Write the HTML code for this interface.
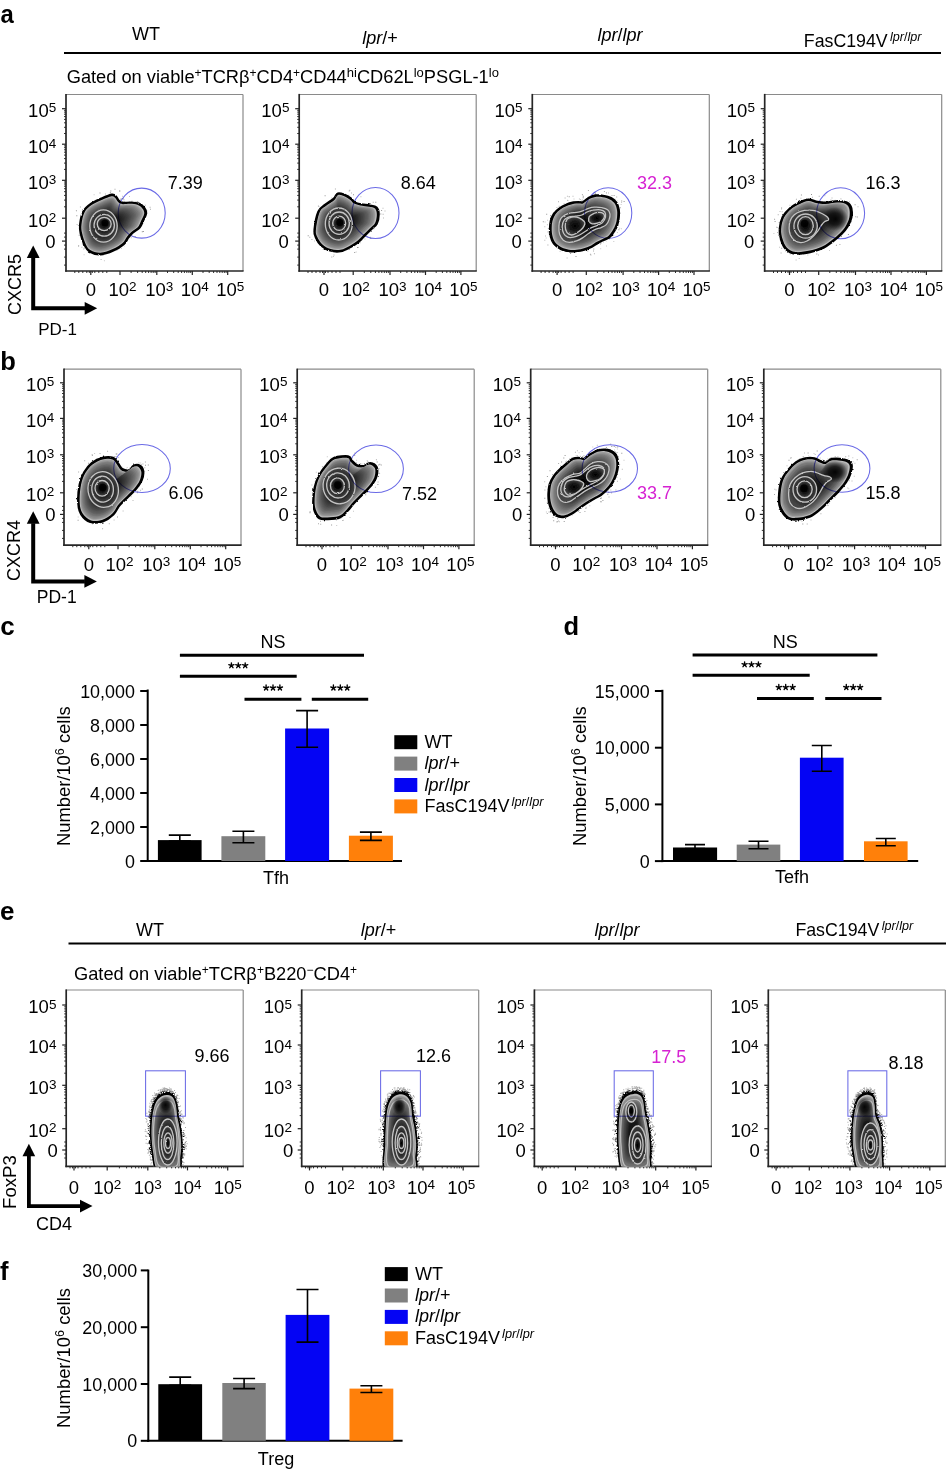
<!DOCTYPE html>
<html><head><meta charset="utf-8"><style>html,body{margin:0;padding:0;background:#fff;overflow:hidden;}svg{display:block;}text{font-family:"Liberation Sans", sans-serif;}</style></head>
<body><svg width="946" height="1469" viewBox="0 0 946 1469"><defs><filter id="rough" x="-10%" y="-10%" width="120%" height="120%"><feTurbulence type="fractalNoise" baseFrequency="0.35" numOctaves="2" seed="3"/><feDisplacementMap in="SourceGraphic" scale="2.2" xChannelSelector="R" yChannelSelector="G"/></filter><filter id="rough2" x="-10%" y="-10%" width="120%" height="120%"><feTurbulence type="fractalNoise" baseFrequency="0.25" numOctaves="2" seed="9"/><feDisplacementMap in="SourceGraphic" scale="1.8" xChannelSelector="R" yChannelSelector="G"/></filter><path id="p1" d="M80.8,224.5C81.2,220.9 82.2,215.3 84,211.9C85.8,208.5 88.6,206.4 91.6,204.3C94.5,202.2 98.3,200.7 101.7,199.2C105.1,197.7 109.6,195.7 111.9,195.4C114.2,195.1 114.6,196.2 115.7,197.3C116.8,198.4 117.5,200.6 118.8,201.7C120.1,202.8 121.3,203.3 123.3,203.6C125.3,203.8 128.4,203.1 130.9,203.2C133.4,203.3 136.4,203.5 138.5,204.3C140.6,205.1 142.4,206.6 143.6,208.1C144.8,209.6 145.7,211 145.5,213.1C145.3,215.2 143.4,218.4 142.3,220.7C141.2,223 140.8,225.2 139.1,227.1C137.4,229 134.1,230.5 132.2,232.2C130.3,233.9 129.2,235.3 127.7,237.2C126.2,239.1 125.7,241.5 123.3,243.6C120.9,245.7 116.9,248.2 113.1,249.9C109.3,251.6 104.2,253.5 100.4,253.7C96.6,253.9 92.8,252.7 90.3,251.2C87.8,249.7 86.7,247.8 85.2,244.8C83.7,241.8 82.1,236.8 81.4,233.4C80.7,230 80.4,228.1 80.8,224.5Z"/><radialGradient id="rg2"><stop offset="0" stop-color="#000"/><stop offset="0.55" stop-color="#1a1a1a"/><stop offset="1" stop-color="#444"/></radialGradient><radialGradient id="rg3"><stop offset="0" stop-color="#000"/><stop offset="0.55" stop-color="#1a1a1a"/><stop offset="1" stop-color="#444"/></radialGradient><radialGradient id="rg4"><stop offset="0" stop-color="#000"/><stop offset="0.55" stop-color="#1a1a1a"/><stop offset="1" stop-color="#444"/></radialGradient><path id="p5" d="M315.2,229.6C315.6,225.4 317.3,215.9 319,211.9C320.7,207.9 322.8,207.6 325.4,205.5C327.9,203.4 332.2,201.1 334.3,199.2C336.4,197.3 336.4,194.7 338.1,194.1C339.8,193.5 342.3,194.6 344.4,195.4C346.5,196.2 349,197.9 350.7,199.2C352.4,200.5 352.8,202.1 354.5,203C356.2,203.9 358.3,204.4 360.9,204.9C363.4,205.4 367.3,205.7 369.8,206.2C372.3,206.7 374.7,206.7 376.1,208.1C377.5,209.5 378,211.9 378,214.4C378,216.9 377.3,221 376.1,223.3C374.9,225.6 372.9,226.5 371,228.4C369.1,230.3 366.8,232.6 364.7,234.7C362.6,236.8 360.7,239.1 358.4,241C356.1,242.9 353.7,244.5 350.7,246.1C347.7,247.7 344,250 340.6,250.6C337.2,251.2 333.6,250.9 330.4,249.9C327.2,248.9 323.9,246.9 321.6,244.8C319.3,242.7 317.6,239.7 316.5,237.2C315.4,234.7 314.8,233.8 315.2,229.6Z"/><radialGradient id="rg6"><stop offset="0" stop-color="#000"/><stop offset="0.55" stop-color="#1a1a1a"/><stop offset="1" stop-color="#444"/></radialGradient><radialGradient id="rg7"><stop offset="0" stop-color="#000"/><stop offset="0.55" stop-color="#1a1a1a"/><stop offset="1" stop-color="#444"/></radialGradient><radialGradient id="rg8"><stop offset="0" stop-color="#000"/><stop offset="0.55" stop-color="#1a1a1a"/><stop offset="1" stop-color="#444"/></radialGradient><path id="p9" d="M550.7,228.3C550.7,225.7 550.9,223.3 551.5,220.9C552.1,218.6 553.1,216.2 554.4,214.2C555.8,212.3 557.6,210.5 559.6,209.1C561.6,207.6 563.9,206.3 566.3,205.4C568.6,204.4 571.5,203.6 573.7,203.1C575.9,202.7 578.1,202.8 579.6,202.8C581.1,202.8 581.7,203.3 582.6,203.1C583.4,203 583.6,202.5 584.8,201.7C586,200.8 588.1,198.9 590,198C591.8,197 593.7,196.4 595.9,196.1C598.1,195.9 600.8,196 603.3,196.5C605.8,196.9 608.6,197.6 610.7,198.7C612.8,199.8 614.6,201.3 615.9,203.1C617.1,205 617.7,207.5 618.1,209.8C618.5,212.1 618.3,214.7 618.1,217.2C617.9,219.7 617.4,222.4 616.6,224.6C615.9,226.8 614.9,228.6 613.7,230.5C612.4,232.5 610.9,235 609.2,236.5C607.5,237.9 605.3,238.4 603.3,239.4C601.3,240.4 599.3,241.3 597.4,242.4C595.4,243.5 593.7,245 591.5,246.1C589.2,247.2 586.5,248.3 584,249C581.6,249.8 579.2,250.3 576.6,250.5C574.1,250.8 571.1,250.9 568.5,250.5C565.9,250.1 563.4,249.5 561.1,248.3C558.8,247.1 556,245.1 554.4,243.1C552.8,241.1 552.1,238.9 551.5,236.5C550.9,234 550.7,230.9 550.7,228.3Z"/><radialGradient id="sg10"><stop offset="0" stop-color="#000" stop-opacity="0.95"/><stop offset="0.5" stop-color="#000" stop-opacity="0.7"/><stop offset="1" stop-color="#000" stop-opacity="0"/></radialGradient><radialGradient id="sg11"><stop offset="0" stop-color="#000" stop-opacity="0.95"/><stop offset="0.5" stop-color="#000" stop-opacity="0.7"/><stop offset="1" stop-color="#000" stop-opacity="0"/></radialGradient><radialGradient id="rg12"><stop offset="0" stop-color="#000"/><stop offset="0.55" stop-color="#1a1a1a"/><stop offset="1" stop-color="#444"/></radialGradient><radialGradient id="rg13"><stop offset="0" stop-color="#000"/><stop offset="0.55" stop-color="#1a1a1a"/><stop offset="1" stop-color="#444"/></radialGradient><radialGradient id="rg14"><stop offset="0" stop-color="#000"/><stop offset="0.55" stop-color="#1a1a1a"/><stop offset="1" stop-color="#444"/></radialGradient><radialGradient id="rg15"><stop offset="0" stop-color="#000"/><stop offset="0.55" stop-color="#1a1a1a"/><stop offset="1" stop-color="#444"/></radialGradient><path id="p16" d="M780.4,229.2C780.6,225.5 781.6,220.8 783.3,217.4C785,214 788,210.8 790.7,208.5C793.4,206.2 796.6,204.7 799.6,203.3C802.6,201.9 805.5,200.4 808.5,200.3C811.5,200.2 814.4,202.1 817.4,202.6C820.4,203.1 822.8,203.4 826.2,203.3C829.7,203.2 834.6,201.8 838.1,201.8C841.6,201.8 844.9,202.2 847,203.3C849.1,204.4 850.1,206.2 850.7,208.5C851.3,210.8 851.3,214.5 850.7,217.4C850.1,220.3 848.6,223.5 847,226.2C845.4,228.9 843.5,231.1 841,233.6C838.5,236.1 835.2,238.8 832.2,241C829.2,243.2 827,245.3 823.3,247C819.6,248.7 814.7,250.4 810,251.4C805.3,252.4 799.2,253.4 795.2,252.9C791.2,252.4 788.5,250.6 786.3,248.4C784.1,246.2 782.8,242.8 781.8,239.6C780.8,236.4 780.1,232.9 780.4,229.2Z"/><radialGradient id="sg17"><stop offset="0" stop-color="#000" stop-opacity="0.95"/><stop offset="0.5" stop-color="#000" stop-opacity="0.7"/><stop offset="1" stop-color="#000" stop-opacity="0"/></radialGradient><radialGradient id="rg18"><stop offset="0" stop-color="#000"/><stop offset="0.55" stop-color="#1a1a1a"/><stop offset="1" stop-color="#444"/></radialGradient><radialGradient id="rg19"><stop offset="0" stop-color="#000"/><stop offset="0.55" stop-color="#1a1a1a"/><stop offset="1" stop-color="#444"/></radialGradient><radialGradient id="rg20"><stop offset="0" stop-color="#000"/><stop offset="0.55" stop-color="#1a1a1a"/><stop offset="1" stop-color="#444"/></radialGradient><path id="p21" d="M78.9,502.2C78.7,497.3 79.4,489.3 80.4,484.4C81.4,479.5 82.8,476.1 84.8,472.6C86.8,469.2 89.2,466.1 92.2,463.7C95.2,461.3 99.1,459.4 102.6,458.5C106,457.6 110.4,457.6 112.9,458.5C115.4,459.4 115.9,461.8 117.4,463.7C118.9,465.6 119.8,468.4 121.8,469.6C123.8,470.8 127.2,471.6 129.2,471.1C131.2,470.6 132,467.5 133.6,466.6C135.2,465.7 137.3,465.1 138.8,465.9C140.3,466.6 142.1,468.8 142.5,471.1C142.9,473.5 142.2,477.1 141,480C139.8,482.9 137.3,486.1 135.1,488.8C132.9,491.5 130.4,493.5 127.7,496.2C125,498.9 121.3,502.1 118.8,505.1C116.3,508.1 115.6,511.4 112.9,514C110.2,516.6 106.3,519.5 102.6,520.7C98.9,521.9 94.2,522.5 90.7,521.4C87.2,520.3 83.8,517.2 81.8,514C79.8,510.8 79.1,507.1 78.9,502.2Z"/><radialGradient id="rg22"><stop offset="0" stop-color="#000"/><stop offset="0.55" stop-color="#1a1a1a"/><stop offset="1" stop-color="#444"/></radialGradient><radialGradient id="rg23"><stop offset="0" stop-color="#000"/><stop offset="0.55" stop-color="#1a1a1a"/><stop offset="1" stop-color="#444"/></radialGradient><radialGradient id="rg24"><stop offset="0" stop-color="#000"/><stop offset="0.55" stop-color="#1a1a1a"/><stop offset="1" stop-color="#444"/></radialGradient><path id="p25" d="M313.9,502.2C313.9,498.3 314.4,491.8 315.4,487.4C316.4,482.9 317.8,479.2 319.8,475.5C321.8,471.8 324.7,468 327.2,465.2C329.7,462.4 331.2,459.9 334.6,458.5C338.1,457.1 345.2,456.6 347.9,457C350.6,457.4 349.4,459.2 350.9,460.7C352.4,462.2 354.6,464.9 356.8,465.9C359,466.9 362,467 364.2,466.6C366.4,466.2 368.1,463.6 370.1,463.7C372.1,463.8 375,465.4 376,467.4C377,469.4 376.6,472.9 376,475.5C375.4,478.1 373.8,480.7 372.3,482.9C370.8,485.1 369.1,486.8 367.2,488.8C365.3,490.8 363.4,492.6 361.2,494.8C359,497 356.3,499.5 353.8,502.2C351.3,504.9 348.9,508.5 346.4,511C343.9,513.5 342.2,515.8 339,517C335.8,518.2 330.4,518.3 327.2,518.4C324,518.5 321.8,518.9 319.8,517.7C317.8,516.5 316.4,513.6 315.4,511C314.4,508.4 313.9,506.1 313.9,502.2Z"/><radialGradient id="rg26"><stop offset="0" stop-color="#000"/><stop offset="0.55" stop-color="#1a1a1a"/><stop offset="1" stop-color="#444"/></radialGradient><radialGradient id="rg27"><stop offset="0" stop-color="#000"/><stop offset="0.55" stop-color="#1a1a1a"/><stop offset="1" stop-color="#444"/></radialGradient><radialGradient id="rg28"><stop offset="0" stop-color="#000"/><stop offset="0.55" stop-color="#1a1a1a"/><stop offset="1" stop-color="#444"/></radialGradient><path id="p29" d="M549.1,493.7C549.3,490.9 549.5,487.3 550.3,484.5C551.1,481.7 552.6,479.2 554.1,476.9C555.6,474.6 557.4,472.9 559.4,470.8C561.4,468.8 564,466.6 566.3,464.7C568.5,462.8 570.8,460.4 573.1,459.4C575.4,458.4 578.1,458.7 580,458.7C581.9,458.7 582.8,460 584.5,459.4C586.3,458.8 588.3,456.2 590.6,454.8C592.9,453.5 595.7,451.8 598.2,451C600.8,450.3 603.4,450 605.8,450.3C608.2,450.5 610.9,451.3 612.7,452.6C614.5,453.8 615.7,455.7 616.5,457.9C617.3,460 617.4,462.8 617.3,465.5C617.1,468.2 616.6,471.1 615.7,473.9C614.8,476.7 613.4,479.7 611.9,482.2C610.4,484.8 608.5,487.1 606.6,489.1C604.7,491.1 602.7,492.9 600.5,494.4C598.4,495.9 596.1,496.8 593.7,498.2C591.3,499.6 588.6,501.1 586.1,502.8C583.5,504.4 581,506.3 578.4,508.1C575.9,509.9 573.4,512.1 570.8,513.4C568.3,514.8 565.6,516.2 563.2,516.5C560.8,516.7 558.3,516.2 556.4,515C554.5,513.7 552.9,511.2 551.8,508.9C550.7,506.6 550,503.8 549.5,501.3C549.1,498.7 549,496.5 549.1,493.7Z"/><radialGradient id="sg30"><stop offset="0" stop-color="#000" stop-opacity="0.95"/><stop offset="0.5" stop-color="#000" stop-opacity="0.7"/><stop offset="1" stop-color="#000" stop-opacity="0"/></radialGradient><radialGradient id="sg31"><stop offset="0" stop-color="#000" stop-opacity="0.95"/><stop offset="0.5" stop-color="#000" stop-opacity="0.7"/><stop offset="1" stop-color="#000" stop-opacity="0"/></radialGradient><radialGradient id="rg32"><stop offset="0" stop-color="#000"/><stop offset="0.55" stop-color="#1a1a1a"/><stop offset="1" stop-color="#444"/></radialGradient><radialGradient id="rg33"><stop offset="0" stop-color="#000"/><stop offset="0.55" stop-color="#1a1a1a"/><stop offset="1" stop-color="#444"/></radialGradient><radialGradient id="rg34"><stop offset="0" stop-color="#000"/><stop offset="0.55" stop-color="#1a1a1a"/><stop offset="1" stop-color="#444"/></radialGradient><radialGradient id="rg35"><stop offset="0" stop-color="#000"/><stop offset="0.55" stop-color="#1a1a1a"/><stop offset="1" stop-color="#444"/></radialGradient><path id="p36" d="M779.6,498.1C779.7,493.7 780.4,486.2 781.8,481.8C783.2,477.4 785.3,474.6 787.8,471.4C790.3,468.2 793.6,464.7 796.6,462.6C799.6,460.5 802.5,459.5 805.5,458.9C808.5,458.3 811.9,458.4 814.4,458.9C816.9,459.4 818.3,461.1 820.3,461.8C822.3,462.5 824.2,463.7 826.2,463.3C828.2,462.9 829.2,460.1 832.2,459.6C835.2,459.1 840.9,459.6 844,460.3C847.1,461 849.7,461.9 850.7,464C851.7,466.1 850.8,469.9 849.9,472.9C849,475.9 847.5,478.8 845.5,481.8C843.5,484.8 840.8,487.7 838.1,490.7C835.4,493.7 832.2,496.7 829.2,499.6C826.2,502.6 823.5,505.7 820.3,508.4C817.1,511.1 814,514.1 810,515.8C806,517.5 800.3,518.5 796.6,518.8C792.9,519 790.4,519 787.8,517.3C785.2,515.6 782.5,511.6 781.1,508.4C779.7,505.2 779.5,502.5 779.6,498.1Z"/><radialGradient id="sg37"><stop offset="0" stop-color="#000" stop-opacity="0.95"/><stop offset="0.5" stop-color="#000" stop-opacity="0.7"/><stop offset="1" stop-color="#000" stop-opacity="0"/></radialGradient><radialGradient id="rg38"><stop offset="0" stop-color="#000"/><stop offset="0.55" stop-color="#1a1a1a"/><stop offset="1" stop-color="#444"/></radialGradient><radialGradient id="rg39"><stop offset="0" stop-color="#000"/><stop offset="0.55" stop-color="#1a1a1a"/><stop offset="1" stop-color="#444"/></radialGradient><radialGradient id="rg40"><stop offset="0" stop-color="#000"/><stop offset="0.55" stop-color="#1a1a1a"/><stop offset="1" stop-color="#444"/></radialGradient><clipPath id="ce0"><rect x="66.2" y="990" width="177" height="176.4"/></clipPath><clipPath id="ce1"><rect x="301.7" y="990" width="177" height="176.4"/></clipPath><clipPath id="ce2"><rect x="534.4" y="990" width="177" height="176.4"/></clipPath><clipPath id="ce3"><rect x="768.3" y="990" width="177" height="176.4"/></clipPath><path id="p41" d="M157.9,1172C153.7,1168.8 153.9,1159 152.8,1153C151.7,1147 151.3,1141.7 151.1,1136.1C150.9,1130.5 151.2,1124.1 151.6,1119.2C152,1114.3 152.8,1109.9 153.7,1106.5C154.6,1103.1 155.7,1100.9 157.1,1098.9C158.5,1096.9 160.3,1095.6 162.1,1094.7C163.9,1093.8 166.3,1093.5 168.1,1093.8C169.9,1094.1 171.8,1094.7 173.1,1096.4C174.4,1098.1 175.4,1100.9 176.1,1104C176.8,1107.1 176.8,1111 177.4,1115C178,1119 179.2,1122.8 179.9,1127.7C180.6,1132.6 181.5,1139.7 181.6,1144.6C181.7,1149.5 181.3,1152.7 180.7,1157.3C180.1,1161.9 182,1169.5 178.2,1172C174.4,1174.5 162.1,1175.2 157.9,1172Z"/><radialGradient id="sg42"><stop offset="0" stop-color="#000" stop-opacity="0.95"/><stop offset="0.5" stop-color="#000" stop-opacity="0.7"/><stop offset="1" stop-color="#000" stop-opacity="0"/></radialGradient><radialGradient id="rg43"><stop offset="0" stop-color="#000"/><stop offset="0.55" stop-color="#1a1a1a"/><stop offset="1" stop-color="#444"/></radialGradient><radialGradient id="rg44"><stop offset="0" stop-color="#000"/><stop offset="0.55" stop-color="#1a1a1a"/><stop offset="1" stop-color="#444"/></radialGradient><radialGradient id="rg45"><stop offset="0" stop-color="#000"/><stop offset="0.55" stop-color="#1a1a1a"/><stop offset="1" stop-color="#444"/></radialGradient><radialGradient id="rg46"><stop offset="0" stop-color="#000"/><stop offset="0.55" stop-color="#1a1a1a"/><stop offset="1" stop-color="#444"/></radialGradient><path id="p47" d="M386.1,1172C381.2,1167.4 385,1152 384.9,1144.6C384.8,1137.2 385,1133.3 385.3,1127.7C385.6,1122.1 385.9,1115.2 386.6,1110.7C387.3,1106.2 388.2,1103.3 389.5,1100.6C390.8,1097.9 392.6,1096 394.6,1094.7C396.6,1093.4 399.3,1092.9 401.4,1093C403.5,1093.1 405.7,1094 407.3,1095.5C408.9,1097 410.2,1099 411.1,1102.3C412,1105.5 411.8,1110.8 412.4,1115C413,1119.2 414.2,1122.8 414.9,1127.7C415.6,1132.6 416.5,1139.7 416.6,1144.6C416.7,1149.5 416.1,1152.7 415.7,1157.3C415.3,1161.9 418.9,1169.5 414,1172C409.1,1174.5 391,1176.6 386.1,1172Z"/><radialGradient id="sg48"><stop offset="0" stop-color="#000" stop-opacity="0.95"/><stop offset="0.5" stop-color="#000" stop-opacity="0.7"/><stop offset="1" stop-color="#000" stop-opacity="0"/></radialGradient><radialGradient id="rg49"><stop offset="0" stop-color="#000"/><stop offset="0.55" stop-color="#1a1a1a"/><stop offset="1" stop-color="#444"/></radialGradient><radialGradient id="rg50"><stop offset="0" stop-color="#000"/><stop offset="0.55" stop-color="#1a1a1a"/><stop offset="1" stop-color="#444"/></radialGradient><radialGradient id="rg51"><stop offset="0" stop-color="#000"/><stop offset="0.55" stop-color="#1a1a1a"/><stop offset="1" stop-color="#444"/></radialGradient><radialGradient id="rg52"><stop offset="0" stop-color="#000"/><stop offset="0.55" stop-color="#1a1a1a"/><stop offset="1" stop-color="#444"/></radialGradient><path id="p53" d="M623.7,1172C618.8,1168.1 619.5,1156.2 618.6,1148.8C617.7,1141.4 618.1,1134 618.2,1127.7C618.4,1121.4 618.9,1115.2 619.5,1110.7C620.1,1106.2 620.7,1103.3 622,1100.6C623.3,1097.9 625.1,1096 627.1,1094.7C629.1,1093.4 631.7,1092.8 633.8,1092.6C635.9,1092.4 638.2,1092.8 639.7,1093.8C641.2,1094.8 642.2,1096.1 643.1,1098.9C644,1101.7 644.1,1106.6 644.8,1110.7C645.5,1114.8 646.5,1118.5 647.4,1123.4C648.2,1128.3 649.5,1134.7 649.9,1140.3C650.3,1145.9 650.2,1152 649.9,1157.3C649.6,1162.6 652.6,1169.5 648.2,1172C643.8,1174.5 628.6,1175.9 623.7,1172Z"/><radialGradient id="rg54"><stop offset="0" stop-color="#000"/><stop offset="0.55" stop-color="#1a1a1a"/><stop offset="1" stop-color="#444"/></radialGradient><radialGradient id="rg55"><stop offset="0" stop-color="#000"/><stop offset="0.55" stop-color="#1a1a1a"/><stop offset="1" stop-color="#444"/></radialGradient><radialGradient id="rg56"><stop offset="0" stop-color="#000"/><stop offset="0.55" stop-color="#1a1a1a"/><stop offset="1" stop-color="#444"/></radialGradient><radialGradient id="rg57"><stop offset="0" stop-color="#000"/><stop offset="0.55" stop-color="#1a1a1a"/><stop offset="1" stop-color="#444"/></radialGradient><radialGradient id="rg58"><stop offset="0" stop-color="#000"/><stop offset="0.55" stop-color="#1a1a1a"/><stop offset="1" stop-color="#444"/></radialGradient><path id="p59" d="M859.5,1172C855,1168.8 854.8,1159 853.6,1153C852.4,1147 852.4,1141.7 852.3,1136.1C852.2,1130.5 852.7,1124.1 853.2,1119.2C853.7,1114.3 854.4,1110 855.3,1106.5C856.2,1103 857.3,1100.1 858.7,1098.1C860.1,1096 862.1,1094.9 863.8,1094.2C865.5,1093.5 867.2,1093.4 868.8,1093.8C870.3,1094.2 872.1,1094.7 873.1,1096.4C874.1,1098.1 874.3,1100.9 874.7,1104C875.1,1107.1 874.9,1111.8 875.6,1115C876.3,1118.2 878,1119.9 879,1123.4C880,1126.9 881,1131.2 881.5,1136.1C882,1141 882,1147 881.9,1153C881.8,1159 884.4,1168.8 880.7,1172C877,1175.2 864,1175.2 859.5,1172Z"/><radialGradient id="sg60"><stop offset="0" stop-color="#000" stop-opacity="0.95"/><stop offset="0.5" stop-color="#000" stop-opacity="0.7"/><stop offset="1" stop-color="#000" stop-opacity="0"/></radialGradient><radialGradient id="rg61"><stop offset="0" stop-color="#000"/><stop offset="0.55" stop-color="#1a1a1a"/><stop offset="1" stop-color="#444"/></radialGradient><radialGradient id="rg62"><stop offset="0" stop-color="#000"/><stop offset="0.55" stop-color="#1a1a1a"/><stop offset="1" stop-color="#444"/></radialGradient><radialGradient id="rg63"><stop offset="0" stop-color="#000"/><stop offset="0.55" stop-color="#1a1a1a"/><stop offset="1" stop-color="#444"/></radialGradient><radialGradient id="rg64"><stop offset="0" stop-color="#000"/><stop offset="0.55" stop-color="#1a1a1a"/><stop offset="1" stop-color="#444"/></radialGradient></defs><text x="0.3" y="22.5" font-size="26.5" font-weight="bold" transform="translate(0.3 0) scale(0.9 1)">a</text><text x="0.3" y="369.6" font-size="25.5" text-anchor="start" fill="#000" font-weight="bold" font-style="normal" >b</text><text x="0.3" y="634.5" font-size="26" text-anchor="start" fill="#000" font-weight="bold" font-style="normal" >c</text><text x="563.5" y="635.3" font-size="25.5" text-anchor="start" fill="#000" font-weight="bold" font-style="normal" >d</text><text x="0" y="920.4" font-size="26" text-anchor="start" fill="#000" font-weight="bold" font-style="normal" >e</text><text x="0" y="1280.1" font-size="25.5" text-anchor="start" fill="#000" font-weight="bold" font-style="normal" >f</text><line x1="64" y1="53" x2="941" y2="53" stroke="#000" stroke-width="2.2" stroke-linecap="butt"/><text x="146" y="39.8" font-size="18" text-anchor="middle" fill="#000" font-weight="normal" font-style="normal" >WT</text><text x="380" y="43.7" font-size="18" text-anchor="middle"><tspan font-style="italic">lpr</tspan>/+</text><text x="620" y="40.7" font-size="18" text-anchor="middle"><tspan font-style="italic">lpr</tspan>/<tspan font-style="italic">lpr</tspan></text><text x="803.8" y="46.7" font-size="17.75">FasC194V<tspan dx="2.4" dy="-6" font-size="12.6"><tspan font-style="italic">lpr</tspan>/<tspan font-style="italic">lpr</tspan></tspan></text><text x="66.7" y="82.8" font-size="18.25">Gated on viable<tspan dy="-6" font-size="12">+</tspan><tspan dy="6">TCR&#946;</tspan><tspan dy="-6" font-size="12">+</tspan><tspan dy="6">CD4</tspan><tspan dy="-6" font-size="12">+</tspan><tspan dy="6">CD44</tspan><tspan dy="-6" font-size="13">hi</tspan><tspan dy="6">CD62L</tspan><tspan dy="-6" font-size="13">lo</tspan><tspan dy="6">PSGL-1</tspan><tspan dy="-6" font-size="13">lo</tspan></text><line x1="66" y1="94.5" x2="243" y2="94.5" stroke="#8a8a8a" stroke-width="1.2" stroke-linecap="butt"/><line x1="243" y1="94.5" x2="243" y2="271" stroke="#8a8a8a" stroke-width="1.2" stroke-linecap="butt"/><line x1="64" y1="133.5" x2="66" y2="133.5" stroke="#333" stroke-width="1" stroke-linecap="butt"/><line x1="64" y1="127.3" x2="66" y2="127.3" stroke="#333" stroke-width="1" stroke-linecap="butt"/><line x1="64" y1="122.8" x2="66" y2="122.8" stroke="#333" stroke-width="1" stroke-linecap="butt"/><line x1="64" y1="119.4" x2="66" y2="119.4" stroke="#333" stroke-width="1" stroke-linecap="butt"/><line x1="64" y1="116.6" x2="66" y2="116.6" stroke="#333" stroke-width="1" stroke-linecap="butt"/><line x1="64" y1="114.2" x2="66" y2="114.2" stroke="#333" stroke-width="1" stroke-linecap="butt"/><line x1="64" y1="112.1" x2="66" y2="112.1" stroke="#333" stroke-width="1" stroke-linecap="butt"/><line x1="64" y1="110.3" x2="66" y2="110.3" stroke="#333" stroke-width="1" stroke-linecap="butt"/><line x1="64" y1="169.4" x2="66" y2="169.4" stroke="#333" stroke-width="1" stroke-linecap="butt"/><line x1="64" y1="163.1" x2="66" y2="163.1" stroke="#333" stroke-width="1" stroke-linecap="butt"/><line x1="64" y1="158.6" x2="66" y2="158.6" stroke="#333" stroke-width="1" stroke-linecap="butt"/><line x1="64" y1="155.1" x2="66" y2="155.1" stroke="#333" stroke-width="1" stroke-linecap="butt"/><line x1="64" y1="152.2" x2="66" y2="152.2" stroke="#333" stroke-width="1" stroke-linecap="butt"/><line x1="64" y1="149.8" x2="66" y2="149.8" stroke="#333" stroke-width="1" stroke-linecap="butt"/><line x1="64" y1="147.7" x2="66" y2="147.7" stroke="#333" stroke-width="1" stroke-linecap="butt"/><line x1="64" y1="145.9" x2="66" y2="145.9" stroke="#333" stroke-width="1" stroke-linecap="butt"/><line x1="64" y1="206.8" x2="66" y2="206.8" stroke="#333" stroke-width="1" stroke-linecap="butt"/><line x1="64" y1="200.1" x2="66" y2="200.1" stroke="#333" stroke-width="1" stroke-linecap="butt"/><line x1="64" y1="195.4" x2="66" y2="195.4" stroke="#333" stroke-width="1" stroke-linecap="butt"/><line x1="64" y1="191.7" x2="66" y2="191.7" stroke="#333" stroke-width="1" stroke-linecap="butt"/><line x1="64" y1="188.7" x2="66" y2="188.7" stroke="#333" stroke-width="1" stroke-linecap="butt"/><line x1="64" y1="186.2" x2="66" y2="186.2" stroke="#333" stroke-width="1" stroke-linecap="butt"/><line x1="64" y1="184" x2="66" y2="184" stroke="#333" stroke-width="1" stroke-linecap="butt"/><line x1="64" y1="182" x2="66" y2="182" stroke="#333" stroke-width="1" stroke-linecap="butt"/><line x1="64" y1="233.1" x2="66" y2="233.1" stroke="#333" stroke-width="1" stroke-linecap="butt"/><line x1="64" y1="237.1" x2="66" y2="237.1" stroke="#333" stroke-width="1" stroke-linecap="butt"/><line x1="64" y1="245.1" x2="66" y2="245.1" stroke="#333" stroke-width="1" stroke-linecap="butt"/><line x1="64" y1="249.1" x2="66" y2="249.1" stroke="#333" stroke-width="1" stroke-linecap="butt"/><line x1="64" y1="257.1" x2="66" y2="257.1" stroke="#333" stroke-width="1" stroke-linecap="butt"/><line x1="64" y1="265.1" x2="66" y2="265.1" stroke="#333" stroke-width="1" stroke-linecap="butt"/><line x1="62" y1="108.7" x2="66" y2="108.7" stroke="#222" stroke-width="1.2" stroke-linecap="butt"/><text x="56.2" y="117" font-size="18.5" text-anchor="end">10<tspan dy="-4.8" font-size="13.5">5</tspan></text><line x1="62" y1="144.2" x2="66" y2="144.2" stroke="#222" stroke-width="1.2" stroke-linecap="butt"/><text x="56.2" y="152.5" font-size="18.5" text-anchor="end">10<tspan dy="-4.8" font-size="13.5">4</tspan></text><line x1="62" y1="180.3" x2="66" y2="180.3" stroke="#222" stroke-width="1.2" stroke-linecap="butt"/><text x="56.2" y="188.6" font-size="18.5" text-anchor="end">10<tspan dy="-4.8" font-size="13.5">3</tspan></text><line x1="62" y1="218.2" x2="66" y2="218.2" stroke="#222" stroke-width="1.2" stroke-linecap="butt"/><text x="56.2" y="226.5" font-size="18.5" text-anchor="end">10<tspan dy="-4.8" font-size="13.5">2</tspan></text><line x1="62" y1="241.1" x2="66" y2="241.1" stroke="#222" stroke-width="1.2" stroke-linecap="butt"/><text x="55.5" y="247.9" font-size="18.5" text-anchor="end">0</text><line x1="131.1" y1="271" x2="131.1" y2="273" stroke="#333" stroke-width="1" stroke-linecap="butt"/><line x1="137.6" y1="271" x2="137.6" y2="273" stroke="#333" stroke-width="1" stroke-linecap="butt"/><line x1="142.2" y1="271" x2="142.2" y2="273" stroke="#333" stroke-width="1" stroke-linecap="butt"/><line x1="145.7" y1="271" x2="145.7" y2="273" stroke="#333" stroke-width="1" stroke-linecap="butt"/><line x1="148.6" y1="271" x2="148.6" y2="273" stroke="#333" stroke-width="1" stroke-linecap="butt"/><line x1="151.1" y1="271" x2="151.1" y2="273" stroke="#333" stroke-width="1" stroke-linecap="butt"/><line x1="153.2" y1="271" x2="153.2" y2="273" stroke="#333" stroke-width="1" stroke-linecap="butt"/><line x1="155.1" y1="271" x2="155.1" y2="273" stroke="#333" stroke-width="1" stroke-linecap="butt"/><line x1="167.5" y1="271" x2="167.5" y2="273" stroke="#333" stroke-width="1" stroke-linecap="butt"/><line x1="173.7" y1="271" x2="173.7" y2="273" stroke="#333" stroke-width="1" stroke-linecap="butt"/><line x1="178.2" y1="271" x2="178.2" y2="273" stroke="#333" stroke-width="1" stroke-linecap="butt"/><line x1="181.6" y1="271" x2="181.6" y2="273" stroke="#333" stroke-width="1" stroke-linecap="butt"/><line x1="184.4" y1="271" x2="184.4" y2="273" stroke="#333" stroke-width="1" stroke-linecap="butt"/><line x1="186.8" y1="271" x2="186.8" y2="273" stroke="#333" stroke-width="1" stroke-linecap="butt"/><line x1="188.9" y1="271" x2="188.9" y2="273" stroke="#333" stroke-width="1" stroke-linecap="butt"/><line x1="190.7" y1="271" x2="190.7" y2="273" stroke="#333" stroke-width="1" stroke-linecap="butt"/><line x1="203" y1="271" x2="203" y2="273" stroke="#333" stroke-width="1" stroke-linecap="butt"/><line x1="209.2" y1="271" x2="209.2" y2="273" stroke="#333" stroke-width="1" stroke-linecap="butt"/><line x1="213.6" y1="271" x2="213.6" y2="273" stroke="#333" stroke-width="1" stroke-linecap="butt"/><line x1="217" y1="271" x2="217" y2="273" stroke="#333" stroke-width="1" stroke-linecap="butt"/><line x1="219.8" y1="271" x2="219.8" y2="273" stroke="#333" stroke-width="1" stroke-linecap="butt"/><line x1="222.2" y1="271" x2="222.2" y2="273" stroke="#333" stroke-width="1" stroke-linecap="butt"/><line x1="224.3" y1="271" x2="224.3" y2="273" stroke="#333" stroke-width="1" stroke-linecap="butt"/><line x1="226.1" y1="271" x2="226.1" y2="273" stroke="#333" stroke-width="1" stroke-linecap="butt"/><line x1="74.8" y1="271" x2="74.8" y2="273" stroke="#333" stroke-width="1" stroke-linecap="butt"/><line x1="78.8" y1="271" x2="78.8" y2="273" stroke="#333" stroke-width="1" stroke-linecap="butt"/><line x1="82.8" y1="271" x2="82.8" y2="273" stroke="#333" stroke-width="1" stroke-linecap="butt"/><line x1="86.8" y1="271" x2="86.8" y2="273" stroke="#333" stroke-width="1" stroke-linecap="butt"/><line x1="89.3" y1="271" x2="89.3" y2="273" stroke="#333" stroke-width="1" stroke-linecap="butt"/><line x1="92.3" y1="271" x2="92.3" y2="273" stroke="#333" stroke-width="1" stroke-linecap="butt"/><line x1="94.8" y1="271" x2="94.8" y2="273" stroke="#333" stroke-width="1" stroke-linecap="butt"/><line x1="98.8" y1="271" x2="98.8" y2="273" stroke="#333" stroke-width="1" stroke-linecap="butt"/><line x1="102.8" y1="271" x2="102.8" y2="273" stroke="#333" stroke-width="1" stroke-linecap="butt"/><line x1="106.8" y1="271" x2="106.8" y2="273" stroke="#333" stroke-width="1" stroke-linecap="butt"/><line x1="90.8" y1="271" x2="90.8" y2="275" stroke="#222" stroke-width="1.2" stroke-linecap="butt"/><text x="90.8" y="296" font-size="18.5" text-anchor="middle">0</text><line x1="120" y1="271" x2="120" y2="275" stroke="#222" stroke-width="1.2" stroke-linecap="butt"/><text x="122.5" y="296" font-size="18.5" text-anchor="middle">10<tspan dy="-4.8" font-size="13.5">2</tspan></text><line x1="156.8" y1="271" x2="156.8" y2="275" stroke="#222" stroke-width="1.2" stroke-linecap="butt"/><text x="159.3" y="296" font-size="18.5" text-anchor="middle">10<tspan dy="-4.8" font-size="13.5">3</tspan></text><line x1="192.3" y1="271" x2="192.3" y2="275" stroke="#222" stroke-width="1.2" stroke-linecap="butt"/><text x="194.8" y="296" font-size="18.5" text-anchor="middle">10<tspan dy="-4.8" font-size="13.5">4</tspan></text><line x1="227.7" y1="271" x2="227.7" y2="275" stroke="#222" stroke-width="1.2" stroke-linecap="butt"/><text x="230.2" y="296" font-size="18.5" text-anchor="middle">10<tspan dy="-4.8" font-size="13.5">5</tspan></text><line x1="66" y1="93.9" x2="66" y2="271.8" stroke="#262626" stroke-width="1.7" stroke-linecap="butt"/><line x1="65.2" y1="271" x2="243.6" y2="271" stroke="#262626" stroke-width="1.7" stroke-linecap="butt"/><line x1="299.2" y1="94.5" x2="476.2" y2="94.5" stroke="#8a8a8a" stroke-width="1.2" stroke-linecap="butt"/><line x1="476.2" y1="94.5" x2="476.2" y2="271" stroke="#8a8a8a" stroke-width="1.2" stroke-linecap="butt"/><line x1="297.2" y1="133.5" x2="299.2" y2="133.5" stroke="#333" stroke-width="1" stroke-linecap="butt"/><line x1="297.2" y1="127.3" x2="299.2" y2="127.3" stroke="#333" stroke-width="1" stroke-linecap="butt"/><line x1="297.2" y1="122.8" x2="299.2" y2="122.8" stroke="#333" stroke-width="1" stroke-linecap="butt"/><line x1="297.2" y1="119.4" x2="299.2" y2="119.4" stroke="#333" stroke-width="1" stroke-linecap="butt"/><line x1="297.2" y1="116.6" x2="299.2" y2="116.6" stroke="#333" stroke-width="1" stroke-linecap="butt"/><line x1="297.2" y1="114.2" x2="299.2" y2="114.2" stroke="#333" stroke-width="1" stroke-linecap="butt"/><line x1="297.2" y1="112.1" x2="299.2" y2="112.1" stroke="#333" stroke-width="1" stroke-linecap="butt"/><line x1="297.2" y1="110.3" x2="299.2" y2="110.3" stroke="#333" stroke-width="1" stroke-linecap="butt"/><line x1="297.2" y1="169.4" x2="299.2" y2="169.4" stroke="#333" stroke-width="1" stroke-linecap="butt"/><line x1="297.2" y1="163.1" x2="299.2" y2="163.1" stroke="#333" stroke-width="1" stroke-linecap="butt"/><line x1="297.2" y1="158.6" x2="299.2" y2="158.6" stroke="#333" stroke-width="1" stroke-linecap="butt"/><line x1="297.2" y1="155.1" x2="299.2" y2="155.1" stroke="#333" stroke-width="1" stroke-linecap="butt"/><line x1="297.2" y1="152.2" x2="299.2" y2="152.2" stroke="#333" stroke-width="1" stroke-linecap="butt"/><line x1="297.2" y1="149.8" x2="299.2" y2="149.8" stroke="#333" stroke-width="1" stroke-linecap="butt"/><line x1="297.2" y1="147.7" x2="299.2" y2="147.7" stroke="#333" stroke-width="1" stroke-linecap="butt"/><line x1="297.2" y1="145.9" x2="299.2" y2="145.9" stroke="#333" stroke-width="1" stroke-linecap="butt"/><line x1="297.2" y1="206.8" x2="299.2" y2="206.8" stroke="#333" stroke-width="1" stroke-linecap="butt"/><line x1="297.2" y1="200.1" x2="299.2" y2="200.1" stroke="#333" stroke-width="1" stroke-linecap="butt"/><line x1="297.2" y1="195.4" x2="299.2" y2="195.4" stroke="#333" stroke-width="1" stroke-linecap="butt"/><line x1="297.2" y1="191.7" x2="299.2" y2="191.7" stroke="#333" stroke-width="1" stroke-linecap="butt"/><line x1="297.2" y1="188.7" x2="299.2" y2="188.7" stroke="#333" stroke-width="1" stroke-linecap="butt"/><line x1="297.2" y1="186.2" x2="299.2" y2="186.2" stroke="#333" stroke-width="1" stroke-linecap="butt"/><line x1="297.2" y1="184" x2="299.2" y2="184" stroke="#333" stroke-width="1" stroke-linecap="butt"/><line x1="297.2" y1="182" x2="299.2" y2="182" stroke="#333" stroke-width="1" stroke-linecap="butt"/><line x1="297.2" y1="233.1" x2="299.2" y2="233.1" stroke="#333" stroke-width="1" stroke-linecap="butt"/><line x1="297.2" y1="237.1" x2="299.2" y2="237.1" stroke="#333" stroke-width="1" stroke-linecap="butt"/><line x1="297.2" y1="245.1" x2="299.2" y2="245.1" stroke="#333" stroke-width="1" stroke-linecap="butt"/><line x1="297.2" y1="249.1" x2="299.2" y2="249.1" stroke="#333" stroke-width="1" stroke-linecap="butt"/><line x1="297.2" y1="257.1" x2="299.2" y2="257.1" stroke="#333" stroke-width="1" stroke-linecap="butt"/><line x1="297.2" y1="265.1" x2="299.2" y2="265.1" stroke="#333" stroke-width="1" stroke-linecap="butt"/><line x1="295.2" y1="108.7" x2="299.2" y2="108.7" stroke="#222" stroke-width="1.2" stroke-linecap="butt"/><text x="289.4" y="117" font-size="18.5" text-anchor="end">10<tspan dy="-4.8" font-size="13.5">5</tspan></text><line x1="295.2" y1="144.2" x2="299.2" y2="144.2" stroke="#222" stroke-width="1.2" stroke-linecap="butt"/><text x="289.4" y="152.5" font-size="18.5" text-anchor="end">10<tspan dy="-4.8" font-size="13.5">4</tspan></text><line x1="295.2" y1="180.3" x2="299.2" y2="180.3" stroke="#222" stroke-width="1.2" stroke-linecap="butt"/><text x="289.4" y="188.6" font-size="18.5" text-anchor="end">10<tspan dy="-4.8" font-size="13.5">3</tspan></text><line x1="295.2" y1="218.2" x2="299.2" y2="218.2" stroke="#222" stroke-width="1.2" stroke-linecap="butt"/><text x="289.4" y="226.5" font-size="18.5" text-anchor="end">10<tspan dy="-4.8" font-size="13.5">2</tspan></text><line x1="295.2" y1="241.1" x2="299.2" y2="241.1" stroke="#222" stroke-width="1.2" stroke-linecap="butt"/><text x="288.7" y="247.9" font-size="18.5" text-anchor="end">0</text><line x1="364.3" y1="271" x2="364.3" y2="273" stroke="#333" stroke-width="1" stroke-linecap="butt"/><line x1="370.8" y1="271" x2="370.8" y2="273" stroke="#333" stroke-width="1" stroke-linecap="butt"/><line x1="375.4" y1="271" x2="375.4" y2="273" stroke="#333" stroke-width="1" stroke-linecap="butt"/><line x1="378.9" y1="271" x2="378.9" y2="273" stroke="#333" stroke-width="1" stroke-linecap="butt"/><line x1="381.8" y1="271" x2="381.8" y2="273" stroke="#333" stroke-width="1" stroke-linecap="butt"/><line x1="384.3" y1="271" x2="384.3" y2="273" stroke="#333" stroke-width="1" stroke-linecap="butt"/><line x1="386.4" y1="271" x2="386.4" y2="273" stroke="#333" stroke-width="1" stroke-linecap="butt"/><line x1="388.3" y1="271" x2="388.3" y2="273" stroke="#333" stroke-width="1" stroke-linecap="butt"/><line x1="400.7" y1="271" x2="400.7" y2="273" stroke="#333" stroke-width="1" stroke-linecap="butt"/><line x1="406.9" y1="271" x2="406.9" y2="273" stroke="#333" stroke-width="1" stroke-linecap="butt"/><line x1="411.4" y1="271" x2="411.4" y2="273" stroke="#333" stroke-width="1" stroke-linecap="butt"/><line x1="414.8" y1="271" x2="414.8" y2="273" stroke="#333" stroke-width="1" stroke-linecap="butt"/><line x1="417.6" y1="271" x2="417.6" y2="273" stroke="#333" stroke-width="1" stroke-linecap="butt"/><line x1="420" y1="271" x2="420" y2="273" stroke="#333" stroke-width="1" stroke-linecap="butt"/><line x1="422.1" y1="271" x2="422.1" y2="273" stroke="#333" stroke-width="1" stroke-linecap="butt"/><line x1="423.9" y1="271" x2="423.9" y2="273" stroke="#333" stroke-width="1" stroke-linecap="butt"/><line x1="436.2" y1="271" x2="436.2" y2="273" stroke="#333" stroke-width="1" stroke-linecap="butt"/><line x1="442.4" y1="271" x2="442.4" y2="273" stroke="#333" stroke-width="1" stroke-linecap="butt"/><line x1="446.8" y1="271" x2="446.8" y2="273" stroke="#333" stroke-width="1" stroke-linecap="butt"/><line x1="450.2" y1="271" x2="450.2" y2="273" stroke="#333" stroke-width="1" stroke-linecap="butt"/><line x1="453" y1="271" x2="453" y2="273" stroke="#333" stroke-width="1" stroke-linecap="butt"/><line x1="455.4" y1="271" x2="455.4" y2="273" stroke="#333" stroke-width="1" stroke-linecap="butt"/><line x1="457.5" y1="271" x2="457.5" y2="273" stroke="#333" stroke-width="1" stroke-linecap="butt"/><line x1="459.3" y1="271" x2="459.3" y2="273" stroke="#333" stroke-width="1" stroke-linecap="butt"/><line x1="308" y1="271" x2="308" y2="273" stroke="#333" stroke-width="1" stroke-linecap="butt"/><line x1="312" y1="271" x2="312" y2="273" stroke="#333" stroke-width="1" stroke-linecap="butt"/><line x1="316" y1="271" x2="316" y2="273" stroke="#333" stroke-width="1" stroke-linecap="butt"/><line x1="320" y1="271" x2="320" y2="273" stroke="#333" stroke-width="1" stroke-linecap="butt"/><line x1="322.5" y1="271" x2="322.5" y2="273" stroke="#333" stroke-width="1" stroke-linecap="butt"/><line x1="325.5" y1="271" x2="325.5" y2="273" stroke="#333" stroke-width="1" stroke-linecap="butt"/><line x1="328" y1="271" x2="328" y2="273" stroke="#333" stroke-width="1" stroke-linecap="butt"/><line x1="332" y1="271" x2="332" y2="273" stroke="#333" stroke-width="1" stroke-linecap="butt"/><line x1="336" y1="271" x2="336" y2="273" stroke="#333" stroke-width="1" stroke-linecap="butt"/><line x1="340" y1="271" x2="340" y2="273" stroke="#333" stroke-width="1" stroke-linecap="butt"/><line x1="324" y1="271" x2="324" y2="275" stroke="#222" stroke-width="1.2" stroke-linecap="butt"/><text x="324" y="296" font-size="18.5" text-anchor="middle">0</text><line x1="353.2" y1="271" x2="353.2" y2="275" stroke="#222" stroke-width="1.2" stroke-linecap="butt"/><text x="355.7" y="296" font-size="18.5" text-anchor="middle">10<tspan dy="-4.8" font-size="13.5">2</tspan></text><line x1="390" y1="271" x2="390" y2="275" stroke="#222" stroke-width="1.2" stroke-linecap="butt"/><text x="392.5" y="296" font-size="18.5" text-anchor="middle">10<tspan dy="-4.8" font-size="13.5">3</tspan></text><line x1="425.5" y1="271" x2="425.5" y2="275" stroke="#222" stroke-width="1.2" stroke-linecap="butt"/><text x="428" y="296" font-size="18.5" text-anchor="middle">10<tspan dy="-4.8" font-size="13.5">4</tspan></text><line x1="460.9" y1="271" x2="460.9" y2="275" stroke="#222" stroke-width="1.2" stroke-linecap="butt"/><text x="463.4" y="296" font-size="18.5" text-anchor="middle">10<tspan dy="-4.8" font-size="13.5">5</tspan></text><line x1="299.2" y1="93.9" x2="299.2" y2="271.8" stroke="#262626" stroke-width="1.7" stroke-linecap="butt"/><line x1="298.4" y1="271" x2="476.8" y2="271" stroke="#262626" stroke-width="1.7" stroke-linecap="butt"/><line x1="532.3" y1="94.5" x2="709.3" y2="94.5" stroke="#8a8a8a" stroke-width="1.2" stroke-linecap="butt"/><line x1="709.3" y1="94.5" x2="709.3" y2="271" stroke="#8a8a8a" stroke-width="1.2" stroke-linecap="butt"/><line x1="530.3" y1="133.5" x2="532.3" y2="133.5" stroke="#333" stroke-width="1" stroke-linecap="butt"/><line x1="530.3" y1="127.3" x2="532.3" y2="127.3" stroke="#333" stroke-width="1" stroke-linecap="butt"/><line x1="530.3" y1="122.8" x2="532.3" y2="122.8" stroke="#333" stroke-width="1" stroke-linecap="butt"/><line x1="530.3" y1="119.4" x2="532.3" y2="119.4" stroke="#333" stroke-width="1" stroke-linecap="butt"/><line x1="530.3" y1="116.6" x2="532.3" y2="116.6" stroke="#333" stroke-width="1" stroke-linecap="butt"/><line x1="530.3" y1="114.2" x2="532.3" y2="114.2" stroke="#333" stroke-width="1" stroke-linecap="butt"/><line x1="530.3" y1="112.1" x2="532.3" y2="112.1" stroke="#333" stroke-width="1" stroke-linecap="butt"/><line x1="530.3" y1="110.3" x2="532.3" y2="110.3" stroke="#333" stroke-width="1" stroke-linecap="butt"/><line x1="530.3" y1="169.4" x2="532.3" y2="169.4" stroke="#333" stroke-width="1" stroke-linecap="butt"/><line x1="530.3" y1="163.1" x2="532.3" y2="163.1" stroke="#333" stroke-width="1" stroke-linecap="butt"/><line x1="530.3" y1="158.6" x2="532.3" y2="158.6" stroke="#333" stroke-width="1" stroke-linecap="butt"/><line x1="530.3" y1="155.1" x2="532.3" y2="155.1" stroke="#333" stroke-width="1" stroke-linecap="butt"/><line x1="530.3" y1="152.2" x2="532.3" y2="152.2" stroke="#333" stroke-width="1" stroke-linecap="butt"/><line x1="530.3" y1="149.8" x2="532.3" y2="149.8" stroke="#333" stroke-width="1" stroke-linecap="butt"/><line x1="530.3" y1="147.7" x2="532.3" y2="147.7" stroke="#333" stroke-width="1" stroke-linecap="butt"/><line x1="530.3" y1="145.9" x2="532.3" y2="145.9" stroke="#333" stroke-width="1" stroke-linecap="butt"/><line x1="530.3" y1="206.8" x2="532.3" y2="206.8" stroke="#333" stroke-width="1" stroke-linecap="butt"/><line x1="530.3" y1="200.1" x2="532.3" y2="200.1" stroke="#333" stroke-width="1" stroke-linecap="butt"/><line x1="530.3" y1="195.4" x2="532.3" y2="195.4" stroke="#333" stroke-width="1" stroke-linecap="butt"/><line x1="530.3" y1="191.7" x2="532.3" y2="191.7" stroke="#333" stroke-width="1" stroke-linecap="butt"/><line x1="530.3" y1="188.7" x2="532.3" y2="188.7" stroke="#333" stroke-width="1" stroke-linecap="butt"/><line x1="530.3" y1="186.2" x2="532.3" y2="186.2" stroke="#333" stroke-width="1" stroke-linecap="butt"/><line x1="530.3" y1="184" x2="532.3" y2="184" stroke="#333" stroke-width="1" stroke-linecap="butt"/><line x1="530.3" y1="182" x2="532.3" y2="182" stroke="#333" stroke-width="1" stroke-linecap="butt"/><line x1="530.3" y1="233.1" x2="532.3" y2="233.1" stroke="#333" stroke-width="1" stroke-linecap="butt"/><line x1="530.3" y1="237.1" x2="532.3" y2="237.1" stroke="#333" stroke-width="1" stroke-linecap="butt"/><line x1="530.3" y1="245.1" x2="532.3" y2="245.1" stroke="#333" stroke-width="1" stroke-linecap="butt"/><line x1="530.3" y1="249.1" x2="532.3" y2="249.1" stroke="#333" stroke-width="1" stroke-linecap="butt"/><line x1="530.3" y1="257.1" x2="532.3" y2="257.1" stroke="#333" stroke-width="1" stroke-linecap="butt"/><line x1="530.3" y1="265.1" x2="532.3" y2="265.1" stroke="#333" stroke-width="1" stroke-linecap="butt"/><line x1="528.3" y1="108.7" x2="532.3" y2="108.7" stroke="#222" stroke-width="1.2" stroke-linecap="butt"/><text x="522.5" y="117" font-size="18.5" text-anchor="end">10<tspan dy="-4.8" font-size="13.5">5</tspan></text><line x1="528.3" y1="144.2" x2="532.3" y2="144.2" stroke="#222" stroke-width="1.2" stroke-linecap="butt"/><text x="522.5" y="152.5" font-size="18.5" text-anchor="end">10<tspan dy="-4.8" font-size="13.5">4</tspan></text><line x1="528.3" y1="180.3" x2="532.3" y2="180.3" stroke="#222" stroke-width="1.2" stroke-linecap="butt"/><text x="522.5" y="188.6" font-size="18.5" text-anchor="end">10<tspan dy="-4.8" font-size="13.5">3</tspan></text><line x1="528.3" y1="218.2" x2="532.3" y2="218.2" stroke="#222" stroke-width="1.2" stroke-linecap="butt"/><text x="522.5" y="226.5" font-size="18.5" text-anchor="end">10<tspan dy="-4.8" font-size="13.5">2</tspan></text><line x1="528.3" y1="241.1" x2="532.3" y2="241.1" stroke="#222" stroke-width="1.2" stroke-linecap="butt"/><text x="521.8" y="247.9" font-size="18.5" text-anchor="end">0</text><line x1="597.4" y1="271" x2="597.4" y2="273" stroke="#333" stroke-width="1" stroke-linecap="butt"/><line x1="603.9" y1="271" x2="603.9" y2="273" stroke="#333" stroke-width="1" stroke-linecap="butt"/><line x1="608.5" y1="271" x2="608.5" y2="273" stroke="#333" stroke-width="1" stroke-linecap="butt"/><line x1="612" y1="271" x2="612" y2="273" stroke="#333" stroke-width="1" stroke-linecap="butt"/><line x1="614.9" y1="271" x2="614.9" y2="273" stroke="#333" stroke-width="1" stroke-linecap="butt"/><line x1="617.4" y1="271" x2="617.4" y2="273" stroke="#333" stroke-width="1" stroke-linecap="butt"/><line x1="619.5" y1="271" x2="619.5" y2="273" stroke="#333" stroke-width="1" stroke-linecap="butt"/><line x1="621.4" y1="271" x2="621.4" y2="273" stroke="#333" stroke-width="1" stroke-linecap="butt"/><line x1="633.8" y1="271" x2="633.8" y2="273" stroke="#333" stroke-width="1" stroke-linecap="butt"/><line x1="640" y1="271" x2="640" y2="273" stroke="#333" stroke-width="1" stroke-linecap="butt"/><line x1="644.5" y1="271" x2="644.5" y2="273" stroke="#333" stroke-width="1" stroke-linecap="butt"/><line x1="647.9" y1="271" x2="647.9" y2="273" stroke="#333" stroke-width="1" stroke-linecap="butt"/><line x1="650.7" y1="271" x2="650.7" y2="273" stroke="#333" stroke-width="1" stroke-linecap="butt"/><line x1="653.1" y1="271" x2="653.1" y2="273" stroke="#333" stroke-width="1" stroke-linecap="butt"/><line x1="655.2" y1="271" x2="655.2" y2="273" stroke="#333" stroke-width="1" stroke-linecap="butt"/><line x1="657" y1="271" x2="657" y2="273" stroke="#333" stroke-width="1" stroke-linecap="butt"/><line x1="669.3" y1="271" x2="669.3" y2="273" stroke="#333" stroke-width="1" stroke-linecap="butt"/><line x1="675.5" y1="271" x2="675.5" y2="273" stroke="#333" stroke-width="1" stroke-linecap="butt"/><line x1="679.9" y1="271" x2="679.9" y2="273" stroke="#333" stroke-width="1" stroke-linecap="butt"/><line x1="683.3" y1="271" x2="683.3" y2="273" stroke="#333" stroke-width="1" stroke-linecap="butt"/><line x1="686.1" y1="271" x2="686.1" y2="273" stroke="#333" stroke-width="1" stroke-linecap="butt"/><line x1="688.5" y1="271" x2="688.5" y2="273" stroke="#333" stroke-width="1" stroke-linecap="butt"/><line x1="690.6" y1="271" x2="690.6" y2="273" stroke="#333" stroke-width="1" stroke-linecap="butt"/><line x1="692.4" y1="271" x2="692.4" y2="273" stroke="#333" stroke-width="1" stroke-linecap="butt"/><line x1="541.1" y1="271" x2="541.1" y2="273" stroke="#333" stroke-width="1" stroke-linecap="butt"/><line x1="545.1" y1="271" x2="545.1" y2="273" stroke="#333" stroke-width="1" stroke-linecap="butt"/><line x1="549.1" y1="271" x2="549.1" y2="273" stroke="#333" stroke-width="1" stroke-linecap="butt"/><line x1="553.1" y1="271" x2="553.1" y2="273" stroke="#333" stroke-width="1" stroke-linecap="butt"/><line x1="555.6" y1="271" x2="555.6" y2="273" stroke="#333" stroke-width="1" stroke-linecap="butt"/><line x1="558.6" y1="271" x2="558.6" y2="273" stroke="#333" stroke-width="1" stroke-linecap="butt"/><line x1="561.1" y1="271" x2="561.1" y2="273" stroke="#333" stroke-width="1" stroke-linecap="butt"/><line x1="565.1" y1="271" x2="565.1" y2="273" stroke="#333" stroke-width="1" stroke-linecap="butt"/><line x1="569.1" y1="271" x2="569.1" y2="273" stroke="#333" stroke-width="1" stroke-linecap="butt"/><line x1="573.1" y1="271" x2="573.1" y2="273" stroke="#333" stroke-width="1" stroke-linecap="butt"/><line x1="557.1" y1="271" x2="557.1" y2="275" stroke="#222" stroke-width="1.2" stroke-linecap="butt"/><text x="557.1" y="296" font-size="18.5" text-anchor="middle">0</text><line x1="586.3" y1="271" x2="586.3" y2="275" stroke="#222" stroke-width="1.2" stroke-linecap="butt"/><text x="588.8" y="296" font-size="18.5" text-anchor="middle">10<tspan dy="-4.8" font-size="13.5">2</tspan></text><line x1="623.1" y1="271" x2="623.1" y2="275" stroke="#222" stroke-width="1.2" stroke-linecap="butt"/><text x="625.6" y="296" font-size="18.5" text-anchor="middle">10<tspan dy="-4.8" font-size="13.5">3</tspan></text><line x1="658.6" y1="271" x2="658.6" y2="275" stroke="#222" stroke-width="1.2" stroke-linecap="butt"/><text x="661.1" y="296" font-size="18.5" text-anchor="middle">10<tspan dy="-4.8" font-size="13.5">4</tspan></text><line x1="694" y1="271" x2="694" y2="275" stroke="#222" stroke-width="1.2" stroke-linecap="butt"/><text x="696.5" y="296" font-size="18.5" text-anchor="middle">10<tspan dy="-4.8" font-size="13.5">5</tspan></text><line x1="532.3" y1="93.9" x2="532.3" y2="271.8" stroke="#262626" stroke-width="1.7" stroke-linecap="butt"/><line x1="531.5" y1="271" x2="709.9" y2="271" stroke="#262626" stroke-width="1.7" stroke-linecap="butt"/><line x1="764.7" y1="94.5" x2="941.7" y2="94.5" stroke="#8a8a8a" stroke-width="1.2" stroke-linecap="butt"/><line x1="941.7" y1="94.5" x2="941.7" y2="271" stroke="#8a8a8a" stroke-width="1.2" stroke-linecap="butt"/><line x1="762.7" y1="133.5" x2="764.7" y2="133.5" stroke="#333" stroke-width="1" stroke-linecap="butt"/><line x1="762.7" y1="127.3" x2="764.7" y2="127.3" stroke="#333" stroke-width="1" stroke-linecap="butt"/><line x1="762.7" y1="122.8" x2="764.7" y2="122.8" stroke="#333" stroke-width="1" stroke-linecap="butt"/><line x1="762.7" y1="119.4" x2="764.7" y2="119.4" stroke="#333" stroke-width="1" stroke-linecap="butt"/><line x1="762.7" y1="116.6" x2="764.7" y2="116.6" stroke="#333" stroke-width="1" stroke-linecap="butt"/><line x1="762.7" y1="114.2" x2="764.7" y2="114.2" stroke="#333" stroke-width="1" stroke-linecap="butt"/><line x1="762.7" y1="112.1" x2="764.7" y2="112.1" stroke="#333" stroke-width="1" stroke-linecap="butt"/><line x1="762.7" y1="110.3" x2="764.7" y2="110.3" stroke="#333" stroke-width="1" stroke-linecap="butt"/><line x1="762.7" y1="169.4" x2="764.7" y2="169.4" stroke="#333" stroke-width="1" stroke-linecap="butt"/><line x1="762.7" y1="163.1" x2="764.7" y2="163.1" stroke="#333" stroke-width="1" stroke-linecap="butt"/><line x1="762.7" y1="158.6" x2="764.7" y2="158.6" stroke="#333" stroke-width="1" stroke-linecap="butt"/><line x1="762.7" y1="155.1" x2="764.7" y2="155.1" stroke="#333" stroke-width="1" stroke-linecap="butt"/><line x1="762.7" y1="152.2" x2="764.7" y2="152.2" stroke="#333" stroke-width="1" stroke-linecap="butt"/><line x1="762.7" y1="149.8" x2="764.7" y2="149.8" stroke="#333" stroke-width="1" stroke-linecap="butt"/><line x1="762.7" y1="147.7" x2="764.7" y2="147.7" stroke="#333" stroke-width="1" stroke-linecap="butt"/><line x1="762.7" y1="145.9" x2="764.7" y2="145.9" stroke="#333" stroke-width="1" stroke-linecap="butt"/><line x1="762.7" y1="206.8" x2="764.7" y2="206.8" stroke="#333" stroke-width="1" stroke-linecap="butt"/><line x1="762.7" y1="200.1" x2="764.7" y2="200.1" stroke="#333" stroke-width="1" stroke-linecap="butt"/><line x1="762.7" y1="195.4" x2="764.7" y2="195.4" stroke="#333" stroke-width="1" stroke-linecap="butt"/><line x1="762.7" y1="191.7" x2="764.7" y2="191.7" stroke="#333" stroke-width="1" stroke-linecap="butt"/><line x1="762.7" y1="188.7" x2="764.7" y2="188.7" stroke="#333" stroke-width="1" stroke-linecap="butt"/><line x1="762.7" y1="186.2" x2="764.7" y2="186.2" stroke="#333" stroke-width="1" stroke-linecap="butt"/><line x1="762.7" y1="184" x2="764.7" y2="184" stroke="#333" stroke-width="1" stroke-linecap="butt"/><line x1="762.7" y1="182" x2="764.7" y2="182" stroke="#333" stroke-width="1" stroke-linecap="butt"/><line x1="762.7" y1="233.1" x2="764.7" y2="233.1" stroke="#333" stroke-width="1" stroke-linecap="butt"/><line x1="762.7" y1="237.1" x2="764.7" y2="237.1" stroke="#333" stroke-width="1" stroke-linecap="butt"/><line x1="762.7" y1="245.1" x2="764.7" y2="245.1" stroke="#333" stroke-width="1" stroke-linecap="butt"/><line x1="762.7" y1="249.1" x2="764.7" y2="249.1" stroke="#333" stroke-width="1" stroke-linecap="butt"/><line x1="762.7" y1="257.1" x2="764.7" y2="257.1" stroke="#333" stroke-width="1" stroke-linecap="butt"/><line x1="762.7" y1="265.1" x2="764.7" y2="265.1" stroke="#333" stroke-width="1" stroke-linecap="butt"/><line x1="760.7" y1="108.7" x2="764.7" y2="108.7" stroke="#222" stroke-width="1.2" stroke-linecap="butt"/><text x="754.9" y="117" font-size="18.5" text-anchor="end">10<tspan dy="-4.8" font-size="13.5">5</tspan></text><line x1="760.7" y1="144.2" x2="764.7" y2="144.2" stroke="#222" stroke-width="1.2" stroke-linecap="butt"/><text x="754.9" y="152.5" font-size="18.5" text-anchor="end">10<tspan dy="-4.8" font-size="13.5">4</tspan></text><line x1="760.7" y1="180.3" x2="764.7" y2="180.3" stroke="#222" stroke-width="1.2" stroke-linecap="butt"/><text x="754.9" y="188.6" font-size="18.5" text-anchor="end">10<tspan dy="-4.8" font-size="13.5">3</tspan></text><line x1="760.7" y1="218.2" x2="764.7" y2="218.2" stroke="#222" stroke-width="1.2" stroke-linecap="butt"/><text x="754.9" y="226.5" font-size="18.5" text-anchor="end">10<tspan dy="-4.8" font-size="13.5">2</tspan></text><line x1="760.7" y1="241.1" x2="764.7" y2="241.1" stroke="#222" stroke-width="1.2" stroke-linecap="butt"/><text x="754.2" y="247.9" font-size="18.5" text-anchor="end">0</text><line x1="829.8" y1="271" x2="829.8" y2="273" stroke="#333" stroke-width="1" stroke-linecap="butt"/><line x1="836.3" y1="271" x2="836.3" y2="273" stroke="#333" stroke-width="1" stroke-linecap="butt"/><line x1="840.9" y1="271" x2="840.9" y2="273" stroke="#333" stroke-width="1" stroke-linecap="butt"/><line x1="844.4" y1="271" x2="844.4" y2="273" stroke="#333" stroke-width="1" stroke-linecap="butt"/><line x1="847.3" y1="271" x2="847.3" y2="273" stroke="#333" stroke-width="1" stroke-linecap="butt"/><line x1="849.8" y1="271" x2="849.8" y2="273" stroke="#333" stroke-width="1" stroke-linecap="butt"/><line x1="851.9" y1="271" x2="851.9" y2="273" stroke="#333" stroke-width="1" stroke-linecap="butt"/><line x1="853.8" y1="271" x2="853.8" y2="273" stroke="#333" stroke-width="1" stroke-linecap="butt"/><line x1="866.2" y1="271" x2="866.2" y2="273" stroke="#333" stroke-width="1" stroke-linecap="butt"/><line x1="872.4" y1="271" x2="872.4" y2="273" stroke="#333" stroke-width="1" stroke-linecap="butt"/><line x1="876.9" y1="271" x2="876.9" y2="273" stroke="#333" stroke-width="1" stroke-linecap="butt"/><line x1="880.3" y1="271" x2="880.3" y2="273" stroke="#333" stroke-width="1" stroke-linecap="butt"/><line x1="883.1" y1="271" x2="883.1" y2="273" stroke="#333" stroke-width="1" stroke-linecap="butt"/><line x1="885.5" y1="271" x2="885.5" y2="273" stroke="#333" stroke-width="1" stroke-linecap="butt"/><line x1="887.6" y1="271" x2="887.6" y2="273" stroke="#333" stroke-width="1" stroke-linecap="butt"/><line x1="889.4" y1="271" x2="889.4" y2="273" stroke="#333" stroke-width="1" stroke-linecap="butt"/><line x1="901.7" y1="271" x2="901.7" y2="273" stroke="#333" stroke-width="1" stroke-linecap="butt"/><line x1="907.9" y1="271" x2="907.9" y2="273" stroke="#333" stroke-width="1" stroke-linecap="butt"/><line x1="912.3" y1="271" x2="912.3" y2="273" stroke="#333" stroke-width="1" stroke-linecap="butt"/><line x1="915.7" y1="271" x2="915.7" y2="273" stroke="#333" stroke-width="1" stroke-linecap="butt"/><line x1="918.5" y1="271" x2="918.5" y2="273" stroke="#333" stroke-width="1" stroke-linecap="butt"/><line x1="920.9" y1="271" x2="920.9" y2="273" stroke="#333" stroke-width="1" stroke-linecap="butt"/><line x1="923" y1="271" x2="923" y2="273" stroke="#333" stroke-width="1" stroke-linecap="butt"/><line x1="924.8" y1="271" x2="924.8" y2="273" stroke="#333" stroke-width="1" stroke-linecap="butt"/><line x1="773.5" y1="271" x2="773.5" y2="273" stroke="#333" stroke-width="1" stroke-linecap="butt"/><line x1="777.5" y1="271" x2="777.5" y2="273" stroke="#333" stroke-width="1" stroke-linecap="butt"/><line x1="781.5" y1="271" x2="781.5" y2="273" stroke="#333" stroke-width="1" stroke-linecap="butt"/><line x1="785.5" y1="271" x2="785.5" y2="273" stroke="#333" stroke-width="1" stroke-linecap="butt"/><line x1="788" y1="271" x2="788" y2="273" stroke="#333" stroke-width="1" stroke-linecap="butt"/><line x1="791" y1="271" x2="791" y2="273" stroke="#333" stroke-width="1" stroke-linecap="butt"/><line x1="793.5" y1="271" x2="793.5" y2="273" stroke="#333" stroke-width="1" stroke-linecap="butt"/><line x1="797.5" y1="271" x2="797.5" y2="273" stroke="#333" stroke-width="1" stroke-linecap="butt"/><line x1="801.5" y1="271" x2="801.5" y2="273" stroke="#333" stroke-width="1" stroke-linecap="butt"/><line x1="805.5" y1="271" x2="805.5" y2="273" stroke="#333" stroke-width="1" stroke-linecap="butt"/><line x1="789.5" y1="271" x2="789.5" y2="275" stroke="#222" stroke-width="1.2" stroke-linecap="butt"/><text x="789.5" y="296" font-size="18.5" text-anchor="middle">0</text><line x1="818.7" y1="271" x2="818.7" y2="275" stroke="#222" stroke-width="1.2" stroke-linecap="butt"/><text x="821.2" y="296" font-size="18.5" text-anchor="middle">10<tspan dy="-4.8" font-size="13.5">2</tspan></text><line x1="855.5" y1="271" x2="855.5" y2="275" stroke="#222" stroke-width="1.2" stroke-linecap="butt"/><text x="858" y="296" font-size="18.5" text-anchor="middle">10<tspan dy="-4.8" font-size="13.5">3</tspan></text><line x1="891" y1="271" x2="891" y2="275" stroke="#222" stroke-width="1.2" stroke-linecap="butt"/><text x="893.5" y="296" font-size="18.5" text-anchor="middle">10<tspan dy="-4.8" font-size="13.5">4</tspan></text><line x1="926.4" y1="271" x2="926.4" y2="275" stroke="#222" stroke-width="1.2" stroke-linecap="butt"/><text x="928.9" y="296" font-size="18.5" text-anchor="middle">10<tspan dy="-4.8" font-size="13.5">5</tspan></text><line x1="764.7" y1="93.9" x2="764.7" y2="271.8" stroke="#262626" stroke-width="1.7" stroke-linecap="butt"/><line x1="763.9" y1="271" x2="942.3" y2="271" stroke="#262626" stroke-width="1.7" stroke-linecap="butt"/><line x1="64" y1="369.2" x2="241" y2="369.2" stroke="#8a8a8a" stroke-width="1.2" stroke-linecap="butt"/><line x1="241" y1="369.2" x2="241" y2="545.2" stroke="#8a8a8a" stroke-width="1.2" stroke-linecap="butt"/><line x1="62" y1="407.7" x2="64" y2="407.7" stroke="#333" stroke-width="1" stroke-linecap="butt"/><line x1="62" y1="401.4" x2="64" y2="401.4" stroke="#333" stroke-width="1" stroke-linecap="butt"/><line x1="62" y1="397" x2="64" y2="397" stroke="#333" stroke-width="1" stroke-linecap="butt"/><line x1="62" y1="393.5" x2="64" y2="393.5" stroke="#333" stroke-width="1" stroke-linecap="butt"/><line x1="62" y1="390.7" x2="64" y2="390.7" stroke="#333" stroke-width="1" stroke-linecap="butt"/><line x1="62" y1="388.3" x2="64" y2="388.3" stroke="#333" stroke-width="1" stroke-linecap="butt"/><line x1="62" y1="386.2" x2="64" y2="386.2" stroke="#333" stroke-width="1" stroke-linecap="butt"/><line x1="62" y1="384.4" x2="64" y2="384.4" stroke="#333" stroke-width="1" stroke-linecap="butt"/><line x1="62" y1="443.8" x2="64" y2="443.8" stroke="#333" stroke-width="1" stroke-linecap="butt"/><line x1="62" y1="437.4" x2="64" y2="437.4" stroke="#333" stroke-width="1" stroke-linecap="butt"/><line x1="62" y1="432.9" x2="64" y2="432.9" stroke="#333" stroke-width="1" stroke-linecap="butt"/><line x1="62" y1="429.4" x2="64" y2="429.4" stroke="#333" stroke-width="1" stroke-linecap="butt"/><line x1="62" y1="426.5" x2="64" y2="426.5" stroke="#333" stroke-width="1" stroke-linecap="butt"/><line x1="62" y1="424" x2="64" y2="424" stroke="#333" stroke-width="1" stroke-linecap="butt"/><line x1="62" y1="421.9" x2="64" y2="421.9" stroke="#333" stroke-width="1" stroke-linecap="butt"/><line x1="62" y1="420.1" x2="64" y2="420.1" stroke="#333" stroke-width="1" stroke-linecap="butt"/><line x1="62" y1="481.4" x2="64" y2="481.4" stroke="#333" stroke-width="1" stroke-linecap="butt"/><line x1="62" y1="474.7" x2="64" y2="474.7" stroke="#333" stroke-width="1" stroke-linecap="butt"/><line x1="62" y1="469.9" x2="64" y2="469.9" stroke="#333" stroke-width="1" stroke-linecap="butt"/><line x1="62" y1="466.2" x2="64" y2="466.2" stroke="#333" stroke-width="1" stroke-linecap="butt"/><line x1="62" y1="463.2" x2="64" y2="463.2" stroke="#333" stroke-width="1" stroke-linecap="butt"/><line x1="62" y1="460.7" x2="64" y2="460.7" stroke="#333" stroke-width="1" stroke-linecap="butt"/><line x1="62" y1="458.5" x2="64" y2="458.5" stroke="#333" stroke-width="1" stroke-linecap="butt"/><line x1="62" y1="456.5" x2="64" y2="456.5" stroke="#333" stroke-width="1" stroke-linecap="butt"/><line x1="62" y1="506.4" x2="64" y2="506.4" stroke="#333" stroke-width="1" stroke-linecap="butt"/><line x1="62" y1="510.4" x2="64" y2="510.4" stroke="#333" stroke-width="1" stroke-linecap="butt"/><line x1="62" y1="518.4" x2="64" y2="518.4" stroke="#333" stroke-width="1" stroke-linecap="butt"/><line x1="62" y1="522.4" x2="64" y2="522.4" stroke="#333" stroke-width="1" stroke-linecap="butt"/><line x1="62" y1="530.4" x2="64" y2="530.4" stroke="#333" stroke-width="1" stroke-linecap="butt"/><line x1="62" y1="538.4" x2="64" y2="538.4" stroke="#333" stroke-width="1" stroke-linecap="butt"/><line x1="60" y1="382.8" x2="64" y2="382.8" stroke="#222" stroke-width="1.2" stroke-linecap="butt"/><text x="54.2" y="391.1" font-size="18.5" text-anchor="end">10<tspan dy="-4.8" font-size="13.5">5</tspan></text><line x1="60" y1="418.4" x2="64" y2="418.4" stroke="#222" stroke-width="1.2" stroke-linecap="butt"/><text x="54.2" y="426.7" font-size="18.5" text-anchor="end">10<tspan dy="-4.8" font-size="13.5">4</tspan></text><line x1="60" y1="454.8" x2="64" y2="454.8" stroke="#222" stroke-width="1.2" stroke-linecap="butt"/><text x="54.2" y="463.1" font-size="18.5" text-anchor="end">10<tspan dy="-4.8" font-size="13.5">3</tspan></text><line x1="60" y1="492.8" x2="64" y2="492.8" stroke="#222" stroke-width="1.2" stroke-linecap="butt"/><text x="54.2" y="501.1" font-size="18.5" text-anchor="end">10<tspan dy="-4.8" font-size="13.5">2</tspan></text><line x1="60" y1="514.4" x2="64" y2="514.4" stroke="#222" stroke-width="1.2" stroke-linecap="butt"/><text x="55.5" y="521.2" font-size="18.5" text-anchor="end">0</text><line x1="129.1" y1="545.2" x2="129.1" y2="547.2" stroke="#333" stroke-width="1" stroke-linecap="butt"/><line x1="135.6" y1="545.2" x2="135.6" y2="547.2" stroke="#333" stroke-width="1" stroke-linecap="butt"/><line x1="140.2" y1="545.2" x2="140.2" y2="547.2" stroke="#333" stroke-width="1" stroke-linecap="butt"/><line x1="143.7" y1="545.2" x2="143.7" y2="547.2" stroke="#333" stroke-width="1" stroke-linecap="butt"/><line x1="146.6" y1="545.2" x2="146.6" y2="547.2" stroke="#333" stroke-width="1" stroke-linecap="butt"/><line x1="149.1" y1="545.2" x2="149.1" y2="547.2" stroke="#333" stroke-width="1" stroke-linecap="butt"/><line x1="151.2" y1="545.2" x2="151.2" y2="547.2" stroke="#333" stroke-width="1" stroke-linecap="butt"/><line x1="153.1" y1="545.2" x2="153.1" y2="547.2" stroke="#333" stroke-width="1" stroke-linecap="butt"/><line x1="165.5" y1="545.2" x2="165.5" y2="547.2" stroke="#333" stroke-width="1" stroke-linecap="butt"/><line x1="171.7" y1="545.2" x2="171.7" y2="547.2" stroke="#333" stroke-width="1" stroke-linecap="butt"/><line x1="176.2" y1="545.2" x2="176.2" y2="547.2" stroke="#333" stroke-width="1" stroke-linecap="butt"/><line x1="179.6" y1="545.2" x2="179.6" y2="547.2" stroke="#333" stroke-width="1" stroke-linecap="butt"/><line x1="182.4" y1="545.2" x2="182.4" y2="547.2" stroke="#333" stroke-width="1" stroke-linecap="butt"/><line x1="184.8" y1="545.2" x2="184.8" y2="547.2" stroke="#333" stroke-width="1" stroke-linecap="butt"/><line x1="186.9" y1="545.2" x2="186.9" y2="547.2" stroke="#333" stroke-width="1" stroke-linecap="butt"/><line x1="188.7" y1="545.2" x2="188.7" y2="547.2" stroke="#333" stroke-width="1" stroke-linecap="butt"/><line x1="201" y1="545.2" x2="201" y2="547.2" stroke="#333" stroke-width="1" stroke-linecap="butt"/><line x1="207.2" y1="545.2" x2="207.2" y2="547.2" stroke="#333" stroke-width="1" stroke-linecap="butt"/><line x1="211.6" y1="545.2" x2="211.6" y2="547.2" stroke="#333" stroke-width="1" stroke-linecap="butt"/><line x1="215" y1="545.2" x2="215" y2="547.2" stroke="#333" stroke-width="1" stroke-linecap="butt"/><line x1="217.8" y1="545.2" x2="217.8" y2="547.2" stroke="#333" stroke-width="1" stroke-linecap="butt"/><line x1="220.2" y1="545.2" x2="220.2" y2="547.2" stroke="#333" stroke-width="1" stroke-linecap="butt"/><line x1="222.3" y1="545.2" x2="222.3" y2="547.2" stroke="#333" stroke-width="1" stroke-linecap="butt"/><line x1="224.1" y1="545.2" x2="224.1" y2="547.2" stroke="#333" stroke-width="1" stroke-linecap="butt"/><line x1="72.8" y1="545.2" x2="72.8" y2="547.2" stroke="#333" stroke-width="1" stroke-linecap="butt"/><line x1="76.8" y1="545.2" x2="76.8" y2="547.2" stroke="#333" stroke-width="1" stroke-linecap="butt"/><line x1="80.8" y1="545.2" x2="80.8" y2="547.2" stroke="#333" stroke-width="1" stroke-linecap="butt"/><line x1="84.8" y1="545.2" x2="84.8" y2="547.2" stroke="#333" stroke-width="1" stroke-linecap="butt"/><line x1="87.3" y1="545.2" x2="87.3" y2="547.2" stroke="#333" stroke-width="1" stroke-linecap="butt"/><line x1="90.3" y1="545.2" x2="90.3" y2="547.2" stroke="#333" stroke-width="1" stroke-linecap="butt"/><line x1="92.8" y1="545.2" x2="92.8" y2="547.2" stroke="#333" stroke-width="1" stroke-linecap="butt"/><line x1="96.8" y1="545.2" x2="96.8" y2="547.2" stroke="#333" stroke-width="1" stroke-linecap="butt"/><line x1="100.8" y1="545.2" x2="100.8" y2="547.2" stroke="#333" stroke-width="1" stroke-linecap="butt"/><line x1="104.8" y1="545.2" x2="104.8" y2="547.2" stroke="#333" stroke-width="1" stroke-linecap="butt"/><line x1="88.8" y1="545.2" x2="88.8" y2="549.2" stroke="#222" stroke-width="1.2" stroke-linecap="butt"/><text x="88.8" y="571" font-size="18.5" text-anchor="middle">0</text><line x1="118" y1="545.2" x2="118" y2="549.2" stroke="#222" stroke-width="1.2" stroke-linecap="butt"/><text x="119.5" y="571" font-size="18.5" text-anchor="middle">10<tspan dy="-4.8" font-size="13.5">2</tspan></text><line x1="154.8" y1="545.2" x2="154.8" y2="549.2" stroke="#222" stroke-width="1.2" stroke-linecap="butt"/><text x="156.3" y="571" font-size="18.5" text-anchor="middle">10<tspan dy="-4.8" font-size="13.5">3</tspan></text><line x1="190.3" y1="545.2" x2="190.3" y2="549.2" stroke="#222" stroke-width="1.2" stroke-linecap="butt"/><text x="191.8" y="571" font-size="18.5" text-anchor="middle">10<tspan dy="-4.8" font-size="13.5">4</tspan></text><line x1="225.7" y1="545.2" x2="225.7" y2="549.2" stroke="#222" stroke-width="1.2" stroke-linecap="butt"/><text x="227.2" y="571" font-size="18.5" text-anchor="middle">10<tspan dy="-4.8" font-size="13.5">5</tspan></text><line x1="64" y1="368.6" x2="64" y2="546" stroke="#262626" stroke-width="1.7" stroke-linecap="butt"/><line x1="63.2" y1="545.2" x2="241.6" y2="545.2" stroke="#262626" stroke-width="1.7" stroke-linecap="butt"/><line x1="297.2" y1="369.2" x2="474.2" y2="369.2" stroke="#8a8a8a" stroke-width="1.2" stroke-linecap="butt"/><line x1="474.2" y1="369.2" x2="474.2" y2="545.2" stroke="#8a8a8a" stroke-width="1.2" stroke-linecap="butt"/><line x1="295.2" y1="407.7" x2="297.2" y2="407.7" stroke="#333" stroke-width="1" stroke-linecap="butt"/><line x1="295.2" y1="401.4" x2="297.2" y2="401.4" stroke="#333" stroke-width="1" stroke-linecap="butt"/><line x1="295.2" y1="397" x2="297.2" y2="397" stroke="#333" stroke-width="1" stroke-linecap="butt"/><line x1="295.2" y1="393.5" x2="297.2" y2="393.5" stroke="#333" stroke-width="1" stroke-linecap="butt"/><line x1="295.2" y1="390.7" x2="297.2" y2="390.7" stroke="#333" stroke-width="1" stroke-linecap="butt"/><line x1="295.2" y1="388.3" x2="297.2" y2="388.3" stroke="#333" stroke-width="1" stroke-linecap="butt"/><line x1="295.2" y1="386.2" x2="297.2" y2="386.2" stroke="#333" stroke-width="1" stroke-linecap="butt"/><line x1="295.2" y1="384.4" x2="297.2" y2="384.4" stroke="#333" stroke-width="1" stroke-linecap="butt"/><line x1="295.2" y1="443.8" x2="297.2" y2="443.8" stroke="#333" stroke-width="1" stroke-linecap="butt"/><line x1="295.2" y1="437.4" x2="297.2" y2="437.4" stroke="#333" stroke-width="1" stroke-linecap="butt"/><line x1="295.2" y1="432.9" x2="297.2" y2="432.9" stroke="#333" stroke-width="1" stroke-linecap="butt"/><line x1="295.2" y1="429.4" x2="297.2" y2="429.4" stroke="#333" stroke-width="1" stroke-linecap="butt"/><line x1="295.2" y1="426.5" x2="297.2" y2="426.5" stroke="#333" stroke-width="1" stroke-linecap="butt"/><line x1="295.2" y1="424" x2="297.2" y2="424" stroke="#333" stroke-width="1" stroke-linecap="butt"/><line x1="295.2" y1="421.9" x2="297.2" y2="421.9" stroke="#333" stroke-width="1" stroke-linecap="butt"/><line x1="295.2" y1="420.1" x2="297.2" y2="420.1" stroke="#333" stroke-width="1" stroke-linecap="butt"/><line x1="295.2" y1="481.4" x2="297.2" y2="481.4" stroke="#333" stroke-width="1" stroke-linecap="butt"/><line x1="295.2" y1="474.7" x2="297.2" y2="474.7" stroke="#333" stroke-width="1" stroke-linecap="butt"/><line x1="295.2" y1="469.9" x2="297.2" y2="469.9" stroke="#333" stroke-width="1" stroke-linecap="butt"/><line x1="295.2" y1="466.2" x2="297.2" y2="466.2" stroke="#333" stroke-width="1" stroke-linecap="butt"/><line x1="295.2" y1="463.2" x2="297.2" y2="463.2" stroke="#333" stroke-width="1" stroke-linecap="butt"/><line x1="295.2" y1="460.7" x2="297.2" y2="460.7" stroke="#333" stroke-width="1" stroke-linecap="butt"/><line x1="295.2" y1="458.5" x2="297.2" y2="458.5" stroke="#333" stroke-width="1" stroke-linecap="butt"/><line x1="295.2" y1="456.5" x2="297.2" y2="456.5" stroke="#333" stroke-width="1" stroke-linecap="butt"/><line x1="295.2" y1="506.4" x2="297.2" y2="506.4" stroke="#333" stroke-width="1" stroke-linecap="butt"/><line x1="295.2" y1="510.4" x2="297.2" y2="510.4" stroke="#333" stroke-width="1" stroke-linecap="butt"/><line x1="295.2" y1="518.4" x2="297.2" y2="518.4" stroke="#333" stroke-width="1" stroke-linecap="butt"/><line x1="295.2" y1="522.4" x2="297.2" y2="522.4" stroke="#333" stroke-width="1" stroke-linecap="butt"/><line x1="295.2" y1="530.4" x2="297.2" y2="530.4" stroke="#333" stroke-width="1" stroke-linecap="butt"/><line x1="295.2" y1="538.4" x2="297.2" y2="538.4" stroke="#333" stroke-width="1" stroke-linecap="butt"/><line x1="293.2" y1="382.8" x2="297.2" y2="382.8" stroke="#222" stroke-width="1.2" stroke-linecap="butt"/><text x="287.4" y="391.1" font-size="18.5" text-anchor="end">10<tspan dy="-4.8" font-size="13.5">5</tspan></text><line x1="293.2" y1="418.4" x2="297.2" y2="418.4" stroke="#222" stroke-width="1.2" stroke-linecap="butt"/><text x="287.4" y="426.7" font-size="18.5" text-anchor="end">10<tspan dy="-4.8" font-size="13.5">4</tspan></text><line x1="293.2" y1="454.8" x2="297.2" y2="454.8" stroke="#222" stroke-width="1.2" stroke-linecap="butt"/><text x="287.4" y="463.1" font-size="18.5" text-anchor="end">10<tspan dy="-4.8" font-size="13.5">3</tspan></text><line x1="293.2" y1="492.8" x2="297.2" y2="492.8" stroke="#222" stroke-width="1.2" stroke-linecap="butt"/><text x="287.4" y="501.1" font-size="18.5" text-anchor="end">10<tspan dy="-4.8" font-size="13.5">2</tspan></text><line x1="293.2" y1="514.4" x2="297.2" y2="514.4" stroke="#222" stroke-width="1.2" stroke-linecap="butt"/><text x="288.7" y="521.2" font-size="18.5" text-anchor="end">0</text><line x1="362.3" y1="545.2" x2="362.3" y2="547.2" stroke="#333" stroke-width="1" stroke-linecap="butt"/><line x1="368.8" y1="545.2" x2="368.8" y2="547.2" stroke="#333" stroke-width="1" stroke-linecap="butt"/><line x1="373.4" y1="545.2" x2="373.4" y2="547.2" stroke="#333" stroke-width="1" stroke-linecap="butt"/><line x1="376.9" y1="545.2" x2="376.9" y2="547.2" stroke="#333" stroke-width="1" stroke-linecap="butt"/><line x1="379.8" y1="545.2" x2="379.8" y2="547.2" stroke="#333" stroke-width="1" stroke-linecap="butt"/><line x1="382.3" y1="545.2" x2="382.3" y2="547.2" stroke="#333" stroke-width="1" stroke-linecap="butt"/><line x1="384.4" y1="545.2" x2="384.4" y2="547.2" stroke="#333" stroke-width="1" stroke-linecap="butt"/><line x1="386.3" y1="545.2" x2="386.3" y2="547.2" stroke="#333" stroke-width="1" stroke-linecap="butt"/><line x1="398.7" y1="545.2" x2="398.7" y2="547.2" stroke="#333" stroke-width="1" stroke-linecap="butt"/><line x1="404.9" y1="545.2" x2="404.9" y2="547.2" stroke="#333" stroke-width="1" stroke-linecap="butt"/><line x1="409.4" y1="545.2" x2="409.4" y2="547.2" stroke="#333" stroke-width="1" stroke-linecap="butt"/><line x1="412.8" y1="545.2" x2="412.8" y2="547.2" stroke="#333" stroke-width="1" stroke-linecap="butt"/><line x1="415.6" y1="545.2" x2="415.6" y2="547.2" stroke="#333" stroke-width="1" stroke-linecap="butt"/><line x1="418" y1="545.2" x2="418" y2="547.2" stroke="#333" stroke-width="1" stroke-linecap="butt"/><line x1="420.1" y1="545.2" x2="420.1" y2="547.2" stroke="#333" stroke-width="1" stroke-linecap="butt"/><line x1="421.9" y1="545.2" x2="421.9" y2="547.2" stroke="#333" stroke-width="1" stroke-linecap="butt"/><line x1="434.2" y1="545.2" x2="434.2" y2="547.2" stroke="#333" stroke-width="1" stroke-linecap="butt"/><line x1="440.4" y1="545.2" x2="440.4" y2="547.2" stroke="#333" stroke-width="1" stroke-linecap="butt"/><line x1="444.8" y1="545.2" x2="444.8" y2="547.2" stroke="#333" stroke-width="1" stroke-linecap="butt"/><line x1="448.2" y1="545.2" x2="448.2" y2="547.2" stroke="#333" stroke-width="1" stroke-linecap="butt"/><line x1="451" y1="545.2" x2="451" y2="547.2" stroke="#333" stroke-width="1" stroke-linecap="butt"/><line x1="453.4" y1="545.2" x2="453.4" y2="547.2" stroke="#333" stroke-width="1" stroke-linecap="butt"/><line x1="455.5" y1="545.2" x2="455.5" y2="547.2" stroke="#333" stroke-width="1" stroke-linecap="butt"/><line x1="457.3" y1="545.2" x2="457.3" y2="547.2" stroke="#333" stroke-width="1" stroke-linecap="butt"/><line x1="306" y1="545.2" x2="306" y2="547.2" stroke="#333" stroke-width="1" stroke-linecap="butt"/><line x1="310" y1="545.2" x2="310" y2="547.2" stroke="#333" stroke-width="1" stroke-linecap="butt"/><line x1="314" y1="545.2" x2="314" y2="547.2" stroke="#333" stroke-width="1" stroke-linecap="butt"/><line x1="318" y1="545.2" x2="318" y2="547.2" stroke="#333" stroke-width="1" stroke-linecap="butt"/><line x1="320.5" y1="545.2" x2="320.5" y2="547.2" stroke="#333" stroke-width="1" stroke-linecap="butt"/><line x1="323.5" y1="545.2" x2="323.5" y2="547.2" stroke="#333" stroke-width="1" stroke-linecap="butt"/><line x1="326" y1="545.2" x2="326" y2="547.2" stroke="#333" stroke-width="1" stroke-linecap="butt"/><line x1="330" y1="545.2" x2="330" y2="547.2" stroke="#333" stroke-width="1" stroke-linecap="butt"/><line x1="334" y1="545.2" x2="334" y2="547.2" stroke="#333" stroke-width="1" stroke-linecap="butt"/><line x1="338" y1="545.2" x2="338" y2="547.2" stroke="#333" stroke-width="1" stroke-linecap="butt"/><line x1="322" y1="545.2" x2="322" y2="549.2" stroke="#222" stroke-width="1.2" stroke-linecap="butt"/><text x="322" y="571" font-size="18.5" text-anchor="middle">0</text><line x1="351.2" y1="545.2" x2="351.2" y2="549.2" stroke="#222" stroke-width="1.2" stroke-linecap="butt"/><text x="352.7" y="571" font-size="18.5" text-anchor="middle">10<tspan dy="-4.8" font-size="13.5">2</tspan></text><line x1="388" y1="545.2" x2="388" y2="549.2" stroke="#222" stroke-width="1.2" stroke-linecap="butt"/><text x="389.5" y="571" font-size="18.5" text-anchor="middle">10<tspan dy="-4.8" font-size="13.5">3</tspan></text><line x1="423.5" y1="545.2" x2="423.5" y2="549.2" stroke="#222" stroke-width="1.2" stroke-linecap="butt"/><text x="425" y="571" font-size="18.5" text-anchor="middle">10<tspan dy="-4.8" font-size="13.5">4</tspan></text><line x1="458.9" y1="545.2" x2="458.9" y2="549.2" stroke="#222" stroke-width="1.2" stroke-linecap="butt"/><text x="460.4" y="571" font-size="18.5" text-anchor="middle">10<tspan dy="-4.8" font-size="13.5">5</tspan></text><line x1="297.2" y1="368.6" x2="297.2" y2="546" stroke="#262626" stroke-width="1.7" stroke-linecap="butt"/><line x1="296.4" y1="545.2" x2="474.8" y2="545.2" stroke="#262626" stroke-width="1.7" stroke-linecap="butt"/><line x1="530.7" y1="369.2" x2="707.7" y2="369.2" stroke="#8a8a8a" stroke-width="1.2" stroke-linecap="butt"/><line x1="707.7" y1="369.2" x2="707.7" y2="545.2" stroke="#8a8a8a" stroke-width="1.2" stroke-linecap="butt"/><line x1="528.7" y1="407.7" x2="530.7" y2="407.7" stroke="#333" stroke-width="1" stroke-linecap="butt"/><line x1="528.7" y1="401.4" x2="530.7" y2="401.4" stroke="#333" stroke-width="1" stroke-linecap="butt"/><line x1="528.7" y1="397" x2="530.7" y2="397" stroke="#333" stroke-width="1" stroke-linecap="butt"/><line x1="528.7" y1="393.5" x2="530.7" y2="393.5" stroke="#333" stroke-width="1" stroke-linecap="butt"/><line x1="528.7" y1="390.7" x2="530.7" y2="390.7" stroke="#333" stroke-width="1" stroke-linecap="butt"/><line x1="528.7" y1="388.3" x2="530.7" y2="388.3" stroke="#333" stroke-width="1" stroke-linecap="butt"/><line x1="528.7" y1="386.2" x2="530.7" y2="386.2" stroke="#333" stroke-width="1" stroke-linecap="butt"/><line x1="528.7" y1="384.4" x2="530.7" y2="384.4" stroke="#333" stroke-width="1" stroke-linecap="butt"/><line x1="528.7" y1="443.8" x2="530.7" y2="443.8" stroke="#333" stroke-width="1" stroke-linecap="butt"/><line x1="528.7" y1="437.4" x2="530.7" y2="437.4" stroke="#333" stroke-width="1" stroke-linecap="butt"/><line x1="528.7" y1="432.9" x2="530.7" y2="432.9" stroke="#333" stroke-width="1" stroke-linecap="butt"/><line x1="528.7" y1="429.4" x2="530.7" y2="429.4" stroke="#333" stroke-width="1" stroke-linecap="butt"/><line x1="528.7" y1="426.5" x2="530.7" y2="426.5" stroke="#333" stroke-width="1" stroke-linecap="butt"/><line x1="528.7" y1="424" x2="530.7" y2="424" stroke="#333" stroke-width="1" stroke-linecap="butt"/><line x1="528.7" y1="421.9" x2="530.7" y2="421.9" stroke="#333" stroke-width="1" stroke-linecap="butt"/><line x1="528.7" y1="420.1" x2="530.7" y2="420.1" stroke="#333" stroke-width="1" stroke-linecap="butt"/><line x1="528.7" y1="481.4" x2="530.7" y2="481.4" stroke="#333" stroke-width="1" stroke-linecap="butt"/><line x1="528.7" y1="474.7" x2="530.7" y2="474.7" stroke="#333" stroke-width="1" stroke-linecap="butt"/><line x1="528.7" y1="469.9" x2="530.7" y2="469.9" stroke="#333" stroke-width="1" stroke-linecap="butt"/><line x1="528.7" y1="466.2" x2="530.7" y2="466.2" stroke="#333" stroke-width="1" stroke-linecap="butt"/><line x1="528.7" y1="463.2" x2="530.7" y2="463.2" stroke="#333" stroke-width="1" stroke-linecap="butt"/><line x1="528.7" y1="460.7" x2="530.7" y2="460.7" stroke="#333" stroke-width="1" stroke-linecap="butt"/><line x1="528.7" y1="458.5" x2="530.7" y2="458.5" stroke="#333" stroke-width="1" stroke-linecap="butt"/><line x1="528.7" y1="456.5" x2="530.7" y2="456.5" stroke="#333" stroke-width="1" stroke-linecap="butt"/><line x1="528.7" y1="506.4" x2="530.7" y2="506.4" stroke="#333" stroke-width="1" stroke-linecap="butt"/><line x1="528.7" y1="510.4" x2="530.7" y2="510.4" stroke="#333" stroke-width="1" stroke-linecap="butt"/><line x1="528.7" y1="518.4" x2="530.7" y2="518.4" stroke="#333" stroke-width="1" stroke-linecap="butt"/><line x1="528.7" y1="522.4" x2="530.7" y2="522.4" stroke="#333" stroke-width="1" stroke-linecap="butt"/><line x1="528.7" y1="530.4" x2="530.7" y2="530.4" stroke="#333" stroke-width="1" stroke-linecap="butt"/><line x1="528.7" y1="538.4" x2="530.7" y2="538.4" stroke="#333" stroke-width="1" stroke-linecap="butt"/><line x1="526.7" y1="382.8" x2="530.7" y2="382.8" stroke="#222" stroke-width="1.2" stroke-linecap="butt"/><text x="520.9" y="391.1" font-size="18.5" text-anchor="end">10<tspan dy="-4.8" font-size="13.5">5</tspan></text><line x1="526.7" y1="418.4" x2="530.7" y2="418.4" stroke="#222" stroke-width="1.2" stroke-linecap="butt"/><text x="520.9" y="426.7" font-size="18.5" text-anchor="end">10<tspan dy="-4.8" font-size="13.5">4</tspan></text><line x1="526.7" y1="454.8" x2="530.7" y2="454.8" stroke="#222" stroke-width="1.2" stroke-linecap="butt"/><text x="520.9" y="463.1" font-size="18.5" text-anchor="end">10<tspan dy="-4.8" font-size="13.5">3</tspan></text><line x1="526.7" y1="492.8" x2="530.7" y2="492.8" stroke="#222" stroke-width="1.2" stroke-linecap="butt"/><text x="520.9" y="501.1" font-size="18.5" text-anchor="end">10<tspan dy="-4.8" font-size="13.5">2</tspan></text><line x1="526.7" y1="514.4" x2="530.7" y2="514.4" stroke="#222" stroke-width="1.2" stroke-linecap="butt"/><text x="522.2" y="521.2" font-size="18.5" text-anchor="end">0</text><line x1="595.8" y1="545.2" x2="595.8" y2="547.2" stroke="#333" stroke-width="1" stroke-linecap="butt"/><line x1="602.3" y1="545.2" x2="602.3" y2="547.2" stroke="#333" stroke-width="1" stroke-linecap="butt"/><line x1="606.9" y1="545.2" x2="606.9" y2="547.2" stroke="#333" stroke-width="1" stroke-linecap="butt"/><line x1="610.4" y1="545.2" x2="610.4" y2="547.2" stroke="#333" stroke-width="1" stroke-linecap="butt"/><line x1="613.3" y1="545.2" x2="613.3" y2="547.2" stroke="#333" stroke-width="1" stroke-linecap="butt"/><line x1="615.8" y1="545.2" x2="615.8" y2="547.2" stroke="#333" stroke-width="1" stroke-linecap="butt"/><line x1="617.9" y1="545.2" x2="617.9" y2="547.2" stroke="#333" stroke-width="1" stroke-linecap="butt"/><line x1="619.8" y1="545.2" x2="619.8" y2="547.2" stroke="#333" stroke-width="1" stroke-linecap="butt"/><line x1="632.2" y1="545.2" x2="632.2" y2="547.2" stroke="#333" stroke-width="1" stroke-linecap="butt"/><line x1="638.4" y1="545.2" x2="638.4" y2="547.2" stroke="#333" stroke-width="1" stroke-linecap="butt"/><line x1="642.9" y1="545.2" x2="642.9" y2="547.2" stroke="#333" stroke-width="1" stroke-linecap="butt"/><line x1="646.3" y1="545.2" x2="646.3" y2="547.2" stroke="#333" stroke-width="1" stroke-linecap="butt"/><line x1="649.1" y1="545.2" x2="649.1" y2="547.2" stroke="#333" stroke-width="1" stroke-linecap="butt"/><line x1="651.5" y1="545.2" x2="651.5" y2="547.2" stroke="#333" stroke-width="1" stroke-linecap="butt"/><line x1="653.6" y1="545.2" x2="653.6" y2="547.2" stroke="#333" stroke-width="1" stroke-linecap="butt"/><line x1="655.4" y1="545.2" x2="655.4" y2="547.2" stroke="#333" stroke-width="1" stroke-linecap="butt"/><line x1="667.7" y1="545.2" x2="667.7" y2="547.2" stroke="#333" stroke-width="1" stroke-linecap="butt"/><line x1="673.9" y1="545.2" x2="673.9" y2="547.2" stroke="#333" stroke-width="1" stroke-linecap="butt"/><line x1="678.3" y1="545.2" x2="678.3" y2="547.2" stroke="#333" stroke-width="1" stroke-linecap="butt"/><line x1="681.7" y1="545.2" x2="681.7" y2="547.2" stroke="#333" stroke-width="1" stroke-linecap="butt"/><line x1="684.5" y1="545.2" x2="684.5" y2="547.2" stroke="#333" stroke-width="1" stroke-linecap="butt"/><line x1="686.9" y1="545.2" x2="686.9" y2="547.2" stroke="#333" stroke-width="1" stroke-linecap="butt"/><line x1="689" y1="545.2" x2="689" y2="547.2" stroke="#333" stroke-width="1" stroke-linecap="butt"/><line x1="690.8" y1="545.2" x2="690.8" y2="547.2" stroke="#333" stroke-width="1" stroke-linecap="butt"/><line x1="539.5" y1="545.2" x2="539.5" y2="547.2" stroke="#333" stroke-width="1" stroke-linecap="butt"/><line x1="543.5" y1="545.2" x2="543.5" y2="547.2" stroke="#333" stroke-width="1" stroke-linecap="butt"/><line x1="547.5" y1="545.2" x2="547.5" y2="547.2" stroke="#333" stroke-width="1" stroke-linecap="butt"/><line x1="551.5" y1="545.2" x2="551.5" y2="547.2" stroke="#333" stroke-width="1" stroke-linecap="butt"/><line x1="554" y1="545.2" x2="554" y2="547.2" stroke="#333" stroke-width="1" stroke-linecap="butt"/><line x1="557" y1="545.2" x2="557" y2="547.2" stroke="#333" stroke-width="1" stroke-linecap="butt"/><line x1="559.5" y1="545.2" x2="559.5" y2="547.2" stroke="#333" stroke-width="1" stroke-linecap="butt"/><line x1="563.5" y1="545.2" x2="563.5" y2="547.2" stroke="#333" stroke-width="1" stroke-linecap="butt"/><line x1="567.5" y1="545.2" x2="567.5" y2="547.2" stroke="#333" stroke-width="1" stroke-linecap="butt"/><line x1="571.5" y1="545.2" x2="571.5" y2="547.2" stroke="#333" stroke-width="1" stroke-linecap="butt"/><line x1="555.5" y1="545.2" x2="555.5" y2="549.2" stroke="#222" stroke-width="1.2" stroke-linecap="butt"/><text x="555.5" y="571" font-size="18.5" text-anchor="middle">0</text><line x1="584.7" y1="545.2" x2="584.7" y2="549.2" stroke="#222" stroke-width="1.2" stroke-linecap="butt"/><text x="586.2" y="571" font-size="18.5" text-anchor="middle">10<tspan dy="-4.8" font-size="13.5">2</tspan></text><line x1="621.5" y1="545.2" x2="621.5" y2="549.2" stroke="#222" stroke-width="1.2" stroke-linecap="butt"/><text x="623" y="571" font-size="18.5" text-anchor="middle">10<tspan dy="-4.8" font-size="13.5">3</tspan></text><line x1="657" y1="545.2" x2="657" y2="549.2" stroke="#222" stroke-width="1.2" stroke-linecap="butt"/><text x="658.5" y="571" font-size="18.5" text-anchor="middle">10<tspan dy="-4.8" font-size="13.5">4</tspan></text><line x1="692.4" y1="545.2" x2="692.4" y2="549.2" stroke="#222" stroke-width="1.2" stroke-linecap="butt"/><text x="693.9" y="571" font-size="18.5" text-anchor="middle">10<tspan dy="-4.8" font-size="13.5">5</tspan></text><line x1="530.7" y1="368.6" x2="530.7" y2="546" stroke="#262626" stroke-width="1.7" stroke-linecap="butt"/><line x1="529.9" y1="545.2" x2="708.3" y2="545.2" stroke="#262626" stroke-width="1.7" stroke-linecap="butt"/><line x1="763.8" y1="369.2" x2="940.8" y2="369.2" stroke="#8a8a8a" stroke-width="1.2" stroke-linecap="butt"/><line x1="940.8" y1="369.2" x2="940.8" y2="545.2" stroke="#8a8a8a" stroke-width="1.2" stroke-linecap="butt"/><line x1="761.8" y1="407.7" x2="763.8" y2="407.7" stroke="#333" stroke-width="1" stroke-linecap="butt"/><line x1="761.8" y1="401.4" x2="763.8" y2="401.4" stroke="#333" stroke-width="1" stroke-linecap="butt"/><line x1="761.8" y1="397" x2="763.8" y2="397" stroke="#333" stroke-width="1" stroke-linecap="butt"/><line x1="761.8" y1="393.5" x2="763.8" y2="393.5" stroke="#333" stroke-width="1" stroke-linecap="butt"/><line x1="761.8" y1="390.7" x2="763.8" y2="390.7" stroke="#333" stroke-width="1" stroke-linecap="butt"/><line x1="761.8" y1="388.3" x2="763.8" y2="388.3" stroke="#333" stroke-width="1" stroke-linecap="butt"/><line x1="761.8" y1="386.2" x2="763.8" y2="386.2" stroke="#333" stroke-width="1" stroke-linecap="butt"/><line x1="761.8" y1="384.4" x2="763.8" y2="384.4" stroke="#333" stroke-width="1" stroke-linecap="butt"/><line x1="761.8" y1="443.8" x2="763.8" y2="443.8" stroke="#333" stroke-width="1" stroke-linecap="butt"/><line x1="761.8" y1="437.4" x2="763.8" y2="437.4" stroke="#333" stroke-width="1" stroke-linecap="butt"/><line x1="761.8" y1="432.9" x2="763.8" y2="432.9" stroke="#333" stroke-width="1" stroke-linecap="butt"/><line x1="761.8" y1="429.4" x2="763.8" y2="429.4" stroke="#333" stroke-width="1" stroke-linecap="butt"/><line x1="761.8" y1="426.5" x2="763.8" y2="426.5" stroke="#333" stroke-width="1" stroke-linecap="butt"/><line x1="761.8" y1="424" x2="763.8" y2="424" stroke="#333" stroke-width="1" stroke-linecap="butt"/><line x1="761.8" y1="421.9" x2="763.8" y2="421.9" stroke="#333" stroke-width="1" stroke-linecap="butt"/><line x1="761.8" y1="420.1" x2="763.8" y2="420.1" stroke="#333" stroke-width="1" stroke-linecap="butt"/><line x1="761.8" y1="481.4" x2="763.8" y2="481.4" stroke="#333" stroke-width="1" stroke-linecap="butt"/><line x1="761.8" y1="474.7" x2="763.8" y2="474.7" stroke="#333" stroke-width="1" stroke-linecap="butt"/><line x1="761.8" y1="469.9" x2="763.8" y2="469.9" stroke="#333" stroke-width="1" stroke-linecap="butt"/><line x1="761.8" y1="466.2" x2="763.8" y2="466.2" stroke="#333" stroke-width="1" stroke-linecap="butt"/><line x1="761.8" y1="463.2" x2="763.8" y2="463.2" stroke="#333" stroke-width="1" stroke-linecap="butt"/><line x1="761.8" y1="460.7" x2="763.8" y2="460.7" stroke="#333" stroke-width="1" stroke-linecap="butt"/><line x1="761.8" y1="458.5" x2="763.8" y2="458.5" stroke="#333" stroke-width="1" stroke-linecap="butt"/><line x1="761.8" y1="456.5" x2="763.8" y2="456.5" stroke="#333" stroke-width="1" stroke-linecap="butt"/><line x1="761.8" y1="506.4" x2="763.8" y2="506.4" stroke="#333" stroke-width="1" stroke-linecap="butt"/><line x1="761.8" y1="510.4" x2="763.8" y2="510.4" stroke="#333" stroke-width="1" stroke-linecap="butt"/><line x1="761.8" y1="518.4" x2="763.8" y2="518.4" stroke="#333" stroke-width="1" stroke-linecap="butt"/><line x1="761.8" y1="522.4" x2="763.8" y2="522.4" stroke="#333" stroke-width="1" stroke-linecap="butt"/><line x1="761.8" y1="530.4" x2="763.8" y2="530.4" stroke="#333" stroke-width="1" stroke-linecap="butt"/><line x1="761.8" y1="538.4" x2="763.8" y2="538.4" stroke="#333" stroke-width="1" stroke-linecap="butt"/><line x1="759.8" y1="382.8" x2="763.8" y2="382.8" stroke="#222" stroke-width="1.2" stroke-linecap="butt"/><text x="754" y="391.1" font-size="18.5" text-anchor="end">10<tspan dy="-4.8" font-size="13.5">5</tspan></text><line x1="759.8" y1="418.4" x2="763.8" y2="418.4" stroke="#222" stroke-width="1.2" stroke-linecap="butt"/><text x="754" y="426.7" font-size="18.5" text-anchor="end">10<tspan dy="-4.8" font-size="13.5">4</tspan></text><line x1="759.8" y1="454.8" x2="763.8" y2="454.8" stroke="#222" stroke-width="1.2" stroke-linecap="butt"/><text x="754" y="463.1" font-size="18.5" text-anchor="end">10<tspan dy="-4.8" font-size="13.5">3</tspan></text><line x1="759.8" y1="492.8" x2="763.8" y2="492.8" stroke="#222" stroke-width="1.2" stroke-linecap="butt"/><text x="754" y="501.1" font-size="18.5" text-anchor="end">10<tspan dy="-4.8" font-size="13.5">2</tspan></text><line x1="759.8" y1="514.4" x2="763.8" y2="514.4" stroke="#222" stroke-width="1.2" stroke-linecap="butt"/><text x="755.3" y="521.2" font-size="18.5" text-anchor="end">0</text><line x1="828.9" y1="545.2" x2="828.9" y2="547.2" stroke="#333" stroke-width="1" stroke-linecap="butt"/><line x1="835.4" y1="545.2" x2="835.4" y2="547.2" stroke="#333" stroke-width="1" stroke-linecap="butt"/><line x1="840" y1="545.2" x2="840" y2="547.2" stroke="#333" stroke-width="1" stroke-linecap="butt"/><line x1="843.5" y1="545.2" x2="843.5" y2="547.2" stroke="#333" stroke-width="1" stroke-linecap="butt"/><line x1="846.4" y1="545.2" x2="846.4" y2="547.2" stroke="#333" stroke-width="1" stroke-linecap="butt"/><line x1="848.9" y1="545.2" x2="848.9" y2="547.2" stroke="#333" stroke-width="1" stroke-linecap="butt"/><line x1="851" y1="545.2" x2="851" y2="547.2" stroke="#333" stroke-width="1" stroke-linecap="butt"/><line x1="852.9" y1="545.2" x2="852.9" y2="547.2" stroke="#333" stroke-width="1" stroke-linecap="butt"/><line x1="865.3" y1="545.2" x2="865.3" y2="547.2" stroke="#333" stroke-width="1" stroke-linecap="butt"/><line x1="871.5" y1="545.2" x2="871.5" y2="547.2" stroke="#333" stroke-width="1" stroke-linecap="butt"/><line x1="876" y1="545.2" x2="876" y2="547.2" stroke="#333" stroke-width="1" stroke-linecap="butt"/><line x1="879.4" y1="545.2" x2="879.4" y2="547.2" stroke="#333" stroke-width="1" stroke-linecap="butt"/><line x1="882.2" y1="545.2" x2="882.2" y2="547.2" stroke="#333" stroke-width="1" stroke-linecap="butt"/><line x1="884.6" y1="545.2" x2="884.6" y2="547.2" stroke="#333" stroke-width="1" stroke-linecap="butt"/><line x1="886.7" y1="545.2" x2="886.7" y2="547.2" stroke="#333" stroke-width="1" stroke-linecap="butt"/><line x1="888.5" y1="545.2" x2="888.5" y2="547.2" stroke="#333" stroke-width="1" stroke-linecap="butt"/><line x1="900.8" y1="545.2" x2="900.8" y2="547.2" stroke="#333" stroke-width="1" stroke-linecap="butt"/><line x1="907" y1="545.2" x2="907" y2="547.2" stroke="#333" stroke-width="1" stroke-linecap="butt"/><line x1="911.4" y1="545.2" x2="911.4" y2="547.2" stroke="#333" stroke-width="1" stroke-linecap="butt"/><line x1="914.8" y1="545.2" x2="914.8" y2="547.2" stroke="#333" stroke-width="1" stroke-linecap="butt"/><line x1="917.6" y1="545.2" x2="917.6" y2="547.2" stroke="#333" stroke-width="1" stroke-linecap="butt"/><line x1="920" y1="545.2" x2="920" y2="547.2" stroke="#333" stroke-width="1" stroke-linecap="butt"/><line x1="922.1" y1="545.2" x2="922.1" y2="547.2" stroke="#333" stroke-width="1" stroke-linecap="butt"/><line x1="923.9" y1="545.2" x2="923.9" y2="547.2" stroke="#333" stroke-width="1" stroke-linecap="butt"/><line x1="772.6" y1="545.2" x2="772.6" y2="547.2" stroke="#333" stroke-width="1" stroke-linecap="butt"/><line x1="776.6" y1="545.2" x2="776.6" y2="547.2" stroke="#333" stroke-width="1" stroke-linecap="butt"/><line x1="780.6" y1="545.2" x2="780.6" y2="547.2" stroke="#333" stroke-width="1" stroke-linecap="butt"/><line x1="784.6" y1="545.2" x2="784.6" y2="547.2" stroke="#333" stroke-width="1" stroke-linecap="butt"/><line x1="787.1" y1="545.2" x2="787.1" y2="547.2" stroke="#333" stroke-width="1" stroke-linecap="butt"/><line x1="790.1" y1="545.2" x2="790.1" y2="547.2" stroke="#333" stroke-width="1" stroke-linecap="butt"/><line x1="792.6" y1="545.2" x2="792.6" y2="547.2" stroke="#333" stroke-width="1" stroke-linecap="butt"/><line x1="796.6" y1="545.2" x2="796.6" y2="547.2" stroke="#333" stroke-width="1" stroke-linecap="butt"/><line x1="800.6" y1="545.2" x2="800.6" y2="547.2" stroke="#333" stroke-width="1" stroke-linecap="butt"/><line x1="804.6" y1="545.2" x2="804.6" y2="547.2" stroke="#333" stroke-width="1" stroke-linecap="butt"/><line x1="788.6" y1="545.2" x2="788.6" y2="549.2" stroke="#222" stroke-width="1.2" stroke-linecap="butt"/><text x="788.6" y="571" font-size="18.5" text-anchor="middle">0</text><line x1="817.8" y1="545.2" x2="817.8" y2="549.2" stroke="#222" stroke-width="1.2" stroke-linecap="butt"/><text x="819.3" y="571" font-size="18.5" text-anchor="middle">10<tspan dy="-4.8" font-size="13.5">2</tspan></text><line x1="854.6" y1="545.2" x2="854.6" y2="549.2" stroke="#222" stroke-width="1.2" stroke-linecap="butt"/><text x="856.1" y="571" font-size="18.5" text-anchor="middle">10<tspan dy="-4.8" font-size="13.5">3</tspan></text><line x1="890.1" y1="545.2" x2="890.1" y2="549.2" stroke="#222" stroke-width="1.2" stroke-linecap="butt"/><text x="891.6" y="571" font-size="18.5" text-anchor="middle">10<tspan dy="-4.8" font-size="13.5">4</tspan></text><line x1="925.5" y1="545.2" x2="925.5" y2="549.2" stroke="#222" stroke-width="1.2" stroke-linecap="butt"/><text x="927" y="571" font-size="18.5" text-anchor="middle">10<tspan dy="-4.8" font-size="13.5">5</tspan></text><line x1="763.8" y1="368.6" x2="763.8" y2="546" stroke="#262626" stroke-width="1.7" stroke-linecap="butt"/><line x1="763" y1="545.2" x2="941.4" y2="545.2" stroke="#262626" stroke-width="1.7" stroke-linecap="butt"/><line x1="66.2" y1="990" x2="243.2" y2="990" stroke="#8a8a8a" stroke-width="1.2" stroke-linecap="butt"/><line x1="243.2" y1="990" x2="243.2" y2="1166.4" stroke="#8a8a8a" stroke-width="1.2" stroke-linecap="butt"/><line x1="64.2" y1="1033" x2="66.2" y2="1033" stroke="#333" stroke-width="1" stroke-linecap="butt"/><line x1="64.2" y1="1025.9" x2="66.2" y2="1025.9" stroke="#333" stroke-width="1" stroke-linecap="butt"/><line x1="64.2" y1="1020.9" x2="66.2" y2="1020.9" stroke="#333" stroke-width="1" stroke-linecap="butt"/><line x1="64.2" y1="1017" x2="66.2" y2="1017" stroke="#333" stroke-width="1" stroke-linecap="butt"/><line x1="64.2" y1="1013.9" x2="66.2" y2="1013.9" stroke="#333" stroke-width="1" stroke-linecap="butt"/><line x1="64.2" y1="1011.2" x2="66.2" y2="1011.2" stroke="#333" stroke-width="1" stroke-linecap="butt"/><line x1="64.2" y1="1008.9" x2="66.2" y2="1008.9" stroke="#333" stroke-width="1" stroke-linecap="butt"/><line x1="64.2" y1="1006.8" x2="66.2" y2="1006.8" stroke="#333" stroke-width="1" stroke-linecap="butt"/><line x1="64.2" y1="1073.2" x2="66.2" y2="1073.2" stroke="#333" stroke-width="1" stroke-linecap="butt"/><line x1="64.2" y1="1066.1" x2="66.2" y2="1066.1" stroke="#333" stroke-width="1" stroke-linecap="butt"/><line x1="64.2" y1="1061" x2="66.2" y2="1061" stroke="#333" stroke-width="1" stroke-linecap="butt"/><line x1="64.2" y1="1057.1" x2="66.2" y2="1057.1" stroke="#333" stroke-width="1" stroke-linecap="butt"/><line x1="64.2" y1="1053.9" x2="66.2" y2="1053.9" stroke="#333" stroke-width="1" stroke-linecap="butt"/><line x1="64.2" y1="1051.2" x2="66.2" y2="1051.2" stroke="#333" stroke-width="1" stroke-linecap="butt"/><line x1="64.2" y1="1048.9" x2="66.2" y2="1048.9" stroke="#333" stroke-width="1" stroke-linecap="butt"/><line x1="64.2" y1="1046.8" x2="66.2" y2="1046.8" stroke="#333" stroke-width="1" stroke-linecap="butt"/><line x1="64.2" y1="1115.6" x2="66.2" y2="1115.6" stroke="#333" stroke-width="1" stroke-linecap="butt"/><line x1="64.2" y1="1108" x2="66.2" y2="1108" stroke="#333" stroke-width="1" stroke-linecap="butt"/><line x1="64.2" y1="1102.6" x2="66.2" y2="1102.6" stroke="#333" stroke-width="1" stroke-linecap="butt"/><line x1="64.2" y1="1098.4" x2="66.2" y2="1098.4" stroke="#333" stroke-width="1" stroke-linecap="butt"/><line x1="64.2" y1="1094.9" x2="66.2" y2="1094.9" stroke="#333" stroke-width="1" stroke-linecap="butt"/><line x1="64.2" y1="1092" x2="66.2" y2="1092" stroke="#333" stroke-width="1" stroke-linecap="butt"/><line x1="64.2" y1="1089.5" x2="66.2" y2="1089.5" stroke="#333" stroke-width="1" stroke-linecap="butt"/><line x1="64.2" y1="1087.3" x2="66.2" y2="1087.3" stroke="#333" stroke-width="1" stroke-linecap="butt"/><line x1="64.2" y1="1142" x2="66.2" y2="1142" stroke="#333" stroke-width="1" stroke-linecap="butt"/><line x1="64.2" y1="1146" x2="66.2" y2="1146" stroke="#333" stroke-width="1" stroke-linecap="butt"/><line x1="64.2" y1="1154" x2="66.2" y2="1154" stroke="#333" stroke-width="1" stroke-linecap="butt"/><line x1="64.2" y1="1158" x2="66.2" y2="1158" stroke="#333" stroke-width="1" stroke-linecap="butt"/><line x1="62.2" y1="1005" x2="66.2" y2="1005" stroke="#222" stroke-width="1.2" stroke-linecap="butt"/><text x="56.4" y="1013.3" font-size="18.5" text-anchor="end">10<tspan dy="-4.8" font-size="13.5">5</tspan></text><line x1="62.2" y1="1045" x2="66.2" y2="1045" stroke="#222" stroke-width="1.2" stroke-linecap="butt"/><text x="56.4" y="1053.3" font-size="18.5" text-anchor="end">10<tspan dy="-4.8" font-size="13.5">4</tspan></text><line x1="62.2" y1="1085.3" x2="66.2" y2="1085.3" stroke="#222" stroke-width="1.2" stroke-linecap="butt"/><text x="56.4" y="1093.6" font-size="18.5" text-anchor="end">10<tspan dy="-4.8" font-size="13.5">3</tspan></text><line x1="62.2" y1="1128.7" x2="66.2" y2="1128.7" stroke="#222" stroke-width="1.2" stroke-linecap="butt"/><text x="56.4" y="1137" font-size="18.5" text-anchor="end">10<tspan dy="-4.8" font-size="13.5">2</tspan></text><line x1="62.2" y1="1150" x2="66.2" y2="1150" stroke="#222" stroke-width="1.2" stroke-linecap="butt"/><text x="57.7" y="1156.8" font-size="18.5" text-anchor="end">0</text><line x1="119.4" y1="1166.4" x2="119.4" y2="1168.4" stroke="#333" stroke-width="1" stroke-linecap="butt"/><line x1="126.6" y1="1166.4" x2="126.6" y2="1168.4" stroke="#333" stroke-width="1" stroke-linecap="butt"/><line x1="131.6" y1="1166.4" x2="131.6" y2="1168.4" stroke="#333" stroke-width="1" stroke-linecap="butt"/><line x1="135.6" y1="1166.4" x2="135.6" y2="1168.4" stroke="#333" stroke-width="1" stroke-linecap="butt"/><line x1="138.8" y1="1166.4" x2="138.8" y2="1168.4" stroke="#333" stroke-width="1" stroke-linecap="butt"/><line x1="141.5" y1="1166.4" x2="141.5" y2="1168.4" stroke="#333" stroke-width="1" stroke-linecap="butt"/><line x1="143.9" y1="1166.4" x2="143.9" y2="1168.4" stroke="#333" stroke-width="1" stroke-linecap="butt"/><line x1="145.9" y1="1166.4" x2="145.9" y2="1168.4" stroke="#333" stroke-width="1" stroke-linecap="butt"/><line x1="159.8" y1="1166.4" x2="159.8" y2="1168.4" stroke="#333" stroke-width="1" stroke-linecap="butt"/><line x1="166.7" y1="1166.4" x2="166.7" y2="1168.4" stroke="#333" stroke-width="1" stroke-linecap="butt"/><line x1="171.7" y1="1166.4" x2="171.7" y2="1168.4" stroke="#333" stroke-width="1" stroke-linecap="butt"/><line x1="175.5" y1="1166.4" x2="175.5" y2="1168.4" stroke="#333" stroke-width="1" stroke-linecap="butt"/><line x1="178.7" y1="1166.4" x2="178.7" y2="1168.4" stroke="#333" stroke-width="1" stroke-linecap="butt"/><line x1="181.4" y1="1166.4" x2="181.4" y2="1168.4" stroke="#333" stroke-width="1" stroke-linecap="butt"/><line x1="183.7" y1="1166.4" x2="183.7" y2="1168.4" stroke="#333" stroke-width="1" stroke-linecap="butt"/><line x1="185.7" y1="1166.4" x2="185.7" y2="1168.4" stroke="#333" stroke-width="1" stroke-linecap="butt"/><line x1="199.6" y1="1166.4" x2="199.6" y2="1168.4" stroke="#333" stroke-width="1" stroke-linecap="butt"/><line x1="206.7" y1="1166.4" x2="206.7" y2="1168.4" stroke="#333" stroke-width="1" stroke-linecap="butt"/><line x1="211.7" y1="1166.4" x2="211.7" y2="1168.4" stroke="#333" stroke-width="1" stroke-linecap="butt"/><line x1="215.6" y1="1166.4" x2="215.6" y2="1168.4" stroke="#333" stroke-width="1" stroke-linecap="butt"/><line x1="218.8" y1="1166.4" x2="218.8" y2="1168.4" stroke="#333" stroke-width="1" stroke-linecap="butt"/><line x1="221.5" y1="1166.4" x2="221.5" y2="1168.4" stroke="#333" stroke-width="1" stroke-linecap="butt"/><line x1="223.8" y1="1166.4" x2="223.8" y2="1168.4" stroke="#333" stroke-width="1" stroke-linecap="butt"/><line x1="225.9" y1="1166.4" x2="225.9" y2="1168.4" stroke="#333" stroke-width="1" stroke-linecap="butt"/><line x1="70" y1="1166.4" x2="70" y2="1168.4" stroke="#333" stroke-width="1" stroke-linecap="butt"/><line x1="72.5" y1="1166.4" x2="72.5" y2="1168.4" stroke="#333" stroke-width="1" stroke-linecap="butt"/><line x1="75.5" y1="1166.4" x2="75.5" y2="1168.4" stroke="#333" stroke-width="1" stroke-linecap="butt"/><line x1="78" y1="1166.4" x2="78" y2="1168.4" stroke="#333" stroke-width="1" stroke-linecap="butt"/><line x1="82" y1="1166.4" x2="82" y2="1168.4" stroke="#333" stroke-width="1" stroke-linecap="butt"/><line x1="86" y1="1166.4" x2="86" y2="1168.4" stroke="#333" stroke-width="1" stroke-linecap="butt"/><line x1="90" y1="1166.4" x2="90" y2="1168.4" stroke="#333" stroke-width="1" stroke-linecap="butt"/><line x1="74" y1="1166.4" x2="74" y2="1170.4" stroke="#222" stroke-width="1.2" stroke-linecap="butt"/><text x="74" y="1194" font-size="18.5" text-anchor="middle">0</text><line x1="107.2" y1="1166.4" x2="107.2" y2="1170.4" stroke="#222" stroke-width="1.2" stroke-linecap="butt"/><text x="107.2" y="1194" font-size="18.5" text-anchor="middle">10<tspan dy="-4.8" font-size="13.5">2</tspan></text><line x1="147.8" y1="1166.4" x2="147.8" y2="1170.4" stroke="#222" stroke-width="1.2" stroke-linecap="butt"/><text x="147.8" y="1194" font-size="18.5" text-anchor="middle">10<tspan dy="-4.8" font-size="13.5">3</tspan></text><line x1="187.5" y1="1166.4" x2="187.5" y2="1170.4" stroke="#222" stroke-width="1.2" stroke-linecap="butt"/><text x="187.5" y="1194" font-size="18.5" text-anchor="middle">10<tspan dy="-4.8" font-size="13.5">4</tspan></text><line x1="227.7" y1="1166.4" x2="227.7" y2="1170.4" stroke="#222" stroke-width="1.2" stroke-linecap="butt"/><text x="227.7" y="1194" font-size="18.5" text-anchor="middle">10<tspan dy="-4.8" font-size="13.5">5</tspan></text><line x1="66.2" y1="989.4" x2="66.2" y2="1167.2" stroke="#262626" stroke-width="1.7" stroke-linecap="butt"/><line x1="65.4" y1="1166.4" x2="243.8" y2="1166.4" stroke="#262626" stroke-width="1.7" stroke-linecap="butt"/><line x1="301.7" y1="990" x2="478.7" y2="990" stroke="#8a8a8a" stroke-width="1.2" stroke-linecap="butt"/><line x1="478.7" y1="990" x2="478.7" y2="1166.4" stroke="#8a8a8a" stroke-width="1.2" stroke-linecap="butt"/><line x1="299.7" y1="1033" x2="301.7" y2="1033" stroke="#333" stroke-width="1" stroke-linecap="butt"/><line x1="299.7" y1="1025.9" x2="301.7" y2="1025.9" stroke="#333" stroke-width="1" stroke-linecap="butt"/><line x1="299.7" y1="1020.9" x2="301.7" y2="1020.9" stroke="#333" stroke-width="1" stroke-linecap="butt"/><line x1="299.7" y1="1017" x2="301.7" y2="1017" stroke="#333" stroke-width="1" stroke-linecap="butt"/><line x1="299.7" y1="1013.9" x2="301.7" y2="1013.9" stroke="#333" stroke-width="1" stroke-linecap="butt"/><line x1="299.7" y1="1011.2" x2="301.7" y2="1011.2" stroke="#333" stroke-width="1" stroke-linecap="butt"/><line x1="299.7" y1="1008.9" x2="301.7" y2="1008.9" stroke="#333" stroke-width="1" stroke-linecap="butt"/><line x1="299.7" y1="1006.8" x2="301.7" y2="1006.8" stroke="#333" stroke-width="1" stroke-linecap="butt"/><line x1="299.7" y1="1073.2" x2="301.7" y2="1073.2" stroke="#333" stroke-width="1" stroke-linecap="butt"/><line x1="299.7" y1="1066.1" x2="301.7" y2="1066.1" stroke="#333" stroke-width="1" stroke-linecap="butt"/><line x1="299.7" y1="1061" x2="301.7" y2="1061" stroke="#333" stroke-width="1" stroke-linecap="butt"/><line x1="299.7" y1="1057.1" x2="301.7" y2="1057.1" stroke="#333" stroke-width="1" stroke-linecap="butt"/><line x1="299.7" y1="1053.9" x2="301.7" y2="1053.9" stroke="#333" stroke-width="1" stroke-linecap="butt"/><line x1="299.7" y1="1051.2" x2="301.7" y2="1051.2" stroke="#333" stroke-width="1" stroke-linecap="butt"/><line x1="299.7" y1="1048.9" x2="301.7" y2="1048.9" stroke="#333" stroke-width="1" stroke-linecap="butt"/><line x1="299.7" y1="1046.8" x2="301.7" y2="1046.8" stroke="#333" stroke-width="1" stroke-linecap="butt"/><line x1="299.7" y1="1115.6" x2="301.7" y2="1115.6" stroke="#333" stroke-width="1" stroke-linecap="butt"/><line x1="299.7" y1="1108" x2="301.7" y2="1108" stroke="#333" stroke-width="1" stroke-linecap="butt"/><line x1="299.7" y1="1102.6" x2="301.7" y2="1102.6" stroke="#333" stroke-width="1" stroke-linecap="butt"/><line x1="299.7" y1="1098.4" x2="301.7" y2="1098.4" stroke="#333" stroke-width="1" stroke-linecap="butt"/><line x1="299.7" y1="1094.9" x2="301.7" y2="1094.9" stroke="#333" stroke-width="1" stroke-linecap="butt"/><line x1="299.7" y1="1092" x2="301.7" y2="1092" stroke="#333" stroke-width="1" stroke-linecap="butt"/><line x1="299.7" y1="1089.5" x2="301.7" y2="1089.5" stroke="#333" stroke-width="1" stroke-linecap="butt"/><line x1="299.7" y1="1087.3" x2="301.7" y2="1087.3" stroke="#333" stroke-width="1" stroke-linecap="butt"/><line x1="299.7" y1="1142" x2="301.7" y2="1142" stroke="#333" stroke-width="1" stroke-linecap="butt"/><line x1="299.7" y1="1146" x2="301.7" y2="1146" stroke="#333" stroke-width="1" stroke-linecap="butt"/><line x1="299.7" y1="1154" x2="301.7" y2="1154" stroke="#333" stroke-width="1" stroke-linecap="butt"/><line x1="299.7" y1="1158" x2="301.7" y2="1158" stroke="#333" stroke-width="1" stroke-linecap="butt"/><line x1="297.7" y1="1005" x2="301.7" y2="1005" stroke="#222" stroke-width="1.2" stroke-linecap="butt"/><text x="291.9" y="1013.3" font-size="18.5" text-anchor="end">10<tspan dy="-4.8" font-size="13.5">5</tspan></text><line x1="297.7" y1="1045" x2="301.7" y2="1045" stroke="#222" stroke-width="1.2" stroke-linecap="butt"/><text x="291.9" y="1053.3" font-size="18.5" text-anchor="end">10<tspan dy="-4.8" font-size="13.5">4</tspan></text><line x1="297.7" y1="1085.3" x2="301.7" y2="1085.3" stroke="#222" stroke-width="1.2" stroke-linecap="butt"/><text x="291.9" y="1093.6" font-size="18.5" text-anchor="end">10<tspan dy="-4.8" font-size="13.5">3</tspan></text><line x1="297.7" y1="1128.7" x2="301.7" y2="1128.7" stroke="#222" stroke-width="1.2" stroke-linecap="butt"/><text x="291.9" y="1137" font-size="18.5" text-anchor="end">10<tspan dy="-4.8" font-size="13.5">2</tspan></text><line x1="297.7" y1="1150" x2="301.7" y2="1150" stroke="#222" stroke-width="1.2" stroke-linecap="butt"/><text x="293.2" y="1156.8" font-size="18.5" text-anchor="end">0</text><line x1="354.9" y1="1166.4" x2="354.9" y2="1168.4" stroke="#333" stroke-width="1" stroke-linecap="butt"/><line x1="362.1" y1="1166.4" x2="362.1" y2="1168.4" stroke="#333" stroke-width="1" stroke-linecap="butt"/><line x1="367.1" y1="1166.4" x2="367.1" y2="1168.4" stroke="#333" stroke-width="1" stroke-linecap="butt"/><line x1="371.1" y1="1166.4" x2="371.1" y2="1168.4" stroke="#333" stroke-width="1" stroke-linecap="butt"/><line x1="374.3" y1="1166.4" x2="374.3" y2="1168.4" stroke="#333" stroke-width="1" stroke-linecap="butt"/><line x1="377" y1="1166.4" x2="377" y2="1168.4" stroke="#333" stroke-width="1" stroke-linecap="butt"/><line x1="379.4" y1="1166.4" x2="379.4" y2="1168.4" stroke="#333" stroke-width="1" stroke-linecap="butt"/><line x1="381.4" y1="1166.4" x2="381.4" y2="1168.4" stroke="#333" stroke-width="1" stroke-linecap="butt"/><line x1="395.3" y1="1166.4" x2="395.3" y2="1168.4" stroke="#333" stroke-width="1" stroke-linecap="butt"/><line x1="402.2" y1="1166.4" x2="402.2" y2="1168.4" stroke="#333" stroke-width="1" stroke-linecap="butt"/><line x1="407.2" y1="1166.4" x2="407.2" y2="1168.4" stroke="#333" stroke-width="1" stroke-linecap="butt"/><line x1="411" y1="1166.4" x2="411" y2="1168.4" stroke="#333" stroke-width="1" stroke-linecap="butt"/><line x1="414.2" y1="1166.4" x2="414.2" y2="1168.4" stroke="#333" stroke-width="1" stroke-linecap="butt"/><line x1="416.9" y1="1166.4" x2="416.9" y2="1168.4" stroke="#333" stroke-width="1" stroke-linecap="butt"/><line x1="419.2" y1="1166.4" x2="419.2" y2="1168.4" stroke="#333" stroke-width="1" stroke-linecap="butt"/><line x1="421.2" y1="1166.4" x2="421.2" y2="1168.4" stroke="#333" stroke-width="1" stroke-linecap="butt"/><line x1="435.1" y1="1166.4" x2="435.1" y2="1168.4" stroke="#333" stroke-width="1" stroke-linecap="butt"/><line x1="442.2" y1="1166.4" x2="442.2" y2="1168.4" stroke="#333" stroke-width="1" stroke-linecap="butt"/><line x1="447.2" y1="1166.4" x2="447.2" y2="1168.4" stroke="#333" stroke-width="1" stroke-linecap="butt"/><line x1="451.1" y1="1166.4" x2="451.1" y2="1168.4" stroke="#333" stroke-width="1" stroke-linecap="butt"/><line x1="454.3" y1="1166.4" x2="454.3" y2="1168.4" stroke="#333" stroke-width="1" stroke-linecap="butt"/><line x1="457" y1="1166.4" x2="457" y2="1168.4" stroke="#333" stroke-width="1" stroke-linecap="butt"/><line x1="459.3" y1="1166.4" x2="459.3" y2="1168.4" stroke="#333" stroke-width="1" stroke-linecap="butt"/><line x1="461.4" y1="1166.4" x2="461.4" y2="1168.4" stroke="#333" stroke-width="1" stroke-linecap="butt"/><line x1="305.5" y1="1166.4" x2="305.5" y2="1168.4" stroke="#333" stroke-width="1" stroke-linecap="butt"/><line x1="308" y1="1166.4" x2="308" y2="1168.4" stroke="#333" stroke-width="1" stroke-linecap="butt"/><line x1="311" y1="1166.4" x2="311" y2="1168.4" stroke="#333" stroke-width="1" stroke-linecap="butt"/><line x1="313.5" y1="1166.4" x2="313.5" y2="1168.4" stroke="#333" stroke-width="1" stroke-linecap="butt"/><line x1="317.5" y1="1166.4" x2="317.5" y2="1168.4" stroke="#333" stroke-width="1" stroke-linecap="butt"/><line x1="321.5" y1="1166.4" x2="321.5" y2="1168.4" stroke="#333" stroke-width="1" stroke-linecap="butt"/><line x1="325.5" y1="1166.4" x2="325.5" y2="1168.4" stroke="#333" stroke-width="1" stroke-linecap="butt"/><line x1="309.5" y1="1166.4" x2="309.5" y2="1170.4" stroke="#222" stroke-width="1.2" stroke-linecap="butt"/><text x="309.5" y="1194" font-size="18.5" text-anchor="middle">0</text><line x1="342.7" y1="1166.4" x2="342.7" y2="1170.4" stroke="#222" stroke-width="1.2" stroke-linecap="butt"/><text x="340.7" y="1194" font-size="18.5" text-anchor="middle">10<tspan dy="-4.8" font-size="13.5">2</tspan></text><line x1="383.3" y1="1166.4" x2="383.3" y2="1170.4" stroke="#222" stroke-width="1.2" stroke-linecap="butt"/><text x="381.3" y="1194" font-size="18.5" text-anchor="middle">10<tspan dy="-4.8" font-size="13.5">3</tspan></text><line x1="423" y1="1166.4" x2="423" y2="1170.4" stroke="#222" stroke-width="1.2" stroke-linecap="butt"/><text x="421" y="1194" font-size="18.5" text-anchor="middle">10<tspan dy="-4.8" font-size="13.5">4</tspan></text><line x1="463.2" y1="1166.4" x2="463.2" y2="1170.4" stroke="#222" stroke-width="1.2" stroke-linecap="butt"/><text x="461.2" y="1194" font-size="18.5" text-anchor="middle">10<tspan dy="-4.8" font-size="13.5">5</tspan></text><line x1="301.7" y1="989.4" x2="301.7" y2="1167.2" stroke="#262626" stroke-width="1.7" stroke-linecap="butt"/><line x1="300.9" y1="1166.4" x2="479.3" y2="1166.4" stroke="#262626" stroke-width="1.7" stroke-linecap="butt"/><line x1="534.4" y1="990" x2="711.4" y2="990" stroke="#8a8a8a" stroke-width="1.2" stroke-linecap="butt"/><line x1="711.4" y1="990" x2="711.4" y2="1166.4" stroke="#8a8a8a" stroke-width="1.2" stroke-linecap="butt"/><line x1="532.4" y1="1033" x2="534.4" y2="1033" stroke="#333" stroke-width="1" stroke-linecap="butt"/><line x1="532.4" y1="1025.9" x2="534.4" y2="1025.9" stroke="#333" stroke-width="1" stroke-linecap="butt"/><line x1="532.4" y1="1020.9" x2="534.4" y2="1020.9" stroke="#333" stroke-width="1" stroke-linecap="butt"/><line x1="532.4" y1="1017" x2="534.4" y2="1017" stroke="#333" stroke-width="1" stroke-linecap="butt"/><line x1="532.4" y1="1013.9" x2="534.4" y2="1013.9" stroke="#333" stroke-width="1" stroke-linecap="butt"/><line x1="532.4" y1="1011.2" x2="534.4" y2="1011.2" stroke="#333" stroke-width="1" stroke-linecap="butt"/><line x1="532.4" y1="1008.9" x2="534.4" y2="1008.9" stroke="#333" stroke-width="1" stroke-linecap="butt"/><line x1="532.4" y1="1006.8" x2="534.4" y2="1006.8" stroke="#333" stroke-width="1" stroke-linecap="butt"/><line x1="532.4" y1="1073.2" x2="534.4" y2="1073.2" stroke="#333" stroke-width="1" stroke-linecap="butt"/><line x1="532.4" y1="1066.1" x2="534.4" y2="1066.1" stroke="#333" stroke-width="1" stroke-linecap="butt"/><line x1="532.4" y1="1061" x2="534.4" y2="1061" stroke="#333" stroke-width="1" stroke-linecap="butt"/><line x1="532.4" y1="1057.1" x2="534.4" y2="1057.1" stroke="#333" stroke-width="1" stroke-linecap="butt"/><line x1="532.4" y1="1053.9" x2="534.4" y2="1053.9" stroke="#333" stroke-width="1" stroke-linecap="butt"/><line x1="532.4" y1="1051.2" x2="534.4" y2="1051.2" stroke="#333" stroke-width="1" stroke-linecap="butt"/><line x1="532.4" y1="1048.9" x2="534.4" y2="1048.9" stroke="#333" stroke-width="1" stroke-linecap="butt"/><line x1="532.4" y1="1046.8" x2="534.4" y2="1046.8" stroke="#333" stroke-width="1" stroke-linecap="butt"/><line x1="532.4" y1="1115.6" x2="534.4" y2="1115.6" stroke="#333" stroke-width="1" stroke-linecap="butt"/><line x1="532.4" y1="1108" x2="534.4" y2="1108" stroke="#333" stroke-width="1" stroke-linecap="butt"/><line x1="532.4" y1="1102.6" x2="534.4" y2="1102.6" stroke="#333" stroke-width="1" stroke-linecap="butt"/><line x1="532.4" y1="1098.4" x2="534.4" y2="1098.4" stroke="#333" stroke-width="1" stroke-linecap="butt"/><line x1="532.4" y1="1094.9" x2="534.4" y2="1094.9" stroke="#333" stroke-width="1" stroke-linecap="butt"/><line x1="532.4" y1="1092" x2="534.4" y2="1092" stroke="#333" stroke-width="1" stroke-linecap="butt"/><line x1="532.4" y1="1089.5" x2="534.4" y2="1089.5" stroke="#333" stroke-width="1" stroke-linecap="butt"/><line x1="532.4" y1="1087.3" x2="534.4" y2="1087.3" stroke="#333" stroke-width="1" stroke-linecap="butt"/><line x1="532.4" y1="1142" x2="534.4" y2="1142" stroke="#333" stroke-width="1" stroke-linecap="butt"/><line x1="532.4" y1="1146" x2="534.4" y2="1146" stroke="#333" stroke-width="1" stroke-linecap="butt"/><line x1="532.4" y1="1154" x2="534.4" y2="1154" stroke="#333" stroke-width="1" stroke-linecap="butt"/><line x1="532.4" y1="1158" x2="534.4" y2="1158" stroke="#333" stroke-width="1" stroke-linecap="butt"/><line x1="530.4" y1="1005" x2="534.4" y2="1005" stroke="#222" stroke-width="1.2" stroke-linecap="butt"/><text x="524.6" y="1013.3" font-size="18.5" text-anchor="end">10<tspan dy="-4.8" font-size="13.5">5</tspan></text><line x1="530.4" y1="1045" x2="534.4" y2="1045" stroke="#222" stroke-width="1.2" stroke-linecap="butt"/><text x="524.6" y="1053.3" font-size="18.5" text-anchor="end">10<tspan dy="-4.8" font-size="13.5">4</tspan></text><line x1="530.4" y1="1085.3" x2="534.4" y2="1085.3" stroke="#222" stroke-width="1.2" stroke-linecap="butt"/><text x="524.6" y="1093.6" font-size="18.5" text-anchor="end">10<tspan dy="-4.8" font-size="13.5">3</tspan></text><line x1="530.4" y1="1128.7" x2="534.4" y2="1128.7" stroke="#222" stroke-width="1.2" stroke-linecap="butt"/><text x="524.6" y="1137" font-size="18.5" text-anchor="end">10<tspan dy="-4.8" font-size="13.5">2</tspan></text><line x1="530.4" y1="1150" x2="534.4" y2="1150" stroke="#222" stroke-width="1.2" stroke-linecap="butt"/><text x="525.9" y="1156.8" font-size="18.5" text-anchor="end">0</text><line x1="587.6" y1="1166.4" x2="587.6" y2="1168.4" stroke="#333" stroke-width="1" stroke-linecap="butt"/><line x1="594.8" y1="1166.4" x2="594.8" y2="1168.4" stroke="#333" stroke-width="1" stroke-linecap="butt"/><line x1="599.8" y1="1166.4" x2="599.8" y2="1168.4" stroke="#333" stroke-width="1" stroke-linecap="butt"/><line x1="603.8" y1="1166.4" x2="603.8" y2="1168.4" stroke="#333" stroke-width="1" stroke-linecap="butt"/><line x1="607" y1="1166.4" x2="607" y2="1168.4" stroke="#333" stroke-width="1" stroke-linecap="butt"/><line x1="609.7" y1="1166.4" x2="609.7" y2="1168.4" stroke="#333" stroke-width="1" stroke-linecap="butt"/><line x1="612.1" y1="1166.4" x2="612.1" y2="1168.4" stroke="#333" stroke-width="1" stroke-linecap="butt"/><line x1="614.1" y1="1166.4" x2="614.1" y2="1168.4" stroke="#333" stroke-width="1" stroke-linecap="butt"/><line x1="628" y1="1166.4" x2="628" y2="1168.4" stroke="#333" stroke-width="1" stroke-linecap="butt"/><line x1="634.9" y1="1166.4" x2="634.9" y2="1168.4" stroke="#333" stroke-width="1" stroke-linecap="butt"/><line x1="639.9" y1="1166.4" x2="639.9" y2="1168.4" stroke="#333" stroke-width="1" stroke-linecap="butt"/><line x1="643.7" y1="1166.4" x2="643.7" y2="1168.4" stroke="#333" stroke-width="1" stroke-linecap="butt"/><line x1="646.9" y1="1166.4" x2="646.9" y2="1168.4" stroke="#333" stroke-width="1" stroke-linecap="butt"/><line x1="649.6" y1="1166.4" x2="649.6" y2="1168.4" stroke="#333" stroke-width="1" stroke-linecap="butt"/><line x1="651.9" y1="1166.4" x2="651.9" y2="1168.4" stroke="#333" stroke-width="1" stroke-linecap="butt"/><line x1="653.9" y1="1166.4" x2="653.9" y2="1168.4" stroke="#333" stroke-width="1" stroke-linecap="butt"/><line x1="667.8" y1="1166.4" x2="667.8" y2="1168.4" stroke="#333" stroke-width="1" stroke-linecap="butt"/><line x1="674.9" y1="1166.4" x2="674.9" y2="1168.4" stroke="#333" stroke-width="1" stroke-linecap="butt"/><line x1="679.9" y1="1166.4" x2="679.9" y2="1168.4" stroke="#333" stroke-width="1" stroke-linecap="butt"/><line x1="683.8" y1="1166.4" x2="683.8" y2="1168.4" stroke="#333" stroke-width="1" stroke-linecap="butt"/><line x1="687" y1="1166.4" x2="687" y2="1168.4" stroke="#333" stroke-width="1" stroke-linecap="butt"/><line x1="689.7" y1="1166.4" x2="689.7" y2="1168.4" stroke="#333" stroke-width="1" stroke-linecap="butt"/><line x1="692" y1="1166.4" x2="692" y2="1168.4" stroke="#333" stroke-width="1" stroke-linecap="butt"/><line x1="694.1" y1="1166.4" x2="694.1" y2="1168.4" stroke="#333" stroke-width="1" stroke-linecap="butt"/><line x1="538.2" y1="1166.4" x2="538.2" y2="1168.4" stroke="#333" stroke-width="1" stroke-linecap="butt"/><line x1="540.7" y1="1166.4" x2="540.7" y2="1168.4" stroke="#333" stroke-width="1" stroke-linecap="butt"/><line x1="543.7" y1="1166.4" x2="543.7" y2="1168.4" stroke="#333" stroke-width="1" stroke-linecap="butt"/><line x1="546.2" y1="1166.4" x2="546.2" y2="1168.4" stroke="#333" stroke-width="1" stroke-linecap="butt"/><line x1="550.2" y1="1166.4" x2="550.2" y2="1168.4" stroke="#333" stroke-width="1" stroke-linecap="butt"/><line x1="554.2" y1="1166.4" x2="554.2" y2="1168.4" stroke="#333" stroke-width="1" stroke-linecap="butt"/><line x1="558.2" y1="1166.4" x2="558.2" y2="1168.4" stroke="#333" stroke-width="1" stroke-linecap="butt"/><line x1="542.2" y1="1166.4" x2="542.2" y2="1170.4" stroke="#222" stroke-width="1.2" stroke-linecap="butt"/><text x="542.2" y="1194" font-size="18.5" text-anchor="middle">0</text><line x1="575.4" y1="1166.4" x2="575.4" y2="1170.4" stroke="#222" stroke-width="1.2" stroke-linecap="butt"/><text x="574.9" y="1194" font-size="18.5" text-anchor="middle">10<tspan dy="-4.8" font-size="13.5">2</tspan></text><line x1="616" y1="1166.4" x2="616" y2="1170.4" stroke="#222" stroke-width="1.2" stroke-linecap="butt"/><text x="615.5" y="1194" font-size="18.5" text-anchor="middle">10<tspan dy="-4.8" font-size="13.5">3</tspan></text><line x1="655.7" y1="1166.4" x2="655.7" y2="1170.4" stroke="#222" stroke-width="1.2" stroke-linecap="butt"/><text x="655.2" y="1194" font-size="18.5" text-anchor="middle">10<tspan dy="-4.8" font-size="13.5">4</tspan></text><line x1="695.9" y1="1166.4" x2="695.9" y2="1170.4" stroke="#222" stroke-width="1.2" stroke-linecap="butt"/><text x="695.4" y="1194" font-size="18.5" text-anchor="middle">10<tspan dy="-4.8" font-size="13.5">5</tspan></text><line x1="534.4" y1="989.4" x2="534.4" y2="1167.2" stroke="#262626" stroke-width="1.7" stroke-linecap="butt"/><line x1="533.6" y1="1166.4" x2="712" y2="1166.4" stroke="#262626" stroke-width="1.7" stroke-linecap="butt"/><line x1="768.3" y1="990" x2="945.3" y2="990" stroke="#8a8a8a" stroke-width="1.2" stroke-linecap="butt"/><line x1="945.3" y1="990" x2="945.3" y2="1166.4" stroke="#8a8a8a" stroke-width="1.2" stroke-linecap="butt"/><line x1="766.3" y1="1033" x2="768.3" y2="1033" stroke="#333" stroke-width="1" stroke-linecap="butt"/><line x1="766.3" y1="1025.9" x2="768.3" y2="1025.9" stroke="#333" stroke-width="1" stroke-linecap="butt"/><line x1="766.3" y1="1020.9" x2="768.3" y2="1020.9" stroke="#333" stroke-width="1" stroke-linecap="butt"/><line x1="766.3" y1="1017" x2="768.3" y2="1017" stroke="#333" stroke-width="1" stroke-linecap="butt"/><line x1="766.3" y1="1013.9" x2="768.3" y2="1013.9" stroke="#333" stroke-width="1" stroke-linecap="butt"/><line x1="766.3" y1="1011.2" x2="768.3" y2="1011.2" stroke="#333" stroke-width="1" stroke-linecap="butt"/><line x1="766.3" y1="1008.9" x2="768.3" y2="1008.9" stroke="#333" stroke-width="1" stroke-linecap="butt"/><line x1="766.3" y1="1006.8" x2="768.3" y2="1006.8" stroke="#333" stroke-width="1" stroke-linecap="butt"/><line x1="766.3" y1="1073.2" x2="768.3" y2="1073.2" stroke="#333" stroke-width="1" stroke-linecap="butt"/><line x1="766.3" y1="1066.1" x2="768.3" y2="1066.1" stroke="#333" stroke-width="1" stroke-linecap="butt"/><line x1="766.3" y1="1061" x2="768.3" y2="1061" stroke="#333" stroke-width="1" stroke-linecap="butt"/><line x1="766.3" y1="1057.1" x2="768.3" y2="1057.1" stroke="#333" stroke-width="1" stroke-linecap="butt"/><line x1="766.3" y1="1053.9" x2="768.3" y2="1053.9" stroke="#333" stroke-width="1" stroke-linecap="butt"/><line x1="766.3" y1="1051.2" x2="768.3" y2="1051.2" stroke="#333" stroke-width="1" stroke-linecap="butt"/><line x1="766.3" y1="1048.9" x2="768.3" y2="1048.9" stroke="#333" stroke-width="1" stroke-linecap="butt"/><line x1="766.3" y1="1046.8" x2="768.3" y2="1046.8" stroke="#333" stroke-width="1" stroke-linecap="butt"/><line x1="766.3" y1="1115.6" x2="768.3" y2="1115.6" stroke="#333" stroke-width="1" stroke-linecap="butt"/><line x1="766.3" y1="1108" x2="768.3" y2="1108" stroke="#333" stroke-width="1" stroke-linecap="butt"/><line x1="766.3" y1="1102.6" x2="768.3" y2="1102.6" stroke="#333" stroke-width="1" stroke-linecap="butt"/><line x1="766.3" y1="1098.4" x2="768.3" y2="1098.4" stroke="#333" stroke-width="1" stroke-linecap="butt"/><line x1="766.3" y1="1094.9" x2="768.3" y2="1094.9" stroke="#333" stroke-width="1" stroke-linecap="butt"/><line x1="766.3" y1="1092" x2="768.3" y2="1092" stroke="#333" stroke-width="1" stroke-linecap="butt"/><line x1="766.3" y1="1089.5" x2="768.3" y2="1089.5" stroke="#333" stroke-width="1" stroke-linecap="butt"/><line x1="766.3" y1="1087.3" x2="768.3" y2="1087.3" stroke="#333" stroke-width="1" stroke-linecap="butt"/><line x1="766.3" y1="1142" x2="768.3" y2="1142" stroke="#333" stroke-width="1" stroke-linecap="butt"/><line x1="766.3" y1="1146" x2="768.3" y2="1146" stroke="#333" stroke-width="1" stroke-linecap="butt"/><line x1="766.3" y1="1154" x2="768.3" y2="1154" stroke="#333" stroke-width="1" stroke-linecap="butt"/><line x1="766.3" y1="1158" x2="768.3" y2="1158" stroke="#333" stroke-width="1" stroke-linecap="butt"/><line x1="764.3" y1="1005" x2="768.3" y2="1005" stroke="#222" stroke-width="1.2" stroke-linecap="butt"/><text x="758.5" y="1013.3" font-size="18.5" text-anchor="end">10<tspan dy="-4.8" font-size="13.5">5</tspan></text><line x1="764.3" y1="1045" x2="768.3" y2="1045" stroke="#222" stroke-width="1.2" stroke-linecap="butt"/><text x="758.5" y="1053.3" font-size="18.5" text-anchor="end">10<tspan dy="-4.8" font-size="13.5">4</tspan></text><line x1="764.3" y1="1085.3" x2="768.3" y2="1085.3" stroke="#222" stroke-width="1.2" stroke-linecap="butt"/><text x="758.5" y="1093.6" font-size="18.5" text-anchor="end">10<tspan dy="-4.8" font-size="13.5">3</tspan></text><line x1="764.3" y1="1128.7" x2="768.3" y2="1128.7" stroke="#222" stroke-width="1.2" stroke-linecap="butt"/><text x="758.5" y="1137" font-size="18.5" text-anchor="end">10<tspan dy="-4.8" font-size="13.5">2</tspan></text><line x1="764.3" y1="1150" x2="768.3" y2="1150" stroke="#222" stroke-width="1.2" stroke-linecap="butt"/><text x="759.8" y="1156.8" font-size="18.5" text-anchor="end">0</text><line x1="821.5" y1="1166.4" x2="821.5" y2="1168.4" stroke="#333" stroke-width="1" stroke-linecap="butt"/><line x1="828.7" y1="1166.4" x2="828.7" y2="1168.4" stroke="#333" stroke-width="1" stroke-linecap="butt"/><line x1="833.7" y1="1166.4" x2="833.7" y2="1168.4" stroke="#333" stroke-width="1" stroke-linecap="butt"/><line x1="837.7" y1="1166.4" x2="837.7" y2="1168.4" stroke="#333" stroke-width="1" stroke-linecap="butt"/><line x1="840.9" y1="1166.4" x2="840.9" y2="1168.4" stroke="#333" stroke-width="1" stroke-linecap="butt"/><line x1="843.6" y1="1166.4" x2="843.6" y2="1168.4" stroke="#333" stroke-width="1" stroke-linecap="butt"/><line x1="846" y1="1166.4" x2="846" y2="1168.4" stroke="#333" stroke-width="1" stroke-linecap="butt"/><line x1="848" y1="1166.4" x2="848" y2="1168.4" stroke="#333" stroke-width="1" stroke-linecap="butt"/><line x1="861.9" y1="1166.4" x2="861.9" y2="1168.4" stroke="#333" stroke-width="1" stroke-linecap="butt"/><line x1="868.8" y1="1166.4" x2="868.8" y2="1168.4" stroke="#333" stroke-width="1" stroke-linecap="butt"/><line x1="873.8" y1="1166.4" x2="873.8" y2="1168.4" stroke="#333" stroke-width="1" stroke-linecap="butt"/><line x1="877.6" y1="1166.4" x2="877.6" y2="1168.4" stroke="#333" stroke-width="1" stroke-linecap="butt"/><line x1="880.8" y1="1166.4" x2="880.8" y2="1168.4" stroke="#333" stroke-width="1" stroke-linecap="butt"/><line x1="883.5" y1="1166.4" x2="883.5" y2="1168.4" stroke="#333" stroke-width="1" stroke-linecap="butt"/><line x1="885.8" y1="1166.4" x2="885.8" y2="1168.4" stroke="#333" stroke-width="1" stroke-linecap="butt"/><line x1="887.8" y1="1166.4" x2="887.8" y2="1168.4" stroke="#333" stroke-width="1" stroke-linecap="butt"/><line x1="901.7" y1="1166.4" x2="901.7" y2="1168.4" stroke="#333" stroke-width="1" stroke-linecap="butt"/><line x1="908.8" y1="1166.4" x2="908.8" y2="1168.4" stroke="#333" stroke-width="1" stroke-linecap="butt"/><line x1="913.8" y1="1166.4" x2="913.8" y2="1168.4" stroke="#333" stroke-width="1" stroke-linecap="butt"/><line x1="917.7" y1="1166.4" x2="917.7" y2="1168.4" stroke="#333" stroke-width="1" stroke-linecap="butt"/><line x1="920.9" y1="1166.4" x2="920.9" y2="1168.4" stroke="#333" stroke-width="1" stroke-linecap="butt"/><line x1="923.6" y1="1166.4" x2="923.6" y2="1168.4" stroke="#333" stroke-width="1" stroke-linecap="butt"/><line x1="925.9" y1="1166.4" x2="925.9" y2="1168.4" stroke="#333" stroke-width="1" stroke-linecap="butt"/><line x1="928" y1="1166.4" x2="928" y2="1168.4" stroke="#333" stroke-width="1" stroke-linecap="butt"/><line x1="772.1" y1="1166.4" x2="772.1" y2="1168.4" stroke="#333" stroke-width="1" stroke-linecap="butt"/><line x1="774.6" y1="1166.4" x2="774.6" y2="1168.4" stroke="#333" stroke-width="1" stroke-linecap="butt"/><line x1="777.6" y1="1166.4" x2="777.6" y2="1168.4" stroke="#333" stroke-width="1" stroke-linecap="butt"/><line x1="780.1" y1="1166.4" x2="780.1" y2="1168.4" stroke="#333" stroke-width="1" stroke-linecap="butt"/><line x1="784.1" y1="1166.4" x2="784.1" y2="1168.4" stroke="#333" stroke-width="1" stroke-linecap="butt"/><line x1="788.1" y1="1166.4" x2="788.1" y2="1168.4" stroke="#333" stroke-width="1" stroke-linecap="butt"/><line x1="792.1" y1="1166.4" x2="792.1" y2="1168.4" stroke="#333" stroke-width="1" stroke-linecap="butt"/><line x1="776.1" y1="1166.4" x2="776.1" y2="1170.4" stroke="#222" stroke-width="1.2" stroke-linecap="butt"/><text x="776.1" y="1194" font-size="18.5" text-anchor="middle">0</text><line x1="809.3" y1="1166.4" x2="809.3" y2="1170.4" stroke="#222" stroke-width="1.2" stroke-linecap="butt"/><text x="808" y="1194" font-size="18.5" text-anchor="middle">10<tspan dy="-4.8" font-size="13.5">2</tspan></text><line x1="849.9" y1="1166.4" x2="849.9" y2="1170.4" stroke="#222" stroke-width="1.2" stroke-linecap="butt"/><text x="848.6" y="1194" font-size="18.5" text-anchor="middle">10<tspan dy="-4.8" font-size="13.5">3</tspan></text><line x1="889.6" y1="1166.4" x2="889.6" y2="1170.4" stroke="#222" stroke-width="1.2" stroke-linecap="butt"/><text x="888.3" y="1194" font-size="18.5" text-anchor="middle">10<tspan dy="-4.8" font-size="13.5">4</tspan></text><line x1="929.8" y1="1166.4" x2="929.8" y2="1170.4" stroke="#222" stroke-width="1.2" stroke-linecap="butt"/><text x="928.5" y="1194" font-size="18.5" text-anchor="middle">10<tspan dy="-4.8" font-size="13.5">5</tspan></text><line x1="768.3" y1="989.4" x2="768.3" y2="1167.2" stroke="#262626" stroke-width="1.7" stroke-linecap="butt"/><line x1="767.5" y1="1166.4" x2="945.9" y2="1166.4" stroke="#262626" stroke-width="1.7" stroke-linecap="butt"/><path d="M31.2,310.3 L31.2,257.4 L35.2,257.4 L35.2,306.3 L85.2,306.3 L85.2,310.3Z" fill="#000"/><path d="M33.2,245.4 L26.8,257.9 L39.6,257.9Z" fill="#000"/><path d="M97.2,308.3 L84.7,301.9 L84.7,314.7Z" fill="#000"/><text transform="translate(20.6,284.4) rotate(-90)" font-size="18" text-anchor="middle">CXCR5</text><text x="57.6" y="334.6" font-size="17" text-anchor="middle" fill="#000" font-weight="normal" font-style="normal" >PD-1</text><g><path fill="#969696" d="M141.8 231.2h1v1h-1zM99.5 192.5h1v1h-1zM99.5 198.2h1v1h-1zM119.4 190.6h1v1h-1zM123.6 243h1v1h-1zM87.8 251.5h1v1h-1zM78.7 234.7h1v1h-1zM75.9 210.3h1v1h-1zM142.9 231h1v1h-1zM122.8 202.4h1v1h-1zM81.9 243.4h1v1h-1zM136.7 201.1h1v1h-1zM134.5 201.9h1v1h-1zM78.1 245.6h1v1h-1zM128.7 236.4h1v1h-1zM76.3 215.3h1v1h-1zM126.2 202.6h1v1h-1z"/><path fill="#c8c8c8" d="M79.7 229.9h1v1h-1zM138.3 228.1h1v1h-1zM146.7 210.5h1v1h-1zM103.9 260.3h1v1h-1zM83.6 254.3h1v1h-1zM116.4 250h1v1h-1zM97.2 199.8h1v1h-1zM82.5 211.8h1v1h-1zM82.8 242.2h1v1h-1zM126.2 239.3h1v1h-1zM110.5 190.4h1v1h-1zM129 196.1h1v1h-1zM121.7 198.3h1v1h-1zM93.6 194.3h1v1h-1zM120.7 198.3h1v1h-1zM95.7 199.5h1v1h-1z"/><path fill="#aaaaaa" d="M115.3 248.5h1v1h-1zM128.5 202.5h1v1h-1zM150 208.7h1v1h-1zM77.9 224.9h1v1h-1zM80.1 232.4h1v1h-1zM142.7 205.7h1v1h-1zM143.1 207.7h1v1h-1zM134.6 236.1h1v1h-1zM144.7 204.7h1v1h-1zM149.6 206.8h1v1h-1zM79.9 206.6h1v1h-1zM119 190.4h1v1h-1zM83.9 247.5h1v1h-1zM120.1 198.8h1v1h-1zM83.3 209.8h1v1h-1zM134.3 230.9h1v1h-1zM100.6 258.9h1v1h-1zM131.5 200.8h1v1h-1zM114.5 188.8h1v1h-1z"/><path fill="#b9b9b9" d="M143.2 222.3h1v1h-1zM138.1 201.8h1v1h-1zM83.2 248.5h1v1h-1zM104.9 193.6h1v1h-1zM88.8 249.7h1v1h-1zM81.4 246.8h1v1h-1zM89.4 252.3h1v1h-1zM104.4 196.5h1v1h-1zM122.1 195.7h1v1h-1zM145.7 212.5h1v1h-1zM76.6 223.9h1v1h-1zM123.5 199.2h1v1h-1zM82.6 211.8h1v1h-1zM122.9 198.2h1v1h-1zM110.1 190.5h1v1h-1zM123.6 201.1h1v1h-1zM130.7 237.3h1v1h-1zM78.1 245.2h1v1h-1z"/><path d="M80.8,224.5C81.2,220.9 82.2,215.3 84,211.9C85.8,208.5 88.6,206.4 91.6,204.3C94.5,202.2 98.3,200.7 101.7,199.2C105.1,197.7 109.6,195.7 111.9,195.4C114.2,195.1 114.6,196.2 115.7,197.3C116.8,198.4 117.5,200.6 118.8,201.7C120.1,202.8 121.3,203.3 123.3,203.6C125.3,203.8 128.4,203.1 130.9,203.2C133.4,203.3 136.4,203.5 138.5,204.3C140.6,205.1 142.4,206.6 143.6,208.1C144.8,209.6 145.7,211 145.5,213.1C145.3,215.2 143.4,218.4 142.3,220.7C141.2,223 140.8,225.2 139.1,227.1C137.4,229 134.1,230.5 132.2,232.2C130.3,233.9 129.2,235.3 127.7,237.2C126.2,239.1 125.7,241.5 123.3,243.6C120.9,245.7 116.9,248.2 113.1,249.9C109.3,251.6 104.2,253.5 100.4,253.7C96.6,253.9 92.8,252.7 90.3,251.2C87.8,249.7 86.7,247.8 85.2,244.8C83.7,241.8 82.1,236.8 81.4,233.4C80.7,230 80.4,228.1 80.8,224.5Z" fill="#000" stroke="#000" stroke-width="3.6" stroke-linejoin="round" filter="url(#rough)"/><use href="#p1" transform="matrix(0.970 0 0 0.970 3.1 6.7)" fill="#b9b9b9"/><use href="#p1" transform="matrix(0.937 0 0 0.937 6.5 14.1)" fill="#9d9d9d"/><use href="#p1" transform="matrix(0.905 0 0 0.905 9.9 21.4)" fill="#8e8e8e"/><use href="#p1" transform="matrix(0.872 0 0 0.872 13.2 28.7)" fill="#828282"/><use href="#p1" transform="matrix(0.839 0 0 0.839 16.6 36)" fill="#787878"/><use href="#p1" transform="matrix(0.807 0 0 0.807 20 43.4)" fill="#6f6f6f"/><use href="#p1" transform="matrix(0.774 0 0 0.774 23.4 50.7)" fill="#666666"/><use href="#p1" transform="matrix(0.742 0 0 0.742 26.8 58)" fill="#5e5e5e"/><use href="#p1" transform="matrix(0.709 0 0 0.709 30.2 65.3)" fill="#575757"/><use href="#p1" transform="matrix(0.676 0 0 0.676 33.5 72.7)" fill="#505050"/><use href="#p1" transform="matrix(0.644 0 0 0.644 36.9 80)" fill="#494949"/><use href="#p1" transform="matrix(0.611 0 0 0.611 40.3 87.3)" fill="#424242"/><use href="#p1" transform="matrix(0.578 0 0 0.578 43.7 94.6)" fill="#3c3c3c"/><use href="#p1" transform="matrix(0.546 0 0 0.546 47.1 102)" fill="#363636"/><use href="#p1" transform="matrix(0.513 0 0 0.513 50.4 109.3)" fill="#303030"/><use href="#p1" transform="matrix(0.481 0 0 0.481 53.8 116.6)" fill="#2a2a2a"/><use href="#p1" transform="matrix(0.448 0 0 0.448 57.2 123.9)" fill="#242424"/><use href="#p1" transform="matrix(0.415 0 0 0.415 60.6 131.3)" fill="#1f1f1f"/><use href="#p1" transform="matrix(0.383 0 0 0.383 64 138.6)" fill="#191919"/><use href="#p1" transform="matrix(0.350 0 0 0.350 67.3 145.9)" fill="#141414"/><g filter="url(#rough2)"><ellipse cx="103.5" cy="226" rx="13.7" ry="16.2" transform="rotate(0 103.5 226)" fill="url(#rg2)" stroke="#c4c4c4" stroke-width="1.3"/><ellipse cx="104.2" cy="225.3" rx="10.2" ry="10.9" transform="rotate(0 104.2 225.3)" fill="url(#rg3)" stroke="#c4c4c4" stroke-width="1.3"/><ellipse cx="104.2" cy="224" rx="7" ry="6.6" transform="rotate(0 104.2 224)" fill="url(#rg4)" stroke="#c4c4c4" stroke-width="1.3"/></g><ellipse cx="105" cy="223" rx="3.5" ry="3.5" fill="#000" opacity="0.85"/></g><ellipse cx="141.7" cy="213.1" rx="23.5" ry="25" fill="none" stroke="#6a6ae6" stroke-width="1.05" style="mix-blend-mode:multiply"/><text x="167.8" y="189.2" font-size="18" text-anchor="start" fill="#000" font-weight="normal" font-style="normal" >7.39</text><g><path fill="#c8c8c8" d="M348.3 197.1h1v1h-1zM361.2 239.3h1v1h-1zM314 240.5h1v1h-1zM355.7 251.5h1v1h-1zM366.3 205.6h1v1h-1zM370 236.7h1v1h-1zM370.6 204.5h1v1h-1zM321.9 205.8h1v1h-1zM370.3 238h1v1h-1zM333 256.1h1v1h-1zM366.9 236.3h1v1h-1zM358 247.1h1v1h-1z"/><path fill="#969696" d="M376.5 222.5h1v1h-1zM314.1 223.4h1v1h-1zM363.6 203.8h1v1h-1zM324.6 195.2h1v1h-1zM375.3 201.7h1v1h-1zM318.8 209.3h1v1h-1zM315.9 238h1v1h-1zM380.3 213.4h1v1h-1zM307.7 235.3h1v1h-1zM381.1 209.9h1v1h-1zM353 194.2h1v1h-1zM357 247.1h1v1h-1zM314.5 233.6h1v1h-1zM377.6 209.1h1v1h-1zM354.2 252h1v1h-1zM373.4 228.3h1v1h-1z"/><path fill="#aaaaaa" d="M373.7 206.8h1v1h-1zM317.9 205.4h1v1h-1zM365.2 235h1v1h-1zM311.4 239.1h1v1h-1zM349.3 189.8h1v1h-1zM334.9 188.6h1v1h-1zM320.8 207.1h1v1h-1zM360.8 240.1h1v1h-1zM368.2 230.6h1v1h-1zM370.2 229.2h1v1h-1zM382.6 213.8h1v1h-1zM316.9 216.5h1v1h-1zM361.4 238.5h1v1h-1zM331.3 256.4h1v1h-1zM372.7 201.7h1v1h-1zM322.8 249h1v1h-1zM361.4 239.3h1v1h-1zM309.3 236.7h1v1h-1zM369.6 230.6h1v1h-1zM347.9 248.6h1v1h-1zM333.5 254.5h1v1h-1zM368.9 230.2h1v1h-1zM348.7 190.5h1v1h-1zM346.6 247.8h1v1h-1zM377.8 209.7h1v1h-1z"/><path fill="#b9b9b9" d="M384.5 210.4h1v1h-1zM331.3 197.5h1v1h-1zM359.7 242.3h1v1h-1zM368.5 204.5h1v1h-1zM351 192.6h1v1h-1zM360.4 196.3h1v1h-1zM336.3 193.4h1v1h-1zM347.5 195.1h1v1h-1zM383 217.4h1v1h-1zM314.6 225.5h1v1h-1zM348.4 194.7h1v1h-1zM313.2 230.8h1v1h-1zM373.7 224h1v1h-1zM321.6 207.6h1v1h-1zM382.5 207.7h1v1h-1zM318.3 206h1v1h-1zM364.4 238.4h1v1h-1z"/><path d="M315.2,229.6C315.6,225.4 317.3,215.9 319,211.9C320.7,207.9 322.8,207.6 325.4,205.5C327.9,203.4 332.2,201.1 334.3,199.2C336.4,197.3 336.4,194.7 338.1,194.1C339.8,193.5 342.3,194.6 344.4,195.4C346.5,196.2 349,197.9 350.7,199.2C352.4,200.5 352.8,202.1 354.5,203C356.2,203.9 358.3,204.4 360.9,204.9C363.4,205.4 367.3,205.7 369.8,206.2C372.3,206.7 374.7,206.7 376.1,208.1C377.5,209.5 378,211.9 378,214.4C378,216.9 377.3,221 376.1,223.3C374.9,225.6 372.9,226.5 371,228.4C369.1,230.3 366.8,232.6 364.7,234.7C362.6,236.8 360.7,239.1 358.4,241C356.1,242.9 353.7,244.5 350.7,246.1C347.7,247.7 344,250 340.6,250.6C337.2,251.2 333.6,250.9 330.4,249.9C327.2,248.9 323.9,246.9 321.6,244.8C319.3,242.7 317.6,239.7 316.5,237.2C315.4,234.7 314.8,233.8 315.2,229.6Z" fill="#000" stroke="#000" stroke-width="3.6" stroke-linejoin="round" filter="url(#rough)"/><use href="#p5" transform="matrix(0.970 0 0 0.970 10.2 6.7)" fill="#b9b9b9"/><use href="#p5" transform="matrix(0.937 0 0 0.937 21.2 13.9)" fill="#9d9d9d"/><use href="#p5" transform="matrix(0.905 0 0 0.905 32.3 21.2)" fill="#8e8e8e"/><use href="#p5" transform="matrix(0.872 0 0 0.872 43.4 28.5)" fill="#828282"/><use href="#p5" transform="matrix(0.839 0 0 0.839 54.4 35.7)" fill="#787878"/><use href="#p5" transform="matrix(0.807 0 0 0.807 65.5 43)" fill="#6f6f6f"/><use href="#p5" transform="matrix(0.774 0 0 0.774 76.5 50.2)" fill="#666666"/><use href="#p5" transform="matrix(0.742 0 0 0.742 87.6 57.5)" fill="#5e5e5e"/><use href="#p5" transform="matrix(0.709 0 0 0.709 98.7 64.8)" fill="#575757"/><use href="#p5" transform="matrix(0.676 0 0 0.676 109.7 72)" fill="#505050"/><use href="#p5" transform="matrix(0.644 0 0 0.644 120.8 79.3)" fill="#494949"/><use href="#p5" transform="matrix(0.611 0 0 0.611 131.9 86.5)" fill="#424242"/><use href="#p5" transform="matrix(0.578 0 0 0.578 142.9 93.8)" fill="#3c3c3c"/><use href="#p5" transform="matrix(0.546 0 0 0.546 154 101.1)" fill="#363636"/><use href="#p5" transform="matrix(0.513 0 0 0.513 165 108.3)" fill="#303030"/><use href="#p5" transform="matrix(0.481 0 0 0.481 176.1 115.6)" fill="#2a2a2a"/><use href="#p5" transform="matrix(0.448 0 0 0.448 187.2 122.8)" fill="#242424"/><use href="#p5" transform="matrix(0.415 0 0 0.415 198.2 130.1)" fill="#1f1f1f"/><use href="#p5" transform="matrix(0.383 0 0 0.383 209.3 137.4)" fill="#191919"/><use href="#p5" transform="matrix(0.350 0 0 0.350 220.3 144.6)" fill="#141414"/><g filter="url(#rough2)"><ellipse cx="338.8" cy="224" rx="13.5" ry="16" transform="rotate(0 338.8 224)" fill="url(#rg6)" stroke="#c4c4c4" stroke-width="1.3"/><ellipse cx="339.2" cy="223.2" rx="10.2" ry="11.2" transform="rotate(0 339.2 223.2)" fill="url(#rg7)" stroke="#c4c4c4" stroke-width="1.3"/><ellipse cx="339.2" cy="223.3" rx="6.5" ry="7.1" transform="rotate(0 339.2 223.3)" fill="url(#rg8)" stroke="#c4c4c4" stroke-width="1.3"/></g><ellipse cx="339.8" cy="222.5" rx="3.5" ry="3.5" fill="#000" opacity="0.85"/></g><ellipse cx="375.5" cy="213" rx="23.5" ry="25.5" fill="none" stroke="#6a6ae6" stroke-width="1.05" style="mix-blend-mode:multiply"/><text x="400.8" y="189.3" font-size="18" text-anchor="start" fill="#000" font-weight="normal" font-style="normal" >8.64</text><g><path fill="#aaaaaa" d="M600 243.6h1v1h-1zM607.7 195.9h1v1h-1zM592 245.3h1v1h-1zM571.8 202.3h1v1h-1zM589.9 253.7h1v1h-1zM581.5 200.3h1v1h-1zM612.7 234.5h1v1h-1zM611.5 194.9h1v1h-1zM604.6 239h1v1h-1zM558.7 205.8h1v1h-1zM569.8 203.2h1v1h-1zM616.2 196.4h1v1h-1zM593.9 253.2h1v1h-1zM564.6 197.6h1v1h-1zM558 246.9h1v1h-1zM584.1 249.2h1v1h-1zM590.4 254.5h1v1h-1zM594.6 195.1h1v1h-1zM603.9 191h1v1h-1zM582.9 200h1v1h-1zM617.5 207.3h1v1h-1zM553.3 212.1h1v1h-1zM587.9 190.1h1v1h-1zM549.5 233h1v1h-1zM580.2 201.9h1v1h-1zM587.8 248h1v1h-1zM593 250.5h1v1h-1zM558 201.3h1v1h-1zM547.4 244.4h1v1h-1zM567.7 251.2h1v1h-1zM617.3 225.3h1v1h-1z"/><path fill="#969696" d="M623.6 200.9h1v1h-1zM568.7 196.3h1v1h-1zM570.1 253.1h1v1h-1zM608.9 236.1h1v1h-1zM618 221.9h1v1h-1zM547.6 231.4h1v1h-1zM615.9 228.2h1v1h-1zM611.4 235.6h1v1h-1zM594.6 194.1h1v1h-1zM542.8 221.2h1v1h-1zM619.7 207.3h1v1h-1zM609.3 197.2h1v1h-1zM621.2 200.5h1v1h-1zM550.8 215.7h1v1h-1zM618.7 220.4h1v1h-1zM614.5 201.5h1v1h-1zM600.5 242.5h1v1h-1zM581.9 194.3h1v1h-1zM575.5 256.1h1v1h-1zM587.3 250.4h1v1h-1zM547.9 231.2h1v1h-1zM616.9 222.3h1v1h-1zM554.5 244.6h1v1h-1zM590.1 196.5h1v1h-1zM582.7 197.2h1v1h-1zM593.3 248.6h1v1h-1zM618.4 229.2h1v1h-1zM613.6 194.9h1v1h-1zM547.9 228h1v1h-1zM546.2 213.7h1v1h-1zM582.8 195.7h1v1h-1z"/><path fill="#c8c8c8" d="M614.7 198.7h1v1h-1zM567.1 199.7h1v1h-1zM615 226.7h1v1h-1zM603 241.6h1v1h-1zM548.5 228.6h1v1h-1zM612.2 197.8h1v1h-1zM613.3 241h1v1h-1zM616.9 231.9h1v1h-1zM606 245.6h1v1h-1zM617.5 225h1v1h-1zM563 205.1h1v1h-1zM575.5 201.8h1v1h-1zM559.6 250.9h1v1h-1zM580 199h1v1h-1zM573.5 198.6h1v1h-1zM620.6 203.9h1v1h-1zM581.7 250.4h1v1h-1zM549.2 232.4h1v1h-1zM548.4 233.3h1v1h-1zM585.6 200.2h1v1h-1zM596.3 243.5h1v1h-1zM586 198.8h1v1h-1zM547.1 219.8h1v1h-1zM544.6 221.4h1v1h-1zM620.9 228.2h1v1h-1zM606 192.5h1v1h-1zM600.2 248.2h1v1h-1zM558.9 205.9h1v1h-1zM549.3 228.8h1v1h-1zM621.1 202.1h1v1h-1zM563.6 203.1h1v1h-1zM583.6 249.8h1v1h-1zM615.9 202.6h1v1h-1zM617.2 205.7h1v1h-1zM545.7 237.6h1v1h-1zM548 230.9h1v1h-1zM619.2 227.7h1v1h-1zM583.5 201.4h1v1h-1zM598 242.9h1v1h-1z"/><path fill="#b9b9b9" d="M556.4 206.9h1v1h-1zM618 220.1h1v1h-1zM619.5 212.7h1v1h-1zM559.2 247.4h1v1h-1zM552.1 214.7h1v1h-1zM544.3 239.8h1v1h-1zM608.9 238.6h1v1h-1zM613.2 234.7h1v1h-1zM581.8 199.5h1v1h-1zM605.9 192.3h1v1h-1zM594.6 191.9h1v1h-1zM546.9 224.3h1v1h-1zM617.9 220.2h1v1h-1zM594.9 193h1v1h-1zM555.5 210.9h1v1h-1zM566.9 195.7h1v1h-1zM550.3 217.3h1v1h-1zM566.6 257.6h1v1h-1zM601.1 194.3h1v1h-1zM608 192.4h1v1h-1zM572.5 195.7h1v1h-1zM578.9 198.4h1v1h-1zM612.7 230.9h1v1h-1zM614.2 199.6h1v1h-1zM567.3 199.9h1v1h-1zM544.3 226.3h1v1h-1zM610.3 234.9h1v1h-1zM545 235.6h1v1h-1zM617.7 207.1h1v1h-1z"/><path d="M550.7,228.3C550.7,225.7 550.9,223.3 551.5,220.9C552.1,218.6 553.1,216.2 554.4,214.2C555.8,212.3 557.6,210.5 559.6,209.1C561.6,207.6 563.9,206.3 566.3,205.4C568.6,204.4 571.5,203.6 573.7,203.1C575.9,202.7 578.1,202.8 579.6,202.8C581.1,202.8 581.7,203.3 582.6,203.1C583.4,203 583.6,202.5 584.8,201.7C586,200.8 588.1,198.9 590,198C591.8,197 593.7,196.4 595.9,196.1C598.1,195.9 600.8,196 603.3,196.5C605.8,196.9 608.6,197.6 610.7,198.7C612.8,199.8 614.6,201.3 615.9,203.1C617.1,205 617.7,207.5 618.1,209.8C618.5,212.1 618.3,214.7 618.1,217.2C617.9,219.7 617.4,222.4 616.6,224.6C615.9,226.8 614.9,228.6 613.7,230.5C612.4,232.5 610.9,235 609.2,236.5C607.5,237.9 605.3,238.4 603.3,239.4C601.3,240.4 599.3,241.3 597.4,242.4C595.4,243.5 593.7,245 591.5,246.1C589.2,247.2 586.5,248.3 584,249C581.6,249.8 579.2,250.3 576.6,250.5C574.1,250.8 571.1,250.9 568.5,250.5C565.9,250.1 563.4,249.5 561.1,248.3C558.8,247.1 556,245.1 554.4,243.1C552.8,241.1 552.1,238.9 551.5,236.5C550.9,234 550.7,230.9 550.7,228.3Z" fill="#000" stroke="#000" stroke-width="3.6" stroke-linejoin="round" filter="url(#rough)"/><use href="#p9" transform="matrix(0.970 0 0 0.970 17.5 6.7)" fill="#b9b9b9"/><use href="#p9" transform="matrix(0.937 0 0 0.937 36.6 13.9)" fill="#9d9d9d"/><use href="#p9" transform="matrix(0.905 0 0 0.905 55.6 21.1)" fill="#8e8e8e"/><use href="#p9" transform="matrix(0.872 0 0 0.872 74.7 28.4)" fill="#828282"/><use href="#p9" transform="matrix(0.839 0 0 0.839 93.7 35.6)" fill="#787878"/><use href="#p9" transform="matrix(0.807 0 0 0.807 112.8 42.9)" fill="#6f6f6f"/><use href="#p9" transform="matrix(0.774 0 0 0.774 131.9 50.1)" fill="#666666"/><use href="#p9" transform="matrix(0.742 0 0 0.742 150.9 57.4)" fill="#5e5e5e"/><use href="#p9" transform="matrix(0.709 0 0 0.709 170 64.6)" fill="#575757"/><use href="#p9" transform="matrix(0.676 0 0 0.676 189 71.9)" fill="#505050"/><use href="#p9" transform="matrix(0.644 0 0 0.644 208.1 79.1)" fill="#494949"/><use href="#p9" transform="matrix(0.611 0 0 0.611 227.1 86.3)" fill="#424242"/><use href="#p9" transform="matrix(0.578 0 0 0.578 246.2 93.6)" fill="#3c3c3c"/><use href="#p9" transform="matrix(0.546 0 0 0.546 265.3 100.8)" fill="#363636"/><use href="#p9" transform="matrix(0.513 0 0 0.513 284.3 108.1)" fill="#303030"/><use href="#p9" transform="matrix(0.481 0 0 0.481 303.4 115.3)" fill="#2a2a2a"/><use href="#p9" transform="matrix(0.448 0 0 0.448 322.4 122.6)" fill="#242424"/><use href="#p9" transform="matrix(0.415 0 0 0.415 341.5 129.8)" fill="#1f1f1f"/><use href="#p9" transform="matrix(0.383 0 0 0.383 360.5 137.1)" fill="#191919"/><use href="#p9" transform="matrix(0.350 0 0 0.350 379.6 144.3)" fill="#141414"/><ellipse cx="574.4" cy="225" rx="6" ry="6" fill="url(#sg10)"/><ellipse cx="597.4" cy="218.7" rx="4.5" ry="3.5" fill="url(#sg11)"/><g filter="url(#rough2)"><path d="M558.9,226.1C559,223.6 559.4,221.3 560.4,219.4C561.3,217.6 563.1,216.1 564.8,215C566.5,213.9 568.8,213.2 570.7,212.8C572.7,212.3 574.7,212.7 576.6,212.4C578.6,212.1 580.6,211.6 582.6,210.9C584.5,210.2 586.5,208.9 588.5,208.3C590.5,207.7 592.2,207.3 594.4,207.2C596.6,207.1 599.6,207.2 601.8,207.6C604,208 606.4,208.7 607.7,209.8C609.1,210.9 609.7,212.6 610,214.2C610.2,215.8 609.8,217.7 609.2,219.4C608.6,221.2 607.6,223.3 606.3,224.6C604.9,226 603,226.7 601.1,227.6C599.1,228.4 596.5,228.8 594.4,229.8C592.3,230.8 590.5,232.1 588.5,233.5C586.5,234.8 584.5,236.7 582.6,237.9C580.6,239.2 578.9,240.2 576.6,240.9C574.4,241.6 571.5,242.5 569.2,242.4C567,242.2 564.9,241.5 563.3,240.2C561.7,238.8 560.4,236.6 559.6,234.2C558.9,231.9 558.8,228.6 558.9,226.1Z" fill="url(#rg12)" stroke="#c4c4c4" stroke-width="1.3"/><path d="M562.2,226.8C562.3,224.6 563,221.8 564.1,220.2C565.1,218.6 566.7,217.9 568.5,217.2C570.4,216.5 572.9,216.5 575.2,216.1C577.4,215.7 579.9,215.7 581.8,215C583.8,214.3 585.2,212.8 587,212C588.9,211.2 590.7,210.5 592.9,210.2C595.2,209.8 598.4,209.5 600.3,209.8C602.3,210.1 603.9,210.8 604.8,212C605.6,213.3 605.9,215.5 605.5,217.2C605.1,218.9 603.9,221 602.6,222.4C601.2,223.7 599.2,224.5 597.4,225.3C595.5,226.2 593.4,226.6 591.5,227.6C589.5,228.6 587.5,230 585.5,231.3C583.6,232.5 581.6,234 579.6,235C577.6,236 575.7,236.8 573.7,237.2C571.7,237.6 569.4,237.8 567.8,237.2C566.1,236.6 564.6,235.2 563.7,233.5C562.8,231.8 562.2,229 562.2,226.8Z" fill="url(#rg13)" stroke="#c4c4c4" stroke-width="1.3"/><path d="M565.2,226.1C565.2,223.9 566,220.9 567,219.4C568.1,217.9 569.9,217.6 571.5,217.2C573.1,216.8 574.9,216.8 576.6,217.2C578.4,217.6 580.5,218.6 581.8,219.4C583.2,220.3 584.4,221.3 584.8,222.4C585.2,223.5 584.7,224.9 584,226.1C583.4,227.3 582.4,228.6 581.1,229.8C579.7,231 577.5,232.6 575.9,233.5C574.3,234.4 572.9,235.1 571.5,235C570,234.8 568.1,234.2 567,232.7C566,231.3 565.2,228.3 565.2,226.1Z" fill="url(#rg14)" stroke="#c4c4c4" stroke-width="1.3"/><path d="M589.2,216.5C590,215.1 592.1,214.2 593.7,213.5C595.3,212.8 597.2,212.4 598.9,212.4C600.5,212.4 602.4,212.7 603.3,213.5C604.2,214.3 604.7,216 604.4,217.2C604.2,218.4 603,219.9 601.8,220.9C600.6,221.9 599,222.6 597.4,223.1C595.8,223.6 593.5,224.1 592.2,223.9C590.8,223.6 589.7,222.9 589.2,221.6C588.7,220.4 588.5,217.8 589.2,216.5Z" fill="url(#rg15)" stroke="#c4c4c4" stroke-width="1.3"/></g></g><ellipse cx="608.2" cy="213.1" rx="23.6" ry="25.3" fill="none" stroke="#6a6ae6" stroke-width="1.05" style="mix-blend-mode:multiply"/><text x="637.1" y="189.2" font-size="18" text-anchor="start" fill="#d622d2" font-weight="normal" font-style="normal" >32.3</text><g><path fill="#c8c8c8" d="M794.7 203h1v1h-1zM802 200h1v1h-1zM799.9 201h1v1h-1zM834.7 199.7h1v1h-1zM824.4 195.3h1v1h-1zM789.4 204.7h1v1h-1zM829 250.1h1v1h-1zM798.2 200.5h1v1h-1zM833.8 200.4h1v1h-1zM807.3 254.6h1v1h-1zM795.8 259.5h1v1h-1zM806.6 251.7h1v1h-1zM795.5 259.5h1v1h-1zM840.6 198.6h1v1h-1zM773.4 233.1h1v1h-1zM779 246.8h1v1h-1zM840.3 198.2h1v1h-1zM779.6 239.3h1v1h-1z"/><path fill="#aaaaaa" d="M850.9 221.3h1v1h-1zM777.7 214.3h1v1h-1zM780.6 252.5h1v1h-1zM811.9 196.7h1v1h-1zM803.4 252.4h1v1h-1zM839.4 243.9h1v1h-1zM776.2 226.8h1v1h-1zM803.7 199.7h1v1h-1zM831.8 200.3h1v1h-1zM818.7 195.7h1v1h-1zM795.9 198.7h1v1h-1zM790.2 206.8h1v1h-1zM855.2 216.2h1v1h-1z"/><path fill="#969696" d="M781.1 207.4h1v1h-1zM774.6 221.1h1v1h-1zM847.8 203.1h1v1h-1zM778 234.8h1v1h-1zM840 234.1h1v1h-1zM851.5 210.9h1v1h-1zM781.8 217.5h1v1h-1zM835.9 244.7h1v1h-1zM785.7 249.6h1v1h-1zM854.6 204.2h1v1h-1zM800.9 194.4h1v1h-1zM848.9 204h1v1h-1zM781.2 247.8h1v1h-1zM856.8 216.5h1v1h-1zM786.3 249.3h1v1h-1zM847.9 234.1h1v1h-1zM816.3 253.4h1v1h-1zM811 194h1v1h-1zM790.1 206.8h1v1h-1zM774.1 218.8h1v1h-1zM828.8 201.1h1v1h-1z"/><path fill="#b9b9b9" d="M809.2 199h1v1h-1zM779.5 211.1h1v1h-1zM800.4 197.7h1v1h-1zM789.7 253.6h1v1h-1zM798.7 257.9h1v1h-1zM831.5 197.5h1v1h-1zM830.4 199.4h1v1h-1zM780.3 224.6h1v1h-1zM839.5 235.2h1v1h-1zM781.7 211.2h1v1h-1zM826.5 244.6h1v1h-1zM818 254.4h1v1h-1zM781 208.4h1v1h-1zM857.5 206.2h1v1h-1zM793.7 204.9h1v1h-1zM798.5 252.2h1v1h-1zM841.4 200.5h1v1h-1zM778.7 221.9h1v1h-1z"/><path d="M780.4,229.2C780.6,225.5 781.6,220.8 783.3,217.4C785,214 788,210.8 790.7,208.5C793.4,206.2 796.6,204.7 799.6,203.3C802.6,201.9 805.5,200.4 808.5,200.3C811.5,200.2 814.4,202.1 817.4,202.6C820.4,203.1 822.8,203.4 826.2,203.3C829.7,203.2 834.6,201.8 838.1,201.8C841.6,201.8 844.9,202.2 847,203.3C849.1,204.4 850.1,206.2 850.7,208.5C851.3,210.8 851.3,214.5 850.7,217.4C850.1,220.3 848.6,223.5 847,226.2C845.4,228.9 843.5,231.1 841,233.6C838.5,236.1 835.2,238.8 832.2,241C829.2,243.2 827,245.3 823.3,247C819.6,248.7 814.7,250.4 810,251.4C805.3,252.4 799.2,253.4 795.2,252.9C791.2,252.4 788.5,250.6 786.3,248.4C784.1,246.2 782.8,242.8 781.8,239.6C780.8,236.4 780.1,232.9 780.4,229.2Z" fill="#000" stroke="#000" stroke-width="3.6" stroke-linejoin="round" filter="url(#rough)"/><use href="#p16" transform="matrix(0.970 0 0 0.970 24.2 6.7)" fill="#b9b9b9"/><use href="#p16" transform="matrix(0.937 0 0 0.937 50.6 14)" fill="#9d9d9d"/><use href="#p16" transform="matrix(0.905 0 0 0.905 77 21.3)" fill="#8e8e8e"/><use href="#p16" transform="matrix(0.872 0 0 0.872 103.3 28.6)" fill="#828282"/><use href="#p16" transform="matrix(0.839 0 0 0.839 129.7 36)" fill="#787878"/><use href="#p16" transform="matrix(0.807 0 0 0.807 156.1 43.3)" fill="#6f6f6f"/><use href="#p16" transform="matrix(0.774 0 0 0.774 182.4 50.6)" fill="#666666"/><use href="#p16" transform="matrix(0.742 0 0 0.742 208.8 57.9)" fill="#5e5e5e"/><use href="#p16" transform="matrix(0.709 0 0 0.709 235.2 65.2)" fill="#575757"/><use href="#p16" transform="matrix(0.676 0 0 0.676 261.5 72.5)" fill="#505050"/><use href="#p16" transform="matrix(0.644 0 0 0.644 287.9 79.8)" fill="#494949"/><use href="#p16" transform="matrix(0.611 0 0 0.611 314.3 87.1)" fill="#424242"/><use href="#p16" transform="matrix(0.578 0 0 0.578 340.6 94.4)" fill="#3c3c3c"/><use href="#p16" transform="matrix(0.546 0 0 0.546 367 101.7)" fill="#363636"/><use href="#p16" transform="matrix(0.513 0 0 0.513 393.4 109.1)" fill="#303030"/><use href="#p16" transform="matrix(0.481 0 0 0.481 419.7 116.4)" fill="#2a2a2a"/><use href="#p16" transform="matrix(0.448 0 0 0.448 446.1 123.7)" fill="#242424"/><use href="#p16" transform="matrix(0.415 0 0 0.415 472.5 131)" fill="#1f1f1f"/><use href="#p16" transform="matrix(0.383 0 0 0.383 498.8 138.3)" fill="#191919"/><use href="#p16" transform="matrix(0.350 0 0 0.350 525.2 145.6)" fill="#141414"/><ellipse cx="835.5" cy="219" rx="13" ry="12" fill="url(#sg17)"/><g filter="url(#rough2)"><path d="M789.1,228.3C789.1,225.9 789.5,222.6 790.3,220.4C791.2,218.1 792.6,216.3 794.3,214.8C796,213.3 798.2,212 800.6,211.3C803,210.5 806,210.1 808.5,210.1C811.1,210 813.3,210.2 815.7,210.9C818.1,211.5 820.8,213 822.8,214C824.8,215.1 826.6,216.2 827.6,217.2C828.5,218.2 829,219.3 828.5,220C828.1,220.7 826,220.6 824.8,221.6C823.6,222.5 822.4,224 821.2,225.5C820.1,227.1 819.4,228.9 818.1,230.7C816.7,232.5 815.2,234.5 813.3,236.2C811.5,238 809.1,239.9 807,241C804.8,242.1 802.7,242.7 800.6,242.6C798.5,242.4 796,241.5 794.3,240.2C792.6,238.9 791.2,236.6 790.3,234.7C789.5,232.7 789.1,230.7 789.1,228.3Z" fill="url(#rg18)" stroke="#c4c4c4" stroke-width="1.3"/><ellipse cx="805.6" cy="226.1" rx="11.7" ry="12.1" transform="rotate(0 805.6 226.1)" fill="url(#rg19)" stroke="#c4c4c4" stroke-width="1.3"/><ellipse cx="805.5" cy="225.7" rx="7.8" ry="9" transform="rotate(0 805.5 225.7)" fill="url(#rg20)" stroke="#c4c4c4" stroke-width="1.3"/></g><ellipse cx="804.6" cy="223.5" rx="3.8" ry="3.8" fill="#000" opacity="0.85"/></g><ellipse cx="840.6" cy="213.3" rx="24" ry="25.5" fill="none" stroke="#6a6ae6" stroke-width="1.05" style="mix-blend-mode:multiply"/><text x="865.5" y="189.2" font-size="18" text-anchor="start" fill="#000" font-weight="normal" font-style="normal" >16.3</text><path d="M31.2,583.4 L31.2,523.3 L35.2,523.3 L35.2,579.4 L84.9,579.4 L84.9,583.4Z" fill="#000"/><path d="M33.2,511.3 L26.8,523.8 L39.6,523.8Z" fill="#000"/><path d="M96.9,581.4 L84.4,575 L84.4,587.8Z" fill="#000"/><text transform="translate(20.4,550.4) rotate(-90)" font-size="18" text-anchor="middle">CXCR4</text><text x="56.7" y="602.7" font-size="17.5" text-anchor="middle" fill="#000" font-weight="normal" font-style="normal" >PD-1</text><g><path fill="#b9b9b9" d="M122.6 510.5h1v1h-1zM96.5 458h1v1h-1zM113.6 519.5h1v1h-1zM144.3 467.3h1v1h-1zM117.5 507.9h1v1h-1zM138.9 485.6h1v1h-1zM91.6 454.2h1v1h-1zM136.9 492.3h1v1h-1zM133.6 468.3h1v1h-1zM137.2 490.7h1v1h-1zM125.8 497.8h1v1h-1zM142 466.2h1v1h-1zM127.3 497.1h1v1h-1zM132.5 499.9h1v1h-1z"/><path fill="#aaaaaa" d="M140.4 467.3h1v1h-1zM147 478.8h1v1h-1zM128 469.1h1v1h-1zM138.4 462.5h1v1h-1zM88.6 464.3h1v1h-1zM141.4 467.8h1v1h-1zM76.2 498.9h1v1h-1zM89.1 521.8h1v1h-1zM115.7 453.5h1v1h-1zM140.1 489.8h1v1h-1zM114.2 456.1h1v1h-1zM136 464.3h1v1h-1zM85.2 469.2h1v1h-1zM102.1 528.2h1v1h-1zM84.2 460.3h1v1h-1zM142.4 463.5h1v1h-1zM144.9 461.5h1v1h-1zM108.8 523.2h1v1h-1zM78.1 471.6h1v1h-1zM115.6 456h1v1h-1zM99.5 453.1h1v1h-1zM107.1 450.8h1v1h-1zM141.4 477.6h1v1h-1z"/><path fill="#969696" d="M121.4 503.2h1v1h-1zM145 464.7h1v1h-1zM77.6 519.8h1v1h-1zM88.1 462.8h1v1h-1zM103.4 456.6h1v1h-1zM134.5 464.2h1v1h-1zM116.4 461.2h1v1h-1zM147.8 464.6h1v1h-1zM91.8 461.6h1v1h-1zM116.3 453.5h1v1h-1zM92 523.3h1v1h-1zM142.3 474.6h1v1h-1zM91.9 454.8h1v1h-1zM147.9 470h1v1h-1zM141.8 488.6h1v1h-1zM103.1 454.9h1v1h-1zM117 516.5h1v1h-1z"/><path fill="#c8c8c8" d="M134.1 489.7h1v1h-1zM135.8 466.3h1v1h-1zM126.7 467.1h1v1h-1zM130.8 496.2h1v1h-1zM94.1 453h1v1h-1zM114.1 512.2h1v1h-1zM125.6 498.1h1v1h-1zM121.2 466.4h1v1h-1zM77.7 516.4h1v1h-1zM144.2 470.7h1v1h-1zM131.6 491.4h1v1h-1zM80.1 482h1v1h-1zM129.2 467.6h1v1h-1zM118.1 457.1h1v1h-1zM125.7 468.5h1v1h-1zM140.2 462.6h1v1h-1z"/><path d="M78.9,502.2C78.7,497.3 79.4,489.3 80.4,484.4C81.4,479.5 82.8,476.1 84.8,472.6C86.8,469.2 89.2,466.1 92.2,463.7C95.2,461.3 99.1,459.4 102.6,458.5C106,457.6 110.4,457.6 112.9,458.5C115.4,459.4 115.9,461.8 117.4,463.7C118.9,465.6 119.8,468.4 121.8,469.6C123.8,470.8 127.2,471.6 129.2,471.1C131.2,470.6 132,467.5 133.6,466.6C135.2,465.7 137.3,465.1 138.8,465.9C140.3,466.6 142.1,468.8 142.5,471.1C142.9,473.5 142.2,477.1 141,480C139.8,482.9 137.3,486.1 135.1,488.8C132.9,491.5 130.4,493.5 127.7,496.2C125,498.9 121.3,502.1 118.8,505.1C116.3,508.1 115.6,511.4 112.9,514C110.2,516.6 106.3,519.5 102.6,520.7C98.9,521.9 94.2,522.5 90.7,521.4C87.2,520.3 83.8,517.2 81.8,514C79.8,510.8 79.1,507.1 78.9,502.2Z" fill="#000" stroke="#000" stroke-width="3.6" stroke-linejoin="round" filter="url(#rough)"/><use href="#p21" transform="matrix(0.970 0 0 0.970 3.1 14.7)" fill="#b9b9b9"/><use href="#p21" transform="matrix(0.937 0 0 0.937 6.5 30.6)" fill="#9d9d9d"/><use href="#p21" transform="matrix(0.905 0 0 0.905 9.8 46.6)" fill="#8e8e8e"/><use href="#p21" transform="matrix(0.872 0 0 0.872 13.2 62.5)" fill="#828282"/><use href="#p21" transform="matrix(0.839 0 0 0.839 16.5 78.5)" fill="#787878"/><use href="#p21" transform="matrix(0.807 0 0 0.807 19.9 94.5)" fill="#6f6f6f"/><use href="#p21" transform="matrix(0.774 0 0 0.774 23.3 110.4)" fill="#666666"/><use href="#p21" transform="matrix(0.742 0 0 0.742 26.6 126.4)" fill="#5e5e5e"/><use href="#p21" transform="matrix(0.709 0 0 0.709 30 142.3)" fill="#575757"/><use href="#p21" transform="matrix(0.676 0 0 0.676 33.3 158.3)" fill="#505050"/><use href="#p21" transform="matrix(0.644 0 0 0.644 36.7 174.2)" fill="#494949"/><use href="#p21" transform="matrix(0.611 0 0 0.611 40.1 190.2)" fill="#424242"/><use href="#p21" transform="matrix(0.578 0 0 0.578 43.4 206.2)" fill="#3c3c3c"/><use href="#p21" transform="matrix(0.546 0 0 0.546 46.8 222.1)" fill="#363636"/><use href="#p21" transform="matrix(0.513 0 0 0.513 50.1 238.1)" fill="#303030"/><use href="#p21" transform="matrix(0.481 0 0 0.481 53.5 254)" fill="#2a2a2a"/><use href="#p21" transform="matrix(0.448 0 0 0.448 56.9 270)" fill="#242424"/><use href="#p21" transform="matrix(0.415 0 0 0.415 60.2 285.9)" fill="#1f1f1f"/><use href="#p21" transform="matrix(0.383 0 0 0.383 63.6 301.9)" fill="#191919"/><use href="#p21" transform="matrix(0.350 0 0 0.350 67 317.9)" fill="#141414"/><g filter="url(#rough2)"><ellipse cx="103.2" cy="489.5" rx="15.2" ry="17.9" transform="rotate(-8 103.2 489.5)" fill="url(#rg22)" stroke="#c4c4c4" stroke-width="1.3"/><ellipse cx="102.6" cy="489.2" rx="10.8" ry="13" transform="rotate(-5 102.6 489.2)" fill="url(#rg23)" stroke="#c4c4c4" stroke-width="1.3"/><ellipse cx="102.1" cy="488.3" rx="7.1" ry="7.8" transform="rotate(0 102.1 488.3)" fill="url(#rg24)" stroke="#c4c4c4" stroke-width="1.3"/></g><ellipse cx="102.8" cy="487.6" rx="3.8" ry="3.8" fill="#000" opacity="0.85"/></g><ellipse cx="142" cy="468.5" rx="28.3" ry="24" fill="none" stroke="#6a6ae6" stroke-width="1.05" style="mix-blend-mode:multiply"/><text x="168.4" y="499.2" font-size="18" text-anchor="start" fill="#000" font-weight="normal" font-style="normal" >6.06</text><g><path fill="#c8c8c8" d="M318.1 516.8h1v1h-1zM326.8 456.3h1v1h-1zM361 496.1h1v1h-1zM336.2 525h1v1h-1zM349.5 516.9h1v1h-1zM332.8 518.8h1v1h-1zM341.2 517.6h1v1h-1zM315.8 471.7h1v1h-1zM343 519.7h1v1h-1zM353 510.7h1v1h-1zM355.8 462.1h1v1h-1zM366.7 460h1v1h-1zM354.2 452.6h1v1h-1zM361.4 463.4h1v1h-1zM356.1 459.7h1v1h-1z"/><path fill="#969696" d="M330.5 457.7h1v1h-1zM365.6 492.2h1v1h-1zM351.4 457.8h1v1h-1zM313 505.4h1v1h-1zM377.4 484.1h1v1h-1zM371.6 462.5h1v1h-1zM331.1 524.6h1v1h-1zM367.5 488.9h1v1h-1zM341 514.4h1v1h-1zM368.2 462.2h1v1h-1zM378.5 468.3h1v1h-1zM380.7 464.5h1v1h-1zM365.2 494.2h1v1h-1zM370.3 463.4h1v1h-1zM309.6 511.2h1v1h-1zM376.7 461.5h1v1h-1zM378.2 464.4h1v1h-1zM353.4 502.7h1v1h-1zM309.5 512.3h1v1h-1zM379.3 463.8h1v1h-1zM348.5 456.6h1v1h-1zM354.6 502h1v1h-1zM323.6 518.2h1v1h-1z"/><path fill="#aaaaaa" d="M375.9 459.2h1v1h-1zM359.7 463.5h1v1h-1zM357.5 465.1h1v1h-1zM367.1 462.5h1v1h-1zM341.2 456.8h1v1h-1zM377.6 481.6h1v1h-1zM373.3 465.2h1v1h-1zM321.9 466.2h1v1h-1zM366.1 462.7h1v1h-1zM366.5 465.1h1v1h-1zM320 520.7h1v1h-1zM374.9 486.8h1v1h-1zM365.3 464.5h1v1h-1zM354.2 454.9h1v1h-1zM337.7 518.7h1v1h-1zM318 523.3h1v1h-1zM363.9 463.1h1v1h-1zM379.1 472.7h1v1h-1zM320.2 523.8h1v1h-1z"/><path fill="#b9b9b9" d="M367.2 489.1h1v1h-1zM365.7 489.2h1v1h-1zM369 464.7h1v1h-1zM367.3 460.9h1v1h-1zM377.9 468.1h1v1h-1zM342.1 520h1v1h-1zM311.4 484.4h1v1h-1zM335.9 519.5h1v1h-1zM339.8 517.7h1v1h-1zM343.9 513h1v1h-1zM332.7 457h1v1h-1zM349.5 457.1h1v1h-1zM325.9 462.5h1v1h-1z"/><path d="M313.9,502.2C313.9,498.3 314.4,491.8 315.4,487.4C316.4,482.9 317.8,479.2 319.8,475.5C321.8,471.8 324.7,468 327.2,465.2C329.7,462.4 331.2,459.9 334.6,458.5C338.1,457.1 345.2,456.6 347.9,457C350.6,457.4 349.4,459.2 350.9,460.7C352.4,462.2 354.6,464.9 356.8,465.9C359,466.9 362,467 364.2,466.6C366.4,466.2 368.1,463.6 370.1,463.7C372.1,463.8 375,465.4 376,467.4C377,469.4 376.6,472.9 376,475.5C375.4,478.1 373.8,480.7 372.3,482.9C370.8,485.1 369.1,486.8 367.2,488.8C365.3,490.8 363.4,492.6 361.2,494.8C359,497 356.3,499.5 353.8,502.2C351.3,504.9 348.9,508.5 346.4,511C343.9,513.5 342.2,515.8 339,517C335.8,518.2 330.4,518.3 327.2,518.4C324,518.5 321.8,518.9 319.8,517.7C317.8,516.5 316.4,513.6 315.4,511C314.4,508.4 313.9,506.1 313.9,502.2Z" fill="#000" stroke="#000" stroke-width="3.6" stroke-linejoin="round" filter="url(#rough)"/><use href="#p25" transform="matrix(0.970 0 0 0.970 10.1 14.6)" fill="#b9b9b9"/><use href="#p25" transform="matrix(0.937 0 0 0.937 21.2 30.4)" fill="#9d9d9d"/><use href="#p25" transform="matrix(0.905 0 0 0.905 32.2 46.3)" fill="#8e8e8e"/><use href="#p25" transform="matrix(0.872 0 0 0.872 43.2 62.2)" fill="#828282"/><use href="#p25" transform="matrix(0.839 0 0 0.839 54.3 78)" fill="#787878"/><use href="#p25" transform="matrix(0.807 0 0 0.807 65.3 93.9)" fill="#6f6f6f"/><use href="#p25" transform="matrix(0.774 0 0 0.774 76.3 109.7)" fill="#666666"/><use href="#p25" transform="matrix(0.742 0 0 0.742 87.3 125.6)" fill="#5e5e5e"/><use href="#p25" transform="matrix(0.709 0 0 0.709 98.4 141.5)" fill="#575757"/><use href="#p25" transform="matrix(0.676 0 0 0.676 109.4 157.3)" fill="#505050"/><use href="#p25" transform="matrix(0.644 0 0 0.644 120.4 173.2)" fill="#494949"/><use href="#p25" transform="matrix(0.611 0 0 0.611 131.5 189)" fill="#424242"/><use href="#p25" transform="matrix(0.578 0 0 0.578 142.5 204.9)" fill="#3c3c3c"/><use href="#p25" transform="matrix(0.546 0 0 0.546 153.5 220.7)" fill="#363636"/><use href="#p25" transform="matrix(0.513 0 0 0.513 164.6 236.6)" fill="#303030"/><use href="#p25" transform="matrix(0.481 0 0 0.481 175.6 252.5)" fill="#2a2a2a"/><use href="#p25" transform="matrix(0.448 0 0 0.448 186.6 268.3)" fill="#242424"/><use href="#p25" transform="matrix(0.415 0 0 0.415 197.6 284.2)" fill="#1f1f1f"/><use href="#p25" transform="matrix(0.383 0 0 0.383 208.7 300)" fill="#191919"/><use href="#p25" transform="matrix(0.350 0 0 0.350 219.7 315.9)" fill="#141414"/><g filter="url(#rough2)"><ellipse cx="339.1" cy="486" rx="16" ry="17.8" transform="rotate(-5 339.1 486)" fill="url(#rg26)" stroke="#c4c4c4" stroke-width="1.3"/><ellipse cx="338" cy="485.4" rx="11.3" ry="12.6" transform="rotate(-5 338 485.4)" fill="url(#rg27)" stroke="#c4c4c4" stroke-width="1.3"/><ellipse cx="337.4" cy="485.8" rx="7" ry="7.9" transform="rotate(0 337.4 485.8)" fill="url(#rg28)" stroke="#c4c4c4" stroke-width="1.3"/></g><ellipse cx="337.9" cy="485.1" rx="3.8" ry="3.8" fill="#000" opacity="0.85"/></g><ellipse cx="376" cy="468.8" rx="27.4" ry="23.7" fill="none" stroke="#6a6ae6" stroke-width="1.05" style="mix-blend-mode:multiply"/><text x="401.9" y="499.5" font-size="18" text-anchor="start" fill="#000" font-weight="normal" font-style="normal" >7.52</text><g><path fill="#969696" d="M617.2 446.4h1v1h-1zM580.6 508h1v1h-1zM544.3 497.8h1v1h-1zM611.7 449.9h1v1h-1zM549.5 470.3h1v1h-1zM554.6 474.8h1v1h-1zM611.3 446.1h1v1h-1zM579.5 512h1v1h-1zM614.8 451.6h1v1h-1zM556.5 521.6h1v1h-1zM564.6 455.1h1v1h-1zM561.9 466.3h1v1h-1zM618.1 466.8h1v1h-1zM561.1 461.6h1v1h-1zM548.5 507.8h1v1h-1zM607.3 493.8h1v1h-1zM613.7 446.1h1v1h-1zM546.9 476h1v1h-1zM553.2 520.2h1v1h-1zM600.9 497.4h1v1h-1zM621.3 452.7h1v1h-1zM596.5 449h1v1h-1zM602.4 499.9h1v1h-1zM600.2 501.2h1v1h-1zM616.5 471.5h1v1h-1zM547.3 501.7h1v1h-1zM584.9 456h1v1h-1zM563.7 521.1h1v1h-1zM548.6 511.4h1v1h-1zM598 495.2h1v1h-1zM618.2 461.6h1v1h-1zM600.1 498.1h1v1h-1zM577.8 510.7h1v1h-1zM563.3 457.4h1v1h-1zM613.1 480.7h1v1h-1zM553.2 475.5h1v1h-1z"/><path fill="#aaaaaa" d="M585.4 508.1h1v1h-1zM615.3 446.7h1v1h-1zM565.7 516.6h1v1h-1zM615.4 489.6h1v1h-1zM579.9 456.2h1v1h-1zM585.6 506.7h1v1h-1zM616.6 451.9h1v1h-1zM571.1 459h1v1h-1zM598.9 448.6h1v1h-1zM558.1 520.4h1v1h-1zM614.8 454.1h1v1h-1zM574.9 451.8h1v1h-1zM546.8 513h1v1h-1zM556.8 521h1v1h-1zM548.6 486.6h1v1h-1zM569.7 460.2h1v1h-1zM552.6 516.9h1v1h-1zM590.6 500.5h1v1h-1zM609.4 449.7h1v1h-1zM550.7 479.5h1v1h-1zM560 465.6h1v1h-1zM554.2 514.8h1v1h-1zM546.8 502.2h1v1h-1zM616.9 480.8h1v1h-1zM582.2 456h1v1h-1zM576 509.9h1v1h-1zM566.8 515.1h1v1h-1zM579.6 455.7h1v1h-1zM558.1 462.9h1v1h-1zM584.4 511h1v1h-1zM565.3 461.6h1v1h-1zM583.5 455.3h1v1h-1zM557.1 518.3h1v1h-1zM544.4 489.5h1v1h-1zM589 501.1h1v1h-1zM552.1 477.3h1v1h-1z"/><path fill="#b9b9b9" d="M607.2 487.5h1v1h-1zM585.4 456.7h1v1h-1zM581.7 451.1h1v1h-1zM545.4 486.3h1v1h-1zM621.8 468.7h1v1h-1zM550.4 511.9h1v1h-1zM596.8 444.8h1v1h-1zM610.2 443.5h1v1h-1zM601 501.2h1v1h-1zM576.9 450.2h1v1h-1zM566.2 516.4h1v1h-1zM552 474.1h1v1h-1zM610.3 489.5h1v1h-1zM571.1 457.4h1v1h-1zM608.2 492h1v1h-1zM561.1 516.9h1v1h-1zM578.8 509.8h1v1h-1zM608.5 496.5h1v1h-1zM551.6 509.8h1v1h-1zM609.6 484.4h1v1h-1zM544.2 481.3h1v1h-1zM573.6 457.8h1v1h-1zM589.4 501.2h1v1h-1zM553.3 513.8h1v1h-1zM607.2 448.4h1v1h-1zM548.9 487h1v1h-1zM611.1 492.5h1v1h-1zM607.9 489.6h1v1h-1zM606.2 491.4h1v1h-1zM619.1 464.1h1v1h-1zM549.3 482.8h1v1h-1zM605.7 447.6h1v1h-1z"/><path fill="#c8c8c8" d="M616.9 448.4h1v1h-1zM593.8 448.4h1v1h-1zM565.9 460.4h1v1h-1zM572.6 456.9h1v1h-1zM578.6 452.3h1v1h-1zM614 449.6h1v1h-1zM588.3 452.8h1v1h-1zM548.8 498.4h1v1h-1zM548.8 504.2h1v1h-1zM570.3 513.7h1v1h-1zM612.8 451.9h1v1h-1zM616.4 476.9h1v1h-1zM545.9 511.6h1v1h-1zM577.6 455.9h1v1h-1zM604.8 491.4h1v1h-1zM549.2 483.7h1v1h-1zM589.3 505.2h1v1h-1zM613.1 481.5h1v1h-1zM616.4 471.1h1v1h-1zM549.2 483.9h1v1h-1zM623.5 459.7h1v1h-1zM559 521.2h1v1h-1zM592.3 446.6h1v1h-1zM619.8 478.4h1v1h-1zM549.8 483.8h1v1h-1zM617.1 468.6h1v1h-1z"/><path d="M549.1,493.7C549.3,490.9 549.5,487.3 550.3,484.5C551.1,481.7 552.6,479.2 554.1,476.9C555.6,474.6 557.4,472.9 559.4,470.8C561.4,468.8 564,466.6 566.3,464.7C568.5,462.8 570.8,460.4 573.1,459.4C575.4,458.4 578.1,458.7 580,458.7C581.9,458.7 582.8,460 584.5,459.4C586.3,458.8 588.3,456.2 590.6,454.8C592.9,453.5 595.7,451.8 598.2,451C600.8,450.3 603.4,450 605.8,450.3C608.2,450.5 610.9,451.3 612.7,452.6C614.5,453.8 615.7,455.7 616.5,457.9C617.3,460 617.4,462.8 617.3,465.5C617.1,468.2 616.6,471.1 615.7,473.9C614.8,476.7 613.4,479.7 611.9,482.2C610.4,484.8 608.5,487.1 606.6,489.1C604.7,491.1 602.7,492.9 600.5,494.4C598.4,495.9 596.1,496.8 593.7,498.2C591.3,499.6 588.6,501.1 586.1,502.8C583.5,504.4 581,506.3 578.4,508.1C575.9,509.9 573.4,512.1 570.8,513.4C568.3,514.8 565.6,516.2 563.2,516.5C560.8,516.7 558.3,516.2 556.4,515C554.5,513.7 552.9,511.2 551.8,508.9C550.7,506.6 550,503.8 549.5,501.3C549.1,498.7 549,496.5 549.1,493.7Z" fill="#000" stroke="#000" stroke-width="3.6" stroke-linejoin="round" filter="url(#rough)"/><use href="#p29" transform="matrix(0.970 0 0 0.970 17.5 14.4)" fill="#b9b9b9"/><use href="#p29" transform="matrix(0.937 0 0 0.937 36.5 30.1)" fill="#9d9d9d"/><use href="#p29" transform="matrix(0.905 0 0 0.905 55.5 45.8)" fill="#8e8e8e"/><use href="#p29" transform="matrix(0.872 0 0 0.872 74.6 61.5)" fill="#828282"/><use href="#p29" transform="matrix(0.839 0 0 0.839 93.6 77.2)" fill="#787878"/><use href="#p29" transform="matrix(0.807 0 0 0.807 112.6 92.9)" fill="#6f6f6f"/><use href="#p29" transform="matrix(0.774 0 0 0.774 131.6 108.6)" fill="#666666"/><use href="#p29" transform="matrix(0.742 0 0 0.742 150.7 124.3)" fill="#5e5e5e"/><use href="#p29" transform="matrix(0.709 0 0 0.709 169.7 140)" fill="#575757"/><use href="#p29" transform="matrix(0.676 0 0 0.676 188.7 155.7)" fill="#505050"/><use href="#p29" transform="matrix(0.644 0 0 0.644 207.7 171.4)" fill="#494949"/><use href="#p29" transform="matrix(0.611 0 0 0.611 226.8 187.1)" fill="#424242"/><use href="#p29" transform="matrix(0.578 0 0 0.578 245.8 202.8)" fill="#3c3c3c"/><use href="#p29" transform="matrix(0.546 0 0 0.546 264.8 218.5)" fill="#363636"/><use href="#p29" transform="matrix(0.513 0 0 0.513 283.8 234.2)" fill="#303030"/><use href="#p29" transform="matrix(0.481 0 0 0.481 302.9 249.9)" fill="#2a2a2a"/><use href="#p29" transform="matrix(0.448 0 0 0.448 321.9 265.6)" fill="#242424"/><use href="#p29" transform="matrix(0.415 0 0 0.415 340.9 281.3)" fill="#1f1f1f"/><use href="#p29" transform="matrix(0.383 0 0 0.383 359.9 297)" fill="#191919"/><use href="#p29" transform="matrix(0.350 0 0 0.350 378.9 312.7)" fill="#141414"/><ellipse cx="571" cy="487" rx="6" ry="5.5" fill="url(#sg30)"/><ellipse cx="596" cy="476" rx="5" ry="4" fill="url(#sg31)"/><g filter="url(#rough2)"><path d="M557.5,490.6C557.6,488.3 558.2,485.8 559.4,483.8C560.6,481.7 562.6,480 564.7,478.4C566.9,476.9 569.8,475.5 572.4,474.6C574.9,473.7 577.9,474 580,473.1C582,472.2 582.8,470.8 584.5,469.3C586.3,467.8 588.5,465.3 590.6,464C592.8,462.7 595.2,462 597.5,461.7C599.8,461.4 602.4,461.6 604.3,462.5C606.2,463.3 608.2,465.1 608.9,467C609.5,468.9 608.9,471.7 608.1,473.9C607.4,476 606,478.2 604.3,480C602.7,481.7 600.4,483.3 598.2,484.5C596.1,485.8 593.7,486.4 591.4,487.6C589.1,488.7 586.9,489.9 584.5,491.4C582.1,492.9 579.3,495.1 576.9,496.7C574.5,498.4 572.4,500.4 570.1,501.3C567.8,502.2 565.1,502.7 563.2,502C561.3,501.4 559.6,499.4 558.7,497.5C557.7,495.6 557.4,492.9 557.5,490.6Z" fill="url(#rg32)" stroke="#c4c4c4" stroke-width="1.3"/><path d="M560.9,487.6C561.3,485.8 562,483.1 563.2,481.5C564.5,479.8 566.5,478.6 568.5,477.7C570.6,476.8 573.4,476.7 575.4,476.2C577.4,475.7 578.9,475.7 580.7,474.6C582.5,473.6 584.1,471.5 586.1,470.1C588,468.7 590,467 592.1,466.3C594.3,465.5 597.1,465.3 599,465.5C600.9,465.8 602.7,466.5 603.6,467.8C604.4,469.1 604.7,471.3 604.3,473.1C603.9,474.9 602.8,476.9 601.3,478.4C599.8,480 597.2,481.1 595.2,482.2C593.2,483.4 591.3,484.1 589.1,485.3C586.9,486.4 584.5,487.7 582.2,489.1C580,490.5 577.6,492.4 575.4,493.7C573.2,494.9 571.2,496.3 569.3,496.7C567.4,497.1 565.3,496.7 564,495.9C562.6,495.2 561.8,493.5 561.3,492.1C560.8,490.7 560.6,489.3 560.9,487.6Z" fill="url(#rg33)" stroke="#c4c4c4" stroke-width="1.3"/><path d="M564.4,487.6C564.6,486.1 565.2,483.5 566.3,482.2C567.3,481 569.1,480.3 570.8,480C572.6,479.6 575.1,479.7 576.9,480C578.7,480.2 580.3,480.9 581.5,481.5C582.6,482.1 583.6,482.8 583.8,483.8C583.9,484.8 583.1,486.3 582.2,487.6C581.4,488.8 580,490.2 578.4,491.4C576.9,492.5 574.9,493.9 573.1,494.4C571.3,495 569.2,495.3 567.8,494.8C566.4,494.3 565.3,492.6 564.7,491.4C564.2,490.2 564.1,489.1 564.4,487.6Z" fill="url(#rg34)" stroke="#c4c4c4" stroke-width="1.3"/><path d="M586.8,474.6C587.4,473.2 589.1,471.2 590.6,470.1C592.1,468.9 594.2,468.2 595.9,467.8C597.7,467.4 599.9,467.4 601.3,467.8C602.7,468.2 603.9,468.9 604.3,470.1C604.7,471.2 604.2,473.2 603.6,474.6C602.9,476 601.9,477.4 600.5,478.4C599.1,479.5 597,480.2 595.2,480.7C593.4,481.2 591.3,481.9 589.9,481.5C588.5,481.1 587.3,479.6 586.8,478.4C586.3,477.3 586.2,476 586.8,474.6Z" fill="url(#rg35)" stroke="#c4c4c4" stroke-width="1.3"/></g></g><ellipse cx="609.8" cy="468.5" rx="27.7" ry="23.7" fill="none" stroke="#6a6ae6" stroke-width="1.05" style="mix-blend-mode:multiply"/><text x="637.1" y="498.7" font-size="18" text-anchor="start" fill="#d622d2" font-weight="normal" font-style="normal" >33.7</text><g><path fill="#c8c8c8" d="M822.3 459.3h1v1h-1zM841.6 459.3h1v1h-1zM837.4 455.9h1v1h-1zM797.6 459.1h1v1h-1zM852.6 461.2h1v1h-1zM853.8 475.8h1v1h-1zM778.4 509h1v1h-1zM845.2 459.3h1v1h-1zM819.7 457.5h1v1h-1zM852.3 457.2h1v1h-1zM850.3 471.3h1v1h-1zM794.8 462.5h1v1h-1zM813.5 453.1h1v1h-1zM827.3 458.6h1v1h-1zM848.3 488.2h1v1h-1zM822.8 461.1h1v1h-1zM786.5 465.3h1v1h-1z"/><path fill="#aaaaaa" d="M781.9 477.6h1v1h-1zM774 493.9h1v1h-1zM848.3 455.5h1v1h-1zM833.9 458h1v1h-1zM807.4 456.9h1v1h-1zM848.6 480.3h1v1h-1zM849.3 475.3h1v1h-1zM777.6 496.7h1v1h-1zM804.4 457.8h1v1h-1zM831.1 459.9h1v1h-1zM802.6 457.5h1v1h-1zM820.4 513.3h1v1h-1zM813.6 513.2h1v1h-1zM845.2 456.3h1v1h-1zM827.5 505.1h1v1h-1zM802.7 455.9h1v1h-1zM848.9 477.8h1v1h-1zM790.3 457.8h1v1h-1zM806.7 523.6h1v1h-1zM831.7 459.2h1v1h-1z"/><path fill="#b9b9b9" d="M799.1 458.5h1v1h-1zM845.3 460.5h1v1h-1zM834.7 456h1v1h-1zM826 503h1v1h-1zM847.3 487.4h1v1h-1zM775.6 489.6h1v1h-1zM779.7 476.9h1v1h-1zM820.7 460.9h1v1h-1zM778.5 501.2h1v1h-1zM851.5 480.4h1v1h-1zM777 501.7h1v1h-1zM778.5 498.6h1v1h-1zM814.7 453.9h1v1h-1zM854.4 462.7h1v1h-1zM829 458.6h1v1h-1zM790.6 457h1v1h-1zM830.6 457.1h1v1h-1zM789.5 467.4h1v1h-1zM810.5 519.4h1v1h-1zM804 452.5h1v1h-1zM779.6 503.6h1v1h-1zM774.3 488.8h1v1h-1z"/><path fill="#969696" d="M826.1 460.1h1v1h-1zM793.7 518.6h1v1h-1zM788.5 459.8h1v1h-1zM802.3 523.5h1v1h-1zM816.7 450.6h1v1h-1zM779.3 505.6h1v1h-1zM807.6 452.5h1v1h-1zM789.2 518h1v1h-1zM820.1 460.1h1v1h-1zM856.7 459.3h1v1h-1zM831.9 497.2h1v1h-1z"/><path d="M779.6,498.1C779.7,493.7 780.4,486.2 781.8,481.8C783.2,477.4 785.3,474.6 787.8,471.4C790.3,468.2 793.6,464.7 796.6,462.6C799.6,460.5 802.5,459.5 805.5,458.9C808.5,458.3 811.9,458.4 814.4,458.9C816.9,459.4 818.3,461.1 820.3,461.8C822.3,462.5 824.2,463.7 826.2,463.3C828.2,462.9 829.2,460.1 832.2,459.6C835.2,459.1 840.9,459.6 844,460.3C847.1,461 849.7,461.9 850.7,464C851.7,466.1 850.8,469.9 849.9,472.9C849,475.9 847.5,478.8 845.5,481.8C843.5,484.8 840.8,487.7 838.1,490.7C835.4,493.7 832.2,496.7 829.2,499.6C826.2,502.6 823.5,505.7 820.3,508.4C817.1,511.1 814,514.1 810,515.8C806,517.5 800.3,518.5 796.6,518.8C792.9,519 790.4,519 787.8,517.3C785.2,515.6 782.5,511.6 781.1,508.4C779.7,505.2 779.5,502.5 779.6,498.1Z" fill="#000" stroke="#000" stroke-width="3.6" stroke-linejoin="round" filter="url(#rough)"/><use href="#p36" transform="matrix(0.970 0 0 0.970 24.2 14.6)" fill="#b9b9b9"/><use href="#p36" transform="matrix(0.937 0 0 0.937 50.6 30.6)" fill="#9d9d9d"/><use href="#p36" transform="matrix(0.905 0 0 0.905 77 46.5)" fill="#8e8e8e"/><use href="#p36" transform="matrix(0.872 0 0 0.872 103.3 62.4)" fill="#828282"/><use href="#p36" transform="matrix(0.839 0 0 0.839 129.7 78.3)" fill="#787878"/><use href="#p36" transform="matrix(0.807 0 0 0.807 156.1 94.3)" fill="#6f6f6f"/><use href="#p36" transform="matrix(0.774 0 0 0.774 182.4 110.2)" fill="#666666"/><use href="#p36" transform="matrix(0.742 0 0 0.742 208.8 126.1)" fill="#5e5e5e"/><use href="#p36" transform="matrix(0.709 0 0 0.709 235.2 142)" fill="#575757"/><use href="#p36" transform="matrix(0.676 0 0 0.676 261.5 158)" fill="#505050"/><use href="#p36" transform="matrix(0.644 0 0 0.644 287.9 173.9)" fill="#494949"/><use href="#p36" transform="matrix(0.611 0 0 0.611 314.3 189.8)" fill="#424242"/><use href="#p36" transform="matrix(0.578 0 0 0.578 340.6 205.7)" fill="#3c3c3c"/><use href="#p36" transform="matrix(0.546 0 0 0.546 367 221.7)" fill="#363636"/><use href="#p36" transform="matrix(0.513 0 0 0.513 393.4 237.6)" fill="#303030"/><use href="#p36" transform="matrix(0.481 0 0 0.481 419.7 253.5)" fill="#2a2a2a"/><use href="#p36" transform="matrix(0.448 0 0 0.448 446.1 269.4)" fill="#242424"/><use href="#p36" transform="matrix(0.415 0 0 0.415 472.5 285.4)" fill="#1f1f1f"/><use href="#p36" transform="matrix(0.383 0 0 0.383 498.8 301.3)" fill="#191919"/><use href="#p36" transform="matrix(0.350 0 0 0.350 525.2 317.2)" fill="#141414"/><ellipse cx="835" cy="472" rx="13" ry="11" fill="url(#sg37)"/><g filter="url(#rough2)"><path d="M788.6,493.2C788.6,490.1 789.1,486.9 790.2,484.3C791.3,481.7 793.1,479.7 795.1,477.8C797.1,475.9 799.8,474 802.4,472.9C805,471.8 808.2,471.3 810.5,471.3C812.9,471.2 814.1,471.8 816.2,472.5C818.4,473.2 821.3,474.6 823.6,475.3C825.9,476.1 828.8,476.3 830.1,477C831.3,477.6 831.6,478.6 831.1,479.4C830.5,480.2 828.1,480.8 826.8,481.9C825.6,482.9 824.7,484.3 823.6,485.9C822.5,487.5 821.5,489.6 820.3,491.6C819.1,493.6 817.9,496.1 816.2,498.1C814.6,500.2 812.7,502.2 810.5,503.8C808.4,505.4 805.7,507.2 803.2,507.9C800.8,508.6 798.1,508.7 795.9,507.9C793.7,507.1 791.4,505.4 790.2,503C789,500.6 788.6,496.4 788.6,493.2Z" fill="url(#rg38)" stroke="#c4c4c4" stroke-width="1.3"/><ellipse cx="804.8" cy="489.4" rx="11.8" ry="12.8" transform="rotate(0 804.8 489.4)" fill="url(#rg39)" stroke="#c4c4c4" stroke-width="1.3"/><ellipse cx="804.6" cy="489.3" rx="7.6" ry="8.4" transform="rotate(0 804.6 489.3)" fill="url(#rg40)" stroke="#c4c4c4" stroke-width="1.3"/></g><ellipse cx="804" cy="488.4" rx="3.8" ry="3.8" fill="#000" opacity="0.85"/></g><ellipse cx="842" cy="468.5" rx="27.9" ry="23.7" fill="none" stroke="#6a6ae6" stroke-width="1.05" style="mix-blend-mode:multiply"/><text x="865.5" y="498.7" font-size="18" text-anchor="start" fill="#000" font-weight="normal" font-style="normal" >15.8</text><line x1="68.5" y1="943.5" x2="946" y2="943.5" stroke="#000" stroke-width="2.2" stroke-linecap="butt"/><text x="150" y="936.2" font-size="18" text-anchor="middle" fill="#000" font-weight="normal" font-style="normal" >WT</text><text x="378.5" y="936.4" font-size="18" text-anchor="middle"><tspan font-style="italic">lpr</tspan>/+</text><text x="617" y="936.4" font-size="18" text-anchor="middle"><tspan font-style="italic">lpr</tspan>/<tspan font-style="italic">lpr</tspan></text><text x="795.4" y="936.3" font-size="17.75">FasC194V<tspan dx="2.4" dy="-6" font-size="12.6"><tspan font-style="italic">lpr</tspan>/<tspan font-style="italic">lpr</tspan></tspan></text><text x="74" y="980.2" font-size="18.25">Gated on viable<tspan dy="-6" font-size="12">+</tspan><tspan dy="6">TCRβ</tspan><tspan dy="-6" font-size="12">+</tspan><tspan dy="6">B220</tspan><tspan dy="-6" font-size="12">−</tspan><tspan dy="6">CD4</tspan><tspan dy="-6" font-size="12">+</tspan></text><path d="M27,1208 L27,1155.7 L30.8,1155.7 L30.8,1204.2 L80.5,1204.2 L80.5,1208Z" fill="#000"/><path d="M28.9,1143.7 L22.5,1156.2 L35.2,1156.2Z" fill="#000"/><path d="M92.5,1206.1 L80,1199.7 L80,1212.5Z" fill="#000"/><text transform="translate(16.3,1182) rotate(-90)" font-size="18.6" text-anchor="middle">FoxP3</text><text x="54" y="1229.9" font-size="18" text-anchor="middle" fill="#000" font-weight="normal" font-style="normal" >CD4</text><g clip-path="url(#ce0)"><path fill="#a1a1a1" d="M146.3 1131.3h1v1h-1zM153.3 1100h1v1h-1zM179.8 1168.8h1v1h-1zM178.2 1176.1h1v1h-1zM177.3 1106.2h1v1h-1z"/><path fill="#000000" d="M181.8 1157.6h1v1h-1zM169.9 1093.1h1v1h-1zM156.7 1096.2h1v1h-1zM180 1119.8h1v1h-1zM163.8 1090.7h1v1h-1zM174.6 1102.4h1v1h-1zM150.4 1151.7h1v1h-1zM167 1093.1h1v1h-1zM163.5 1093.5h1v1h-1zM172.1 1173h1v1h-1zM148.6 1142.3h1v1h-1zM179.3 1160.2h1v1h-1zM170.7 1173.1h1v1h-1zM182.9 1146.8h1v1h-1zM169 1091.1h1v1h-1zM153.4 1104.8h1v1h-1zM163.7 1172.1h1v1h-1zM173.5 1092.9h1v1h-1zM171.5 1092.4h1v1h-1zM173 1097.1h1v1h-1zM151.6 1102.6h1v1h-1zM174.6 1172.6h1v1h-1zM182.6 1139.2h1v1h-1zM160.6 1172.2h1v1h-1zM181.8 1153.3h1v1h-1zM171.2 1172.1h1v1h-1zM181.1 1121.5h1v1h-1zM180.1 1125.5h1v1h-1zM175.5 1096h1v1h-1zM152.8 1103h1v1h-1zM149.9 1120.1h1v1h-1zM174 1098.5h1v1h-1zM177.6 1109.8h1v1h-1zM153.8 1101.6h1v1h-1zM170.9 1093.8h1v1h-1zM172.2 1092.9h1v1h-1zM181.7 1155.8h1v1h-1zM171.5 1172.6h1v1h-1zM163 1173.6h1v1h-1zM181.7 1150.4h1v1h-1zM178.9 1118.7h1v1h-1zM153.7 1106.8h1v1h-1zM175.8 1106.5h1v1h-1zM149.9 1114.8h1v1h-1zM151.8 1105h1v1h-1zM181.7 1154h1v1h-1zM150 1144.9h1v1h-1zM151.8 1156h1v1h-1zM177.3 1111.3h1v1h-1zM169.8 1093.1h1v1h-1zM176.9 1114.5h1v1h-1zM179.2 1162.6h1v1h-1zM158.4 1094h1v1h-1zM159 1094.6h1v1h-1zM181.2 1166.4h1v1h-1zM178.4 1165.6h1v1h-1zM175 1098.3h1v1h-1zM173.2 1173.3h1v1h-1zM179.7 1115.1h1v1h-1zM155.2 1102.6h1v1h-1zM177 1109h1v1h-1zM149.7 1118.1h1v1h-1zM182.4 1149h1v1h-1zM167.5 1093.1h1v1h-1zM148.6 1143h1v1h-1zM163 1173.5h1v1h-1zM151.2 1109.5h1v1h-1zM175.7 1097.9h1v1h-1zM152.1 1104.2h1v1h-1zM147.6 1123.6h1v1h-1zM182.9 1146.3h1v1h-1zM153.1 1104.7h1v1h-1zM155.5 1100.4h1v1h-1zM181 1158.1h1v1h-1zM180.6 1154.9h1v1h-1zM156.9 1169h1v1h-1zM150.6 1114.5h1v1h-1zM150 1116.1h1v1h-1zM168 1092.2h1v1h-1zM177.2 1108h1v1h-1zM156.9 1171.4h1v1h-1zM171.4 1094.3h1v1h-1zM182.7 1136h1v1h-1zM152.6 1106.9h1v1h-1zM149.9 1112.6h1v1h-1zM158 1095.4h1v1h-1zM173 1094.9h1v1h-1zM153.9 1162.4h1v1h-1zM181.9 1146.1h1v1h-1zM153.9 1100.9h1v1h-1zM175.8 1104.1h1v1h-1zM163 1092.6h1v1h-1zM175.4 1107.6h1v1h-1zM151 1106.7h1v1h-1zM164.3 1093.1h1v1h-1zM173.3 1097.7h1v1h-1zM153.5 1162h1v1h-1zM181 1121h1v1h-1zM162.1 1172.4h1v1h-1zM164.4 1093h1v1h-1zM156.7 1172.2h1v1h-1zM148.5 1128.2h1v1h-1zM150.6 1145.7h1v1h-1zM151.6 1110.1h1v1h-1zM153.8 1157.2h1v1h-1zM181.6 1135.2h1v1h-1zM159.1 1093.8h1v1h-1zM174.6 1100.2h1v1h-1zM178.9 1164.7h1v1h-1zM151 1153.9h1v1h-1zM165.8 1091.4h1v1h-1zM180.3 1124.3h1v1h-1zM173.2 1094.9h1v1h-1zM171.6 1094.1h1v1h-1zM181 1130.1h1v1h-1zM167.5 1092.9h1v1h-1zM174.2 1172.6h1v1h-1zM159.9 1094.9h1v1h-1zM169.4 1091.5h1v1h-1zM181 1128.6h1v1h-1zM152.5 1109.3h1v1h-1zM174 1094.4h1v1h-1zM174.8 1102.5h1v1h-1zM157.5 1095.4h1v1h-1zM167.6 1172.2h1v1h-1zM178.4 1172.4h1v1h-1zM181.6 1141.9h1v1h-1zM150.4 1152.3h1v1h-1zM181.5 1135.2h1v1h-1zM156.1 1097.3h1v1h-1zM154.8 1103.5h1v1h-1zM161.9 1090.8h1v1h-1zM175.4 1099.1h1v1h-1zM157.6 1095.5h1v1h-1zM181.1 1149.1h1v1h-1zM181.7 1149.9h1v1h-1zM177 1107.4h1v1h-1zM154.4 1162.5h1v1h-1zM176.2 1113.1h1v1h-1zM174.1 1096.1h1v1h-1zM176 1097.3h1v1h-1zM163.2 1091.2h1v1h-1zM176 1109.9h1v1h-1zM149.8 1146.9h1v1h-1zM179.1 1120.9h1v1h-1zM182.4 1146.1h1v1h-1zM149.6 1151.2h1v1h-1zM181.5 1148.6h1v1h-1zM169.1 1092.4h1v1h-1zM158.6 1095.8h1v1h-1zM165.7 1092.3h1v1h-1zM152.7 1104.4h1v1h-1zM178.8 1170.7h1v1h-1zM169.7 1092.9h1v1h-1zM156.1 1171h1v1h-1zM177.9 1109.4h1v1h-1zM183.2 1153.6h1v1h-1zM152.4 1113.1h1v1h-1zM153.3 1101.1h1v1h-1zM176.3 1101.5h1v1h-1zM159.8 1094.7h1v1h-1zM154.2 1098.3h1v1h-1zM172.1 1095h1v1h-1zM180.2 1171.3h1v1h-1zM176.2 1111.5h1v1h-1zM171.4 1094h1v1h-1zM161 1091.8h1v1h-1zM153.9 1102.1h1v1h-1zM181.8 1155.4h1v1h-1zM152.8 1104.3h1v1h-1zM154.6 1096.9h1v1h-1zM182.1 1151.5h1v1h-1zM168.3 1093.1h1v1h-1zM163.1 1093.4h1v1h-1zM176.7 1106.6h1v1h-1zM171.9 1094.3h1v1h-1zM176.9 1110.3h1v1h-1zM149.9 1112h1v1h-1zM153.6 1159.2h1v1h-1zM149.8 1116.4h1v1h-1zM156.4 1097.7h1v1h-1zM182.6 1132h1v1h-1zM157.3 1096.9h1v1h-1zM180.3 1123.2h1v1h-1zM160.5 1092.4h1v1h-1zM182.6 1133.7h1v1h-1zM157.7 1169.3h1v1h-1zM159.8 1174.3h1v1h-1zM154.9 1099.3h1v1h-1zM181.6 1161.2h1v1h-1zM150.4 1126.7h1v1h-1zM156.5 1098.4h1v1h-1zM156.8 1097.2h1v1h-1zM150 1135.3h1v1h-1zM164.7 1172.4h1v1h-1zM153.8 1107.1h1v1h-1zM157.3 1096.9h1v1h-1zM151.3 1111.9h1v1h-1zM151.1 1119.9h1v1h-1zM166.2 1173.1h1v1h-1zM179.5 1118.5h1v1h-1zM170.4 1091.2h1v1h-1zM150.5 1120.3h1v1h-1zM167.9 1174.6h1v1h-1zM156.2 1097.5h1v1h-1zM171.7 1093.8h1v1h-1zM177.7 1174.8h1v1h-1zM164.5 1093.3h1v1h-1zM178.1 1112.9h1v1h-1zM176.9 1110.2h1v1h-1zM149.2 1141h1v1h-1zM180.5 1159.5h1v1h-1zM160.9 1094.5h1v1h-1zM150.1 1126.4h1v1h-1zM158.7 1094.2h1v1h-1zM152.6 1110.8h1v1h-1zM165.9 1091.2h1v1h-1zM149.5 1113.8h1v1h-1zM151.5 1110h1v1h-1zM181.1 1160.2h1v1h-1zM162.9 1092.3h1v1h-1zM170.5 1172.1h1v1h-1zM180.3 1120.5h1v1h-1zM148.2 1126h1v1h-1zM176.2 1110.1h1v1h-1zM151.5 1120.2h1v1h-1zM160.1 1094.8h1v1h-1zM182 1149h1v1h-1zM180.8 1135.8h1v1h-1zM150.9 1120.2h1v1h-1zM150.9 1149.8h1v1h-1zM181.8 1151.2h1v1h-1zM180.7 1160.4h1v1h-1zM167 1091.8h1v1h-1zM161.1 1094.7h1v1h-1zM180 1161.6h1v1h-1zM178.2 1165.4h1v1h-1zM152.1 1155.9h1v1h-1zM160.8 1174.4h1v1h-1zM170.3 1093.7h1v1h-1zM164.4 1172.2h1v1h-1zM168.5 1091.9h1v1h-1zM167.6 1092.1h1v1h-1zM149.3 1116.7h1v1h-1zM153.2 1101.1h1v1h-1zM173.3 1100h1v1h-1zM175 1098.9h1v1h-1zM151.6 1115.1h1v1h-1zM157.1 1095.7h1v1h-1zM179.3 1170.5h1v1h-1zM182.2 1157.3h1v1h-1zM181.6 1155h1v1h-1zM148.9 1135.5h1v1h-1zM149.4 1141.4h1v1h-1zM150.1 1143.3h1v1h-1zM155.1 1101.6h1v1h-1zM149.4 1120.1h1v1h-1zM177.7 1106.2h1v1h-1zM152.9 1158.9h1v1h-1zM148.3 1129.9h1v1h-1zM156.6 1098.4h1v1h-1zM155.2 1101.8h1v1h-1zM184 1146.8h1v1h-1zM152.3 1109.8h1v1h-1zM177.4 1102.2h1v1h-1zM175.8 1098.2h1v1h-1zM175.9 1100.2h1v1h-1zM180.4 1168.4h1v1h-1zM181.3 1160.9h1v1h-1zM152 1105.8h1v1h-1zM154 1105h1v1h-1zM155.9 1167.5h1v1h-1zM156.4 1166h1v1h-1zM180.4 1164.2h1v1h-1zM179.4 1162.6h1v1h-1zM168.9 1093.1h1v1h-1zM149.2 1131.5h1v1h-1zM148 1133.2h1v1h-1zM172.6 1096.1h1v1h-1zM149.7 1121.9h1v1h-1zM183.7 1149.1h1v1h-1zM149 1140.3h1v1h-1zM183.9 1146.9h1v1h-1zM166.8 1091.9h1v1h-1zM178.1 1110.7h1v1h-1zM153.3 1103.3h1v1h-1zM169.1 1092.7h1v1h-1zM177 1105.2h1v1h-1zM149.1 1148.3h1v1h-1zM177.7 1114h1v1h-1zM177.4 1111.1h1v1h-1zM179.3 1117.6h1v1h-1zM156.1 1173.1h1v1h-1zM152.4 1159.3h1v1h-1zM150.1 1153.2h1v1h-1zM158.9 1095.8h1v1h-1zM149.6 1134.7h1v1h-1zM149.5 1112.1h1v1h-1zM158.6 1172.4h1v1h-1zM180.6 1162.5h1v1h-1zM180.4 1131.4h1v1h-1zM183.5 1135.8h1v1h-1zM173.7 1172.2h1v1h-1zM154.5 1162.8h1v1h-1zM177.4 1110.2h1v1h-1zM150 1136.3h1v1h-1zM182.5 1156.8h1v1h-1zM151.8 1106.1h1v1h-1zM153.9 1099.8h1v1h-1zM149.7 1121.2h1v1h-1zM169 1093.6h1v1h-1zM151.7 1111.9h1v1h-1zM165.9 1092.2h1v1h-1zM174.8 1098.2h1v1h-1zM168.4 1092.8h1v1h-1zM180.6 1131.4h1v1h-1zM165.1 1091.6h1v1h-1zM148.8 1147.6h1v1h-1zM150.1 1114.4h1v1h-1zM177.3 1174.5h1v1h-1zM180.4 1161.9h1v1h-1zM157.6 1094.5h1v1h-1zM151.2 1107.2h1v1h-1zM173.1 1097.2h1v1h-1zM153.6 1162.2h1v1h-1zM177.7 1168.2h1v1h-1zM149 1148.5h1v1h-1zM164.3 1093.3h1v1h-1zM180.4 1132.4h1v1h-1zM149.6 1116.2h1v1h-1zM149.5 1136h1v1h-1zM154.4 1100.6h1v1h-1zM150 1138.2h1v1h-1zM182.1 1151h1v1h-1zM153.8 1157h1v1h-1zM150.5 1150.7h1v1h-1zM184.4 1144.6h1v1h-1zM163.6 1093.5h1v1h-1zM156.9 1095.5h1v1h-1zM178.6 1171.9h1v1h-1zM151.2 1111.4h1v1h-1zM155.3 1163.3h1v1h-1zM156.8 1171.9h1v1h-1zM170.5 1094.2h1v1h-1zM175.8 1104.5h1v1h-1zM149.3 1125h1v1h-1zM154.2 1098.1h1v1h-1zM152.6 1105.6h1v1h-1zM177 1113.3h1v1h-1zM152.2 1150.7h1v1h-1zM155 1099.1h1v1h-1zM174 1095.5h1v1h-1zM180.2 1129.9h1v1h-1zM149.1 1142.3h1v1h-1zM156.7 1096.4h1v1h-1zM178.7 1169h1v1h-1zM174.6 1174.7h1v1h-1zM150.7 1116.6h1v1h-1zM160.3 1172.5h1v1h-1zM148.8 1141.2h1v1h-1zM160.3 1092.2h1v1h-1zM152.1 1105h1v1h-1zM171.5 1172.3h1v1h-1zM177.8 1115.7h1v1h-1zM154.5 1101.3h1v1h-1zM153.6 1160.8h1v1h-1zM152 1113h1v1h-1zM148.9 1114.6h1v1h-1zM177.5 1108.8h1v1h-1zM172.5 1096.3h1v1h-1zM149.6 1126.8h1v1h-1zM154.3 1098.1h1v1h-1zM150 1134.4h1v1h-1zM149.6 1143.6h1v1h-1z"/><path fill="#aaaaaa" d="M185.8 1141h1v1h-1zM176.7 1094.5h1v1h-1zM150.5 1160.1h1v1h-1zM182.3 1161.6h1v1h-1zM148.9 1105.8h1v1h-1zM178.6 1097.9h1v1h-1zM148.6 1110.9h1v1h-1zM176.1 1097.7h1v1h-1zM156.3 1173.4h1v1h-1zM184.2 1154.5h1v1h-1zM154.9 1094.5h1v1h-1zM164.7 1088.2h1v1h-1zM178.9 1106.1h1v1h-1zM184.2 1153.6h1v1h-1zM150.4 1163.4h1v1h-1zM145.2 1135.2h1v1h-1zM154 1092.4h1v1h-1zM163.5 1088.1h1v1h-1zM170.3 1088.2h1v1h-1zM148.3 1150.6h1v1h-1zM161.5 1088.9h1v1h-1zM181.5 1174.6h1v1h-1zM185 1127.1h1v1h-1zM148.8 1111.5h1v1h-1zM172.9 1176.5h1v1h-1zM174 1090.1h1v1h-1zM163.3 1088.5h1v1h-1zM157.9 1089.8h1v1h-1zM180.3 1114h1v1h-1zM153.2 1098.4h1v1h-1zM146.4 1112.7h1v1h-1zM181.5 1113.8h1v1h-1zM186.6 1143.2h1v1h-1zM177.3 1095.1h1v1h-1zM175 1092h1v1h-1zM155.8 1093.5h1v1h-1zM145.8 1138.9h1v1h-1zM152.3 1095.1h1v1h-1zM181.2 1173.6h1v1h-1zM162.6 1087.6h1v1h-1zM166.5 1088h1v1h-1zM182.4 1116.7h1v1h-1zM149.9 1157.4h1v1h-1zM149.4 1102.7h1v1h-1zM179.1 1176.5h1v1h-1zM183.7 1122.3h1v1h-1zM176.8 1100.2h1v1h-1zM186 1145.6h1v1h-1zM151.2 1098.9h1v1h-1zM176.4 1100h1v1h-1zM146.2 1119.1h1v1h-1zM148.9 1154.7h1v1h-1zM148.4 1110.7h1v1h-1zM155.4 1094.3h1v1h-1zM148.1 1111.6h1v1h-1zM180 1174.7h1v1h-1zM182.7 1117.6h1v1h-1zM185.7 1148.3h1v1h-1zM180 1177h1v1h-1zM180.5 1171.5h1v1h-1zM146.6 1120.6h1v1h-1zM157.7 1090h1v1h-1zM150.5 1100.4h1v1h-1zM164 1088.3h1v1h-1zM181.2 1174.3h1v1h-1zM155.5 1093.1h1v1h-1zM169.1 1176.9h1v1h-1zM152.7 1170.5h1v1h-1zM172.5 1090.9h1v1h-1zM181.9 1162.1h1v1h-1zM147.5 1152.8h1v1h-1zM183.8 1122.4h1v1h-1zM148.9 1110.4h1v1h-1zM170.8 1088.8h1v1h-1zM164.3 1088.3h1v1h-1zM159.9 1089.2h1v1h-1zM148.5 1151.3h1v1h-1zM144.9 1129.3h1v1h-1zM149.8 1104.6h1v1h-1zM176.2 1177h1v1h-1zM182.6 1161.8h1v1h-1zM168.9 1087.6h1v1h-1zM180 1105.6h1v1h-1zM160.7 1176.6h1v1h-1zM153.2 1170.4h1v1h-1zM154.8 1173h1v1h-1zM145.6 1142.8h1v1h-1zM180.8 1110.3h1v1h-1zM154.7 1171.1h1v1h-1zM161.4 1088.8h1v1h-1zM183.3 1155.3h1v1h-1zM180.3 1171.1h1v1h-1zM183.5 1162.2h1v1h-1zM156.3 1093.2h1v1h-1zM176.3 1095.4h1v1h-1zM153 1097.9h1v1h-1zM145.6 1142.7h1v1h-1zM182.8 1164.4h1v1h-1zM180.9 1164.4h1v1h-1zM185.6 1137.3h1v1h-1zM156.1 1092.9h1v1h-1zM176.1 1095.3h1v1h-1zM180.3 1172.6h1v1h-1zM159.9 1089.2h1v1h-1zM145.4 1136.1h1v1h-1zM165.3 1088.5h1v1h-1zM156.4 1173.6h1v1h-1zM145.8 1121.4h1v1h-1zM182.7 1121.3h1v1h-1zM151.2 1099.4h1v1h-1zM183.6 1122.6h1v1h-1zM171.4 1177.9h1v1h-1zM164.2 1087.3h1v1h-1zM154.3 1094.7h1v1h-1zM145.4 1118.1h1v1h-1zM165.4 1088h1v1h-1zM159.6 1089.4h1v1h-1zM144.7 1130.9h1v1h-1z"/><path fill="#a5a5a5" d="M184.4 1147.7h1v1h-1zM165.5 1088.7h1v1h-1zM153.2 1163.7h1v1h-1zM172.5 1176h1v1h-1zM168 1089h1v1h-1zM152.9 1099h1v1h-1zM162.3 1089.3h1v1h-1zM156.5 1093.6h1v1h-1zM150.7 1100.9h1v1h-1zM176.1 1100.4h1v1h-1z"/><path fill="#8d8d8d" d="M147.8 1116.6h1v1h-1zM182.3 1164.5h1v1h-1zM167.1 1089.7h1v1h-1zM170.7 1091.2h1v1h-1zM150.4 1107h1v1h-1zM150.8 1108.7h1v1h-1zM160.4 1175.3h1v1h-1z"/><path fill="#838383" d="M176.9 1103.9h1v1h-1zM154.4 1171.3h1v1h-1zM151.7 1106.7h1v1h-1zM171.4 1174.9h1v1h-1zM183.4 1143.9h1v1h-1zM155.6 1095.1h1v1h-1z"/><path fill="#949494" d="M152.2 1098.8h1v1h-1zM169.2 1090.4h1v1h-1zM160.5 1090.8h1v1h-1zM184.4 1134.9h1v1h-1z"/><path fill="#868686" d="M178.3 1113h1v1h-1zM179.4 1172.4h1v1h-1zM172.7 1092h1v1h-1z"/><path fill="#858585" d="M156.6 1093.8h1v1h-1zM153.8 1165.4h1v1h-1zM164.6 1090.2h1v1h-1zM174.4 1097.3h1v1h-1zM176.4 1097.8h1v1h-1zM183.5 1133.2h1v1h-1z"/><path fill="#818181" d="M148 1127.7h1v1h-1zM159.6 1091.7h1v1h-1zM176.4 1105.4h1v1h-1z"/><path fill="#909090" d="M154.2 1171.7h1v1h-1zM154.8 1094.8h1v1h-1zM179.4 1170.5h1v1h-1zM147.3 1125.5h1v1h-1z"/><path fill="#a6a6a6" d="M169.4 1089.1h1v1h-1zM147.3 1149h1v1h-1zM179.1 1176h1v1h-1zM147.8 1152.2h1v1h-1zM153.2 1166.4h1v1h-1z"/><path fill="#898989" d="M166.7 1175.2h1v1h-1zM154.9 1171.7h1v1h-1zM183.7 1148.6h1v1h-1zM154.4 1099.5h1v1h-1zM154.5 1165.8h1v1h-1zM168.9 1090.5h1v1h-1z"/><path fill="#9c9c9c" d="M164.6 1175.9h1v1h-1zM154 1169.2h1v1h-1zM167.1 1089.1h1v1h-1zM149.5 1106.9h1v1h-1zM163.4 1089.4h1v1h-1z"/><path fill="#8e8e8e" d="M149.5 1111.4h1v1h-1zM158.2 1093.1h1v1h-1z"/><path fill="#a3a3a3" d="M160.3 1089.7h1v1h-1zM185 1146.5h1v1h-1zM156.4 1176h1v1h-1zM182.2 1120.1h1v1h-1zM149.9 1156.5h1v1h-1zM177.3 1104.4h1v1h-1z"/><path fill="#8b8b8b" d="M148.1 1116.4h1v1h-1zM183.8 1133.5h1v1h-1zM166.6 1089.5h1v1h-1zM151.2 1108.5h1v1h-1zM146.9 1132.8h1v1h-1zM182.7 1157.6h1v1h-1zM169.3 1090.8h1v1h-1z"/><path fill="#989898" d="M168.7 1089.5h1v1h-1zM151.3 1162.2h1v1h-1zM181.1 1170.1h1v1h-1zM167.7 1089.3h1v1h-1z"/><path fill="#a4a4a4" d="M175.2 1097.4h1v1h-1zM153.5 1096.7h1v1h-1z"/><path fill="#919191" d="M181.5 1160.7h1v1h-1zM179.2 1114.9h1v1h-1zM181.4 1121.7h1v1h-1zM175 1175.4h1v1h-1z"/><path fill="#a8a8a8" d="M170.4 1089.8h1v1h-1zM148.9 1108.7h1v1h-1z"/><path fill="#878787" d="M149.4 1113.6h1v1h-1zM176.4 1097.7h1v1h-1zM179.5 1111.8h1v1h-1zM167 1089.7h1v1h-1zM183.6 1146.9h1v1h-1z"/><path fill="#9d9d9d" d="M180.4 1113.3h1v1h-1zM155.2 1096.4h1v1h-1z"/><path fill="#9b9b9b" d="M173.9 1095.2h1v1h-1zM178.6 1112.3h1v1h-1zM162.3 1089.8h1v1h-1z"/><path fill="#808080" d="M154.7 1165.5h1v1h-1z"/><path fill="#828282" d="M153.3 1099.1h1v1h-1zM148.9 1116.1h1v1h-1zM178.2 1106.1h1v1h-1zM183.3 1130h1v1h-1zM155.1 1097.5h1v1h-1z"/><path fill="#8c8c8c" d="M165.9 1089.8h1v1h-1zM164.3 1090.1h1v1h-1zM176.4 1103.3h1v1h-1zM179.9 1165.7h1v1h-1zM179.3 1168.1h1v1h-1zM147.4 1128.1h1v1h-1z"/><path fill="#a0a0a0" d="M149.9 1159h1v1h-1zM171.4 1090.5h1v1h-1z"/><path fill="#9a9a9a" d="M146.3 1136h1v1h-1zM148.2 1149.4h1v1h-1zM158.4 1092.6h1v1h-1zM175 1096.6h1v1h-1z"/><path fill="#939393" d="M174.1 1175.7h1v1h-1zM151.4 1159.3h1v1h-1zM184.7 1142.4h1v1h-1zM171.1 1091h1v1h-1zM155.5 1094.5h1v1h-1z"/><path fill="#969696" d="M153.6 1097.2h1v1h-1zM179.4 1175.3h1v1h-1z"/><path fill="#848484" d="M167.5 1175h1v1h-1z"/><path fill="#999999" d="M179.9 1111.3h1v1h-1zM163.6 1089.6h1v1h-1zM150.8 1106.3h1v1h-1z"/><path fill="#888888" d="M177 1105.4h1v1h-1zM183.8 1143.4h1v1h-1zM181.3 1122.1h1v1h-1zM156.3 1093.7h1v1h-1zM159.9 1091.4h1v1h-1z"/><path fill="#929292" d="M151.6 1159.4h1v1h-1zM152.2 1101.1h1v1h-1zM184.9 1141.8h1v1h-1z"/><path fill="#8f8f8f" d="M178.2 1109.1h1v1h-1z"/><path fill="#979797" d="M185 1142.1h1v1h-1z"/><path fill="#8a8a8a" d="M154.9 1097.3h1v1h-1zM181.1 1118.6h1v1h-1zM178.5 1172.8h1v1h-1zM171.9 1091.1h1v1h-1z"/><path fill="#a7a7a7" d="M164 1089.1h1v1h-1zM146.9 1143.3h1v1h-1zM185.5 1146h1v1h-1zM149.9 1110h1v1h-1zM178.6 1174h1v1h-1z"/><path fill="#a2a2a2" d="M174.4 1096.2h1v1h-1zM170.3 1090.3h1v1h-1zM170.5 1176.2h1v1h-1zM183.4 1123.3h1v1h-1z"/><path fill="#9f9f9f" d="M168.2 1176h1v1h-1zM151.2 1100.9h1v1h-1zM177.9 1101.3h1v1h-1zM152.8 1097.1h1v1h-1z"/><path fill="#9e9e9e" d="M176.6 1104.3h1v1h-1z"/><path d="M157.9,1172C153.7,1168.8 153.9,1159 152.8,1153C151.7,1147 151.3,1141.7 151.1,1136.1C150.9,1130.5 151.2,1124.1 151.6,1119.2C152,1114.3 152.8,1109.9 153.7,1106.5C154.6,1103.1 155.7,1100.9 157.1,1098.9C158.5,1096.9 160.3,1095.6 162.1,1094.7C163.9,1093.8 166.3,1093.5 168.1,1093.8C169.9,1094.1 171.8,1094.7 173.1,1096.4C174.4,1098.1 175.4,1100.9 176.1,1104C176.8,1107.1 176.8,1111 177.4,1115C178,1119 179.2,1122.8 179.9,1127.7C180.6,1132.6 181.5,1139.7 181.6,1144.6C181.7,1149.5 181.3,1152.7 180.7,1157.3C180.1,1161.9 182,1169.5 178.2,1172C174.4,1174.5 162.1,1175.2 157.9,1172Z" fill="#000" stroke="#000" stroke-width="2.4" stroke-linejoin="round" filter="url(#rough)"/><use href="#p41" transform="matrix(0.970 0 0 0.970 5 34.1)" fill="#b9b9b9"/><use href="#p41" transform="matrix(0.935 0 0 0.935 10.9 74.1)" fill="#9d9d9d"/><use href="#p41" transform="matrix(0.899 0 0 0.899 16.7 114.1)" fill="#8e8e8e"/><use href="#p41" transform="matrix(0.864 0 0 0.864 22.6 154.1)" fill="#828282"/><use href="#p41" transform="matrix(0.829 0 0 0.829 28.5 194.1)" fill="#787878"/><use href="#p41" transform="matrix(0.794 0 0 0.794 34.4 234.2)" fill="#6f6f6f"/><use href="#p41" transform="matrix(0.758 0 0 0.758 40.2 274.2)" fill="#666666"/><use href="#p41" transform="matrix(0.723 0 0 0.723 46.1 314.2)" fill="#5e5e5e"/><use href="#p41" transform="matrix(0.688 0 0 0.688 52 354.2)" fill="#575757"/><use href="#p41" transform="matrix(0.653 0 0 0.653 57.8 394.3)" fill="#505050"/><use href="#p41" transform="matrix(0.617 0 0 0.617 63.7 434.3)" fill="#494949"/><use href="#p41" transform="matrix(0.582 0 0 0.582 69.6 474.3)" fill="#424242"/><use href="#p41" transform="matrix(0.547 0 0 0.547 75.5 514.3)" fill="#3c3c3c"/><use href="#p41" transform="matrix(0.512 0 0 0.512 81.3 554.4)" fill="#363636"/><use href="#p41" transform="matrix(0.476 0 0 0.476 87.2 594.4)" fill="#303030"/><use href="#p41" transform="matrix(0.441 0 0 0.441 93.1 634.4)" fill="#2a2a2a"/><use href="#p41" transform="matrix(0.406 0 0 0.406 98.9 674.4)" fill="#242424"/><use href="#p41" transform="matrix(0.371 0 0 0.371 104.8 714.5)" fill="#1f1f1f"/><use href="#p41" transform="matrix(0.335 0 0 0.335 110.7 754.5)" fill="#191919"/><use href="#p41" transform="matrix(0.300 0 0 0.300 116.5 794.5)" fill="#141414"/><path d="M159.3,1166.1C155.7,1163.4 155.9,1155.1 155,1150.1C154,1145.1 153.7,1140.7 153.6,1135.9C153.4,1131.2 153.6,1125.9 154,1121.7C154.3,1117.6 155,1113.9 155.7,1111.1C156.5,1108.2 157.4,1106.3 158.6,1104.7C159.8,1103 161.3,1101.9 162.8,1101.1C164.3,1100.4 166.3,1100.2 167.8,1100.4C169.4,1100.6 170.9,1101.1 172,1102.6C173.2,1104 174,1106.4 174.6,1109C175.2,1111.6 175.1,1114.9 175.7,1118.2C176.2,1121.5 177.2,1124.7 177.8,1128.9C178.3,1133 179.1,1138.9 179.2,1143.1C179.3,1147.2 178.9,1149.9 178.4,1153.7C178,1157.6 179.5,1164 176.3,1166.1C173.1,1168.1 162.8,1168.7 159.3,1166.1Z" fill="none" stroke="#bdbdbd" stroke-width="1.2"/><ellipse cx="165.5" cy="1105" rx="7" ry="9" fill="url(#sg42)"/><g filter="url(#rough2)"><ellipse cx="167.8" cy="1142" rx="9.3" ry="23" transform="rotate(0 167.8 1142)" fill="url(#rg43)" stroke="#c4c4c4" stroke-width="1.3"/><ellipse cx="167.6" cy="1143" rx="6.3" ry="16.5" transform="rotate(0 167.6 1143)" fill="url(#rg44)" stroke="#c4c4c4" stroke-width="1.3"/><ellipse cx="168" cy="1143" rx="4.2" ry="10.2" transform="rotate(0 168 1143)" fill="url(#rg45)" stroke="#c4c4c4" stroke-width="1.3"/><ellipse cx="168" cy="1143" rx="2.5" ry="5.5" transform="rotate(0 168 1143)" fill="url(#rg46)" stroke="#c4c4c4" stroke-width="1.3"/></g></g><rect x="145.6" y="1070.8" width="39.8" height="45.4" fill="none" stroke="#6a6ae6" stroke-width="1.05" style="mix-blend-mode:multiply"/><text x="194.5" y="1062.2" font-size="18" text-anchor="start" fill="#000" font-weight="normal" font-style="normal" >9.66</text><g clip-path="url(#ce1)"><path fill="#000000" d="M384.9 1111.3h1v1h-1zM418.7 1142.3h1v1h-1zM388.6 1098h1v1h-1zM395.2 1090.8h1v1h-1zM416.3 1147.7h1v1h-1zM416.2 1127.2h1v1h-1zM413.8 1116.9h1v1h-1zM416 1152.8h1v1h-1zM393.6 1093.4h1v1h-1zM398.6 1092.4h1v1h-1zM412.9 1105.3h1v1h-1zM417.7 1127h1v1h-1zM416.7 1161.4h1v1h-1zM413.9 1116h1v1h-1zM412.9 1104.9h1v1h-1zM399.3 1172.6h1v1h-1zM390.4 1097.2h1v1h-1zM389 1172.4h1v1h-1zM414.5 1168.8h1v1h-1zM413.5 1165.2h1v1h-1zM414.5 1169.3h1v1h-1zM399.5 1092.5h1v1h-1zM387.1 1103.2h1v1h-1zM387 1102.7h1v1h-1zM392.9 1093.9h1v1h-1zM406.5 1094.3h1v1h-1zM401.9 1090.9h1v1h-1zM398.7 1091.7h1v1h-1zM396.2 1092.6h1v1h-1zM407.6 1172.4h1v1h-1zM406.8 1093.5h1v1h-1zM413.4 1113.3h1v1h-1zM391.7 1094h1v1h-1zM415.1 1127.1h1v1h-1zM412 1115.5h1v1h-1zM414.2 1163.1h1v1h-1zM413.9 1121.7h1v1h-1zM412.8 1112h1v1h-1zM383.7 1140.9h1v1h-1zM391.1 1093.8h1v1h-1zM416.8 1121.8h1v1h-1zM396.1 1092.7h1v1h-1zM404.1 1091.9h1v1h-1zM404.2 1093.2h1v1h-1zM383.3 1130.1h1v1h-1zM395.3 1093.2h1v1h-1zM394.1 1091.8h1v1h-1zM383.3 1138.3h1v1h-1zM393 1093.8h1v1h-1zM404 1090.8h1v1h-1zM414.9 1123.5h1v1h-1zM386.8 1111.8h1v1h-1zM415.9 1155.2h1v1h-1zM408.5 1172.1h1v1h-1zM406.6 1093.8h1v1h-1zM383.3 1143.3h1v1h-1zM384.9 1110.5h1v1h-1zM405 1093.4h1v1h-1zM410.9 1109.1h1v1h-1zM395.1 1091.7h1v1h-1zM383.8 1129h1v1h-1zM412.9 1102.2h1v1h-1zM415.7 1133.7h1v1h-1zM417.3 1143.5h1v1h-1zM405.7 1093.4h1v1h-1zM415 1161.1h1v1h-1zM397.3 1090.3h1v1h-1zM405.4 1093.5h1v1h-1zM409.6 1173h1v1h-1zM395.6 1091.2h1v1h-1zM382.6 1141h1v1h-1zM384 1139.1h1v1h-1zM408.9 1099.7h1v1h-1zM383.6 1144.7h1v1h-1zM411.7 1106.8h1v1h-1zM411.4 1100.6h1v1h-1zM415.1 1161.8h1v1h-1zM383.2 1121.4h1v1h-1zM416.7 1144.3h1v1h-1zM390.6 1097.1h1v1h-1zM416.4 1123.2h1v1h-1zM383.4 1115h1v1h-1zM417 1147h1v1h-1zM409.7 1098h1v1h-1zM413.1 1116.2h1v1h-1zM388.4 1099.2h1v1h-1zM388.3 1103.8h1v1h-1zM415.1 1158.9h1v1h-1zM391.2 1095.4h1v1h-1zM392.3 1094.4h1v1h-1zM416.8 1154.9h1v1h-1zM393 1093.2h1v1h-1zM414.9 1125.5h1v1h-1zM392.9 1091.6h1v1h-1zM386.7 1102.8h1v1h-1zM392.3 1095.7h1v1h-1zM415.8 1142.7h1v1h-1zM413.7 1121.8h1v1h-1zM416.2 1152.1h1v1h-1zM412 1108.7h1v1h-1zM403.1 1092.8h1v1h-1zM383.9 1132.5h1v1h-1zM383.1 1117.5h1v1h-1zM414.2 1166.9h1v1h-1zM416.7 1125.9h1v1h-1zM416.9 1140.7h1v1h-1zM383 1136.1h1v1h-1zM382.8 1139.4h1v1h-1zM413.2 1113.5h1v1h-1zM417.5 1160.9h1v1h-1zM416.4 1129.9h1v1h-1zM386.3 1104.1h1v1h-1zM406.8 1091.6h1v1h-1zM417.5 1153.4h1v1h-1zM385.5 1120.1h1v1h-1zM382.5 1160h1v1h-1zM414 1116.6h1v1h-1zM384.4 1163.8h1v1h-1zM407.3 1093.9h1v1h-1zM405.2 1174.1h1v1h-1zM407 1093.7h1v1h-1zM409.9 1101h1v1h-1zM402.6 1092.6h1v1h-1zM398.9 1092.6h1v1h-1zM388.8 1099.6h1v1h-1zM411.9 1102.2h1v1h-1zM388.2 1100h1v1h-1zM385.2 1154.4h1v1h-1zM384 1153.2h1v1h-1zM404.4 1172.3h1v1h-1zM384.5 1123.6h1v1h-1zM390.8 1097.1h1v1h-1zM412.9 1115.2h1v1h-1zM414.9 1121.1h1v1h-1zM388.8 1102.3h1v1h-1zM415.4 1119.3h1v1h-1zM415.3 1159.6h1v1h-1zM384.2 1165.4h1v1h-1zM411 1103.3h1v1h-1zM385.4 1107.8h1v1h-1zM410.3 1097.8h1v1h-1zM415.8 1158.5h1v1h-1zM412.7 1172.7h1v1h-1zM389.8 1098.6h1v1h-1zM406.8 1093.2h1v1h-1zM384.5 1107.3h1v1h-1zM414.1 1115.3h1v1h-1zM396.2 1093h1v1h-1zM410.1 1100h1v1h-1zM403.4 1092.4h1v1h-1zM406.4 1092.4h1v1h-1zM385.5 1113.9h1v1h-1zM395.1 1092.7h1v1h-1zM413.2 1116.1h1v1h-1zM383.9 1153.8h1v1h-1zM415.1 1169.5h1v1h-1zM396.4 1091.9h1v1h-1zM392.8 1093.7h1v1h-1zM394.9 1092.6h1v1h-1zM413.2 1117.8h1v1h-1zM411.1 1102.9h1v1h-1zM384.9 1105h1v1h-1zM404.1 1092.1h1v1h-1zM397.3 1090.2h1v1h-1zM385.3 1105.9h1v1h-1zM384 1111.3h1v1h-1zM407.2 1093.2h1v1h-1zM413.7 1122h1v1h-1zM403.6 1173.3h1v1h-1zM411.2 1097.6h1v1h-1zM390.1 1096.2h1v1h-1zM387.7 1101.8h1v1h-1zM403.6 1092h1v1h-1zM415.9 1164h1v1h-1zM415.8 1153h1v1h-1zM383.8 1172.1h1v1h-1zM387.5 1101.6h1v1h-1zM412 1102.3h1v1h-1zM381.4 1138.7h1v1h-1zM412.9 1114.3h1v1h-1zM398.3 1090.5h1v1h-1zM386 1105.4h1v1h-1zM386 1111h1v1h-1zM395.1 1091h1v1h-1zM386.5 1107.7h1v1h-1zM384.9 1118.1h1v1h-1zM415.3 1159.8h1v1h-1zM415.5 1122.3h1v1h-1zM383.9 1142.7h1v1h-1zM384.3 1172.2h1v1h-1zM415.6 1165.6h1v1h-1zM383.5 1149h1v1h-1zM382.5 1145.2h1v1h-1zM383.5 1156.3h1v1h-1zM383.2 1138h1v1h-1zM382.9 1130.8h1v1h-1zM404.7 1093.2h1v1h-1zM413.2 1119.3h1v1h-1zM405.3 1091.8h1v1h-1zM386.3 1102.3h1v1h-1zM383.8 1143.1h1v1h-1zM383.5 1143.8h1v1h-1zM387.3 1098h1v1h-1zM390.7 1096h1v1h-1zM383.6 1129.8h1v1h-1zM412.2 1109.9h1v1h-1zM409.1 1097.9h1v1h-1zM406.7 1093.9h1v1h-1zM411.6 1115.4h1v1h-1zM381.3 1141h1v1h-1zM404.3 1172.1h1v1h-1zM416 1131.5h1v1h-1zM418.1 1135.7h1v1h-1zM414.5 1125.7h1v1h-1zM413.2 1116.3h1v1h-1zM388.9 1098.5h1v1h-1zM384 1136.2h1v1h-1zM382.8 1143.5h1v1h-1zM399.2 1091.4h1v1h-1zM410.8 1097.9h1v1h-1zM385.2 1172.1h1v1h-1zM384.5 1121.3h1v1h-1zM391 1095.9h1v1h-1zM408.3 1097.7h1v1h-1zM413.9 1166h1v1h-1zM416.5 1149h1v1h-1zM409.6 1096h1v1h-1zM392.2 1092.8h1v1h-1zM383.9 1114h1v1h-1zM414.3 1167.5h1v1h-1zM400.1 1092.1h1v1h-1zM417.3 1151.3h1v1h-1zM396.8 1091.2h1v1h-1zM402.8 1091.4h1v1h-1zM398.1 1090.3h1v1h-1zM412.9 1110.4h1v1h-1zM408.5 1094h1v1h-1zM387.4 1099.6h1v1h-1zM412.8 1117.1h1v1h-1zM385.2 1105.9h1v1h-1zM396.1 1092.3h1v1h-1zM383.1 1146h1v1h-1zM409.6 1097.9h1v1h-1zM398.3 1091h1v1h-1zM411.4 1104.2h1v1h-1zM406.6 1093.1h1v1h-1zM402.5 1092.3h1v1h-1zM394.2 1093.1h1v1h-1zM415.3 1160.8h1v1h-1zM414.1 1169.6h1v1h-1zM393.4 1093.3h1v1h-1zM394.6 1094.3h1v1h-1zM407 1091.9h1v1h-1zM383 1155.2h1v1h-1zM403.8 1092.2h1v1h-1zM416.4 1128h1v1h-1zM411.6 1099.8h1v1h-1zM403.2 1091.4h1v1h-1zM384.3 1171.6h1v1h-1zM387.8 1100.2h1v1h-1zM417.4 1140.2h1v1h-1zM410 1095h1v1h-1zM387.4 1104.5h1v1h-1zM384.6 1119.6h1v1h-1zM390.1 1097.2h1v1h-1zM407.5 1091.9h1v1h-1zM398.5 1091.5h1v1h-1zM383.9 1120.7h1v1h-1zM408.2 1098.1h1v1h-1zM410.8 1106.7h1v1h-1zM415 1123.4h1v1h-1zM384.3 1142.3h1v1h-1zM418 1136.8h1v1h-1zM415.9 1151.4h1v1h-1zM388.5 1100.5h1v1h-1zM416.4 1148.8h1v1h-1zM414.4 1171.9h1v1h-1zM405.9 1091.4h1v1h-1zM410.1 1097.2h1v1h-1zM384.7 1123.7h1v1h-1zM386.4 1108.6h1v1h-1zM383.9 1162.3h1v1h-1zM413.9 1118.9h1v1h-1zM416.3 1122.1h1v1h-1zM389.8 1097.6h1v1h-1zM414.4 1169.3h1v1h-1zM385.5 1117.9h1v1h-1zM400.5 1091.4h1v1h-1zM415.8 1117.2h1v1h-1zM399.7 1091.4h1v1h-1zM416.8 1154.6h1v1h-1zM385.3 1108.6h1v1h-1zM394.6 1093.3h1v1h-1zM384.4 1150h1v1h-1zM410.2 1098.4h1v1h-1zM415.6 1133.5h1v1h-1zM408.2 1096.3h1v1h-1zM412.3 1107.7h1v1h-1zM416.2 1140h1v1h-1zM383.5 1127.1h1v1h-1zM383.6 1117.2h1v1h-1zM384.6 1110.5h1v1h-1zM388 1103.5h1v1h-1zM411.9 1115.2h1v1h-1zM412.9 1110h1v1h-1zM406 1093.3h1v1h-1zM410.1 1102.3h1v1h-1zM415.7 1166.5h1v1h-1zM418.1 1137.9h1v1h-1zM390.4 1096.7h1v1h-1zM394.4 1174.4h1v1h-1zM415.8 1159.7h1v1h-1zM382.3 1124.1h1v1h-1zM395.4 1172.4h1v1h-1zM396.8 1090.8h1v1h-1zM384.4 1126.8h1v1h-1zM384.1 1145.3h1v1h-1zM395 1092.6h1v1h-1zM415.7 1131.2h1v1h-1zM414.4 1123.9h1v1h-1zM411 1109.3h1v1h-1zM384.4 1167.3h1v1h-1zM390.8 1095.5h1v1h-1zM412.7 1102.5h1v1h-1zM411.2 1105h1v1h-1zM410.7 1108.8h1v1h-1zM391.3 1094.9h1v1h-1zM384.8 1118.5h1v1h-1zM405.5 1173.8h1v1h-1zM387.2 1098.3h1v1h-1zM403.4 1091.3h1v1h-1zM390.2 1097.5h1v1h-1zM391.9 1093.8h1v1h-1zM383.5 1131.8h1v1h-1zM387.4 1105.9h1v1h-1zM399.8 1174h1v1h-1zM384.9 1118.3h1v1h-1zM389.9 1097.6h1v1h-1zM411.9 1100.3h1v1h-1zM388.6 1173.3h1v1h-1zM389.3 1098.4h1v1h-1zM414.9 1172.3h1v1h-1zM417.4 1143.6h1v1h-1zM416.7 1154.3h1v1h-1zM413.1 1173.9h1v1h-1zM383.7 1137.8h1v1h-1zM412.4 1107.1h1v1h-1zM414.3 1125.7h1v1h-1zM416.9 1137.5h1v1h-1zM382.1 1128.9h1v1h-1zM383.8 1134.7h1v1h-1zM412.9 1110.6h1v1h-1zM382.5 1125.6h1v1h-1zM405.2 1090.7h1v1h-1zM383.1 1126.1h1v1h-1zM391.5 1094h1v1h-1zM416.6 1160.7h1v1h-1zM415.2 1163.1h1v1h-1zM418.6 1144.7h1v1h-1zM384.8 1119.8h1v1h-1zM416.2 1154.6h1v1h-1zM388 1101.7h1v1h-1zM387.5 1098.6h1v1h-1zM389.6 1172h1v1h-1zM384.5 1123.5h1v1h-1zM412.8 1113.9h1v1h-1zM412.6 1105.7h1v1h-1zM413.7 1123.7h1v1h-1zM415 1121h1v1h-1zM388.4 1104.1h1v1h-1zM417 1146.4h1v1h-1zM382.2 1123.8h1v1h-1zM415.4 1154h1v1h-1zM383.4 1133h1v1h-1zM415 1125.7h1v1h-1zM392.2 1093.4h1v1h-1zM414.1 1165h1v1h-1zM415.1 1120.9h1v1h-1zM409.5 1097.4h1v1h-1zM417.9 1133.5h1v1h-1zM407.6 1095.2h1v1h-1zM408.6 1092.1h1v1h-1zM401.5 1090h1v1h-1zM417.5 1137.7h1v1h-1zM407.7 1094h1v1h-1zM395.4 1172.8h1v1h-1zM416 1124h1v1h-1zM384.7 1120.4h1v1h-1zM384.4 1115.6h1v1h-1zM406.5 1094h1v1h-1zM413.8 1118.2h1v1h-1zM413.5 1120.3h1v1h-1zM394.3 1092.6h1v1h-1zM412.9 1110.9h1v1h-1zM416.4 1137.2h1v1h-1zM412.5 1115.5h1v1h-1zM384.3 1167h1v1h-1zM416 1163h1v1h-1zM382.1 1139h1v1h-1zM382.8 1123.2h1v1h-1zM382.9 1123.2h1v1h-1zM418.9 1138.1h1v1h-1zM414.3 1169h1v1h-1zM404 1092.9h1v1h-1zM413.4 1168.3h1v1h-1zM417.1 1160.6h1v1h-1zM406.3 1093.5h1v1h-1zM415.3 1159h1v1h-1zM382.9 1158.9h1v1h-1z"/><path fill="#a6a6a6" d="M403.7 1088.6h1v1h-1zM392.8 1176h1v1h-1zM415.5 1114.9h1v1h-1zM418.9 1125.5h1v1h-1zM403.5 1089h1v1h-1z"/><path fill="#878787" d="M418.8 1136.2h1v1h-1zM384.3 1105.7h1v1h-1zM385.6 1175.3h1v1h-1zM412.4 1104.7h1v1h-1z"/><path fill="#aaaaaa" d="M412.9 1095.7h1v1h-1zM394.3 1176.9h1v1h-1zM382 1110.5h1v1h-1zM402.5 1087.9h1v1h-1zM378.5 1129.3h1v1h-1zM415.8 1174.5h1v1h-1zM380 1128.7h1v1h-1zM390.6 1091.6h1v1h-1zM384 1102.8h1v1h-1zM379.6 1142.2h1v1h-1zM397.8 1087.1h1v1h-1zM379.8 1118.7h1v1h-1zM414.3 1111.8h1v1h-1zM404.4 1088.7h1v1h-1zM418.6 1158.2h1v1h-1zM383.2 1163.3h1v1h-1zM382.7 1171.6h1v1h-1zM378.8 1137h1v1h-1zM403.4 1086.9h1v1h-1zM412.8 1095.7h1v1h-1zM419.9 1155.9h1v1h-1zM407.5 1090.4h1v1h-1zM388.8 1092.9h1v1h-1zM416.9 1115.3h1v1h-1zM393.7 1087.6h1v1h-1zM419.7 1129.3h1v1h-1zM414 1102.7h1v1h-1zM384.4 1177.5h1v1h-1zM380.1 1120.9h1v1h-1zM379.4 1146.9h1v1h-1zM420.9 1144.6h1v1h-1zM409.2 1089.2h1v1h-1zM413.8 1176.6h1v1h-1zM417.6 1163.7h1v1h-1zM401.2 1087.6h1v1h-1zM420.9 1133h1v1h-1zM414.5 1107.5h1v1h-1zM400.1 1087.4h1v1h-1zM420.7 1145h1v1h-1zM419.2 1123.2h1v1h-1zM416 1175h1v1h-1zM385 1101.6h1v1h-1zM420.1 1150.9h1v1h-1zM382.8 1108.4h1v1h-1zM413.9 1096.4h1v1h-1zM378.6 1128.8h1v1h-1zM409.5 1091.9h1v1h-1zM385.2 1098.5h1v1h-1zM388.6 1092.6h1v1h-1zM421.2 1144.2h1v1h-1zM381 1167h1v1h-1zM378.6 1139h1v1h-1zM384.2 1101.2h1v1h-1zM415.6 1112.5h1v1h-1zM418.3 1159h1v1h-1zM411.9 1103h1v1h-1zM392 1089h1v1h-1zM419.7 1150.4h1v1h-1zM397.1 1087.6h1v1h-1zM383.1 1110.8h1v1h-1zM382.9 1103.4h1v1h-1zM415.3 1173h1v1h-1zM418.7 1163.3h1v1h-1zM413.1 1106.7h1v1h-1zM420.2 1156.5h1v1h-1zM380.2 1120.2h1v1h-1zM417.3 1114.8h1v1h-1zM411 1095.7h1v1h-1zM420.9 1142.8h1v1h-1zM386.1 1100.5h1v1h-1zM415.6 1170.1h1v1h-1zM387.3 1097.7h1v1h-1zM379.4 1141.3h1v1h-1zM380.1 1127.1h1v1h-1zM418.6 1157.6h1v1h-1zM387.4 1093.6h1v1h-1zM414.8 1109.5h1v1h-1zM417.5 1165.9h1v1h-1zM384.2 1176.7h1v1h-1zM404.2 1177.1h1v1h-1zM418.4 1163h1v1h-1zM391.8 1091.8h1v1h-1zM410.2 1177.4h1v1h-1zM420 1149.1h1v1h-1zM387.4 1098.4h1v1h-1zM394.5 1087.5h1v1h-1zM414.7 1110.6h1v1h-1zM378.4 1140.7h1v1h-1zM421.1 1131.8h1v1h-1zM415.3 1111.6h1v1h-1zM400 1087.8h1v1h-1zM397.7 1087.5h1v1h-1zM403.1 1087.7h1v1h-1zM404.1 1089h1v1h-1zM413.9 1105.1h1v1h-1zM415.5 1172.9h1v1h-1zM415.1 1111.3h1v1h-1zM386.8 1094.4h1v1h-1zM410 1094.2h1v1h-1zM412.9 1094.9h1v1h-1zM387.3 1096.8h1v1h-1zM407.2 1088.8h1v1h-1zM383.7 1172.8h1v1h-1zM383.9 1103.7h1v1h-1zM382 1166.8h1v1h-1zM421.5 1139.7h1v1h-1zM414.5 1110h1v1h-1zM421.3 1137.1h1v1h-1zM419 1124h1v1h-1z"/><path fill="#848484" d="M395.8 1090.2h1v1h-1zM412.2 1102.8h1v1h-1zM383.8 1115.5h1v1h-1zM419.1 1149.8h1v1h-1zM400.8 1175h1v1h-1z"/><path fill="#808080" d="M381.5 1142.7h1v1h-1zM381.4 1139.5h1v1h-1zM409.2 1094.1h1v1h-1zM414 1111.9h1v1h-1z"/><path fill="#a5a5a5" d="M405 1089.7h1v1h-1zM406.9 1091.2h1v1h-1zM416.3 1173.1h1v1h-1zM407.3 1091.3h1v1h-1zM410 1095.8h1v1h-1zM396.7 1088.7h1v1h-1zM416.1 1175.6h1v1h-1z"/><path fill="#a2a2a2" d="M405.7 1089.9h1v1h-1zM418.4 1160.2h1v1h-1zM380.6 1151.1h1v1h-1zM413.8 1176.3h1v1h-1zM411.9 1097.4h1v1h-1zM410.9 1097.1h1v1h-1zM416.9 1163.4h1v1h-1z"/><path fill="#888888" d="M412.5 1098.6h1v1h-1zM390.5 1092.9h1v1h-1zM388.7 1095.7h1v1h-1zM417.4 1164.3h1v1h-1z"/><path fill="#8a8a8a" d="M382.7 1165.2h1v1h-1zM416.1 1165.1h1v1h-1zM392.4 1092.4h1v1h-1z"/><path fill="#a3a3a3" d="M383.4 1111.8h1v1h-1zM387.4 1095.7h1v1h-1zM417.4 1121.8h1v1h-1z"/><path fill="#9a9a9a" d="M380.2 1145.5h1v1h-1zM384 1111.7h1v1h-1zM382.4 1118.2h1v1h-1z"/><path fill="#9e9e9e" d="M418.2 1123.4h1v1h-1zM413.4 1108.3h1v1h-1zM414.7 1111h1v1h-1zM404.8 1089.7h1v1h-1z"/><path fill="#a1a1a1" d="M382.8 1114.9h1v1h-1zM418.8 1125.9h1v1h-1zM381.8 1156.7h1v1h-1zM398.9 1088.2h1v1h-1zM393.3 1175.9h1v1h-1zM416.3 1117.6h1v1h-1z"/><path fill="#8c8c8c" d="M410.2 1095.9h1v1h-1zM408.6 1092.5h1v1h-1zM383.2 1118.1h1v1h-1zM406.9 1090.9h1v1h-1z"/><path fill="#9f9f9f" d="M403.1 1089.2h1v1h-1zM380.1 1129.8h1v1h-1zM394.4 1089.6h1v1h-1z"/><path fill="#a0a0a0" d="M416.8 1118.1h1v1h-1zM417.4 1167.7h1v1h-1zM387.4 1098.9h1v1h-1zM419.4 1144.4h1v1h-1zM414.7 1112.8h1v1h-1zM383.6 1109.1h1v1h-1z"/><path fill="#8f8f8f" d="M413 1102.7h1v1h-1zM416.4 1118.6h1v1h-1z"/><path fill="#919191" d="M413.6 1110.9h1v1h-1zM381.6 1122.3h1v1h-1z"/><path fill="#a7a7a7" d="M414.8 1173.8h1v1h-1zM383.2 1106.3h1v1h-1zM383.3 1166.8h1v1h-1z"/><path fill="#939393" d="M413.1 1102.5h1v1h-1zM410.6 1175.2h1v1h-1zM415.3 1115.6h1v1h-1zM401.7 1088.9h1v1h-1z"/><path fill="#9b9b9b" d="M414.1 1106.7h1v1h-1zM418.3 1159.9h1v1h-1zM386.7 1100.8h1v1h-1zM381.9 1116.1h1v1h-1z"/><path fill="#929292" d="M418.1 1153.7h1v1h-1zM380.5 1134.6h1v1h-1zM403.7 1175.6h1v1h-1z"/><path fill="#868686" d="M419.1 1152h1v1h-1zM383.2 1116h1v1h-1zM393.4 1090.7h1v1h-1z"/><path fill="#959595" d="M390.2 1093.2h1v1h-1zM380.5 1132.9h1v1h-1zM418.3 1127.7h1v1h-1zM391.7 1092.9h1v1h-1zM405.5 1175.5h1v1h-1zM398.1 1175.6h1v1h-1z"/><path fill="#979797" d="M403.8 1089.5h1v1h-1zM381.1 1143.9h1v1h-1zM384.7 1171.2h1v1h-1z"/><path fill="#898989" d="M384.9 1170.7h1v1h-1z"/><path fill="#8d8d8d" d="M414.9 1172.7h1v1h-1zM384.1 1104h1v1h-1zM419.8 1147.4h1v1h-1zM381.7 1119.8h1v1h-1z"/><path fill="#8b8b8b" d="M418.5 1157h1v1h-1zM410 1095.9h1v1h-1zM388.5 1096.4h1v1h-1zM403.3 1089.6h1v1h-1zM415.3 1116h1v1h-1zM399.1 1089.1h1v1h-1z"/><path fill="#838383" d="M406.2 1091.2h1v1h-1z"/><path fill="#909090" d="M412.6 1110.4h1v1h-1zM395.9 1089.9h1v1h-1zM384.4 1109.3h1v1h-1zM411.4 1097h1v1h-1z"/><path fill="#9c9c9c" d="M394.4 1175.8h1v1h-1zM419.6 1136.2h1v1h-1zM404.3 1175.9h1v1h-1z"/><path fill="#818181" d="M381.2 1139.2h1v1h-1zM411.7 1100.7h1v1h-1z"/><path fill="#8e8e8e" d="M417.3 1160h1v1h-1z"/><path fill="#989898" d="M393.4 1175.6h1v1h-1zM417.5 1158.3h1v1h-1z"/><path fill="#969696" d="M409.6 1095.3h1v1h-1zM419.3 1136.4h1v1h-1z"/><path fill="#828282" d="M396.6 1090.2h1v1h-1z"/><path fill="#999999" d="M399.5 1088.8h1v1h-1z"/><path fill="#949494" d="M389.6 1175.5h1v1h-1z"/><path fill="#a8a8a8" d="M414.9 1112.5h1v1h-1zM385.1 1099.5h1v1h-1z"/><path fill="#a4a4a4" d="M404.9 1089.2h1v1h-1z"/><path fill="#858585" d="M417.1 1155.8h1v1h-1z"/><path fill="#9d9d9d" d="M382.7 1115.3h1v1h-1z"/><path d="M386.1,1172C381.2,1167.4 385,1152 384.9,1144.6C384.8,1137.2 385,1133.3 385.3,1127.7C385.6,1122.1 385.9,1115.2 386.6,1110.7C387.3,1106.2 388.2,1103.3 389.5,1100.6C390.8,1097.9 392.6,1096 394.6,1094.7C396.6,1093.4 399.3,1092.9 401.4,1093C403.5,1093.1 405.7,1094 407.3,1095.5C408.9,1097 410.2,1099 411.1,1102.3C412,1105.5 411.8,1110.8 412.4,1115C413,1119.2 414.2,1122.8 414.9,1127.7C415.6,1132.6 416.5,1139.7 416.6,1144.6C416.7,1149.5 416.1,1152.7 415.7,1157.3C415.3,1161.9 418.9,1169.5 414,1172C409.1,1174.5 391,1176.6 386.1,1172Z" fill="#000" stroke="#000" stroke-width="2.4" stroke-linejoin="round" filter="url(#rough)"/><use href="#p47" transform="matrix(0.970 0 0 0.970 12 34.1)" fill="#b9b9b9"/><use href="#p47" transform="matrix(0.935 0 0 0.935 26.1 74.1)" fill="#9d9d9d"/><use href="#p47" transform="matrix(0.899 0 0 0.899 40.3 114.1)" fill="#8e8e8e"/><use href="#p47" transform="matrix(0.864 0 0 0.864 54.4 154.1)" fill="#828282"/><use href="#p47" transform="matrix(0.829 0 0 0.829 68.5 194.1)" fill="#787878"/><use href="#p47" transform="matrix(0.794 0 0 0.794 82.6 234.2)" fill="#6f6f6f"/><use href="#p47" transform="matrix(0.758 0 0 0.758 96.8 274.2)" fill="#666666"/><use href="#p47" transform="matrix(0.723 0 0 0.723 110.9 314.2)" fill="#5e5e5e"/><use href="#p47" transform="matrix(0.688 0 0 0.688 125 354.2)" fill="#575757"/><use href="#p47" transform="matrix(0.653 0 0 0.653 139.1 394.3)" fill="#505050"/><use href="#p47" transform="matrix(0.617 0 0 0.617 153.2 434.3)" fill="#494949"/><use href="#p47" transform="matrix(0.582 0 0 0.582 167.4 474.3)" fill="#424242"/><use href="#p47" transform="matrix(0.547 0 0 0.547 181.5 514.3)" fill="#3c3c3c"/><use href="#p47" transform="matrix(0.512 0 0 0.512 195.6 554.4)" fill="#363636"/><use href="#p47" transform="matrix(0.476 0 0 0.476 209.7 594.4)" fill="#303030"/><use href="#p47" transform="matrix(0.441 0 0 0.441 223.9 634.4)" fill="#2a2a2a"/><use href="#p47" transform="matrix(0.406 0 0 0.406 238 674.4)" fill="#242424"/><use href="#p47" transform="matrix(0.371 0 0 0.371 252.1 714.5)" fill="#1f1f1f"/><use href="#p47" transform="matrix(0.335 0 0 0.335 266.2 754.5)" fill="#191919"/><use href="#p47" transform="matrix(0.300 0 0 0.300 280.3 794.5)" fill="#141414"/><path d="M388.4,1166.1C384.3,1162.2 387.5,1149.3 387.4,1143.1C387.3,1136.9 387.5,1133.6 387.7,1128.9C388,1124.1 388.2,1118.4 388.8,1114.6C389.4,1110.8 390.1,1108.3 391.3,1106.1C392.4,1103.9 393.9,1102.2 395.5,1101.1C397.2,1100.1 399.5,1099.6 401.3,1099.7C403,1099.8 404.9,1100.5 406.2,1101.8C407.6,1103.1 408.7,1104.8 409.4,1107.5C410.1,1110.3 410,1114.6 410.5,1118.2C411,1121.8 412,1124.7 412.6,1128.9C413.2,1133 413.9,1138.9 414,1143.1C414.1,1147.2 413.6,1149.9 413.3,1153.7C412.9,1157.6 416,1164 411.8,1166.1C407.7,1168.1 392.5,1169.9 388.4,1166.1Z" fill="none" stroke="#bdbdbd" stroke-width="1.2"/><ellipse cx="399" cy="1106" rx="6.5" ry="9" fill="url(#sg48)"/><g filter="url(#rough2)"><ellipse cx="401.5" cy="1142" rx="9.3" ry="23" transform="rotate(0 401.5 1142)" fill="url(#rg49)" stroke="#c4c4c4" stroke-width="1.3"/><ellipse cx="401.4" cy="1143" rx="6.3" ry="16.5" transform="rotate(0 401.4 1143)" fill="url(#rg50)" stroke="#c4c4c4" stroke-width="1.3"/><ellipse cx="401.4" cy="1143" rx="4.2" ry="10.2" transform="rotate(0 401.4 1143)" fill="url(#rg51)" stroke="#c4c4c4" stroke-width="1.3"/><ellipse cx="401.4" cy="1143" rx="2.5" ry="5.5" transform="rotate(0 401.4 1143)" fill="url(#rg52)" stroke="#c4c4c4" stroke-width="1.3"/></g></g><rect x="380.6" y="1070.8" width="39.8" height="45.4" fill="none" stroke="#6a6ae6" stroke-width="1.05" style="mix-blend-mode:multiply"/><text x="416.1" y="1061.8" font-size="18" text-anchor="start" fill="#000" font-weight="normal" font-style="normal" >12.6</text><g clip-path="url(#ce2)"><path fill="#969696" d="M645.3 1175.4h1v1h-1zM651.9 1129.1h1v1h-1zM644.8 1105.9h1v1h-1zM628 1089.4h1v1h-1zM653.2 1150.2h1v1h-1z"/><path fill="#000000" d="M650.2 1145.3h1v1h-1zM621.5 1168.2h1v1h-1zM632 1172.4h1v1h-1zM647.5 1174.8h1v1h-1zM616.7 1126.7h1v1h-1zM646.2 1115.9h1v1h-1zM618.5 1117.4h1v1h-1zM617.1 1143h1v1h-1zM642.2 1097.5h1v1h-1zM617.9 1155.2h1v1h-1zM646.8 1116h1v1h-1zM618.6 1117.1h1v1h-1zM634.8 1091.5h1v1h-1zM630.7 1092.4h1v1h-1zM621.1 1100.2h1v1h-1zM621.8 1100.7h1v1h-1zM619.4 1107.2h1v1h-1zM617.3 1118.4h1v1h-1zM624 1173.2h1v1h-1zM650.8 1147.9h1v1h-1zM639.7 1093h1v1h-1zM623.8 1097.4h1v1h-1zM618.2 1114.7h1v1h-1zM642.9 1100.6h1v1h-1zM650.2 1147.3h1v1h-1zM642.8 1099.7h1v1h-1zM637.5 1090.9h1v1h-1zM645.8 1116h1v1h-1zM644.1 1108.8h1v1h-1zM617.3 1123.3h1v1h-1zM631.5 1172.3h1v1h-1zM622.9 1173.9h1v1h-1zM638.9 1092.2h1v1h-1zM649.8 1136.6h1v1h-1zM648.2 1120.6h1v1h-1zM648.4 1166.9h1v1h-1zM617.7 1112.7h1v1h-1zM620 1161h1v1h-1zM650.1 1131.9h1v1h-1zM622.2 1095.5h1v1h-1zM617.5 1129.2h1v1h-1zM623.7 1095h1v1h-1zM643.8 1094.9h1v1h-1zM616.7 1124.3h1v1h-1zM615.7 1119.7h1v1h-1zM638.4 1172.6h1v1h-1zM648.4 1167.1h1v1h-1zM638.8 1092.1h1v1h-1zM650.8 1129.9h1v1h-1zM625.6 1091.9h1v1h-1zM651.7 1145.5h1v1h-1zM617.5 1142.4h1v1h-1zM616.3 1129.1h1v1h-1zM634.3 1090.8h1v1h-1zM619 1153h1v1h-1zM647.8 1120.8h1v1h-1zM617.4 1110.2h1v1h-1zM649.8 1146.9h1v1h-1zM651 1154.6h1v1h-1zM637.1 1092.4h1v1h-1zM635.6 1090h1v1h-1zM625.3 1094.7h1v1h-1zM640.8 1092.2h1v1h-1zM643.8 1098.1h1v1h-1zM632.2 1173h1v1h-1zM626.1 1174.1h1v1h-1zM624.5 1095.5h1v1h-1zM630.4 1091.8h1v1h-1zM651.9 1146.1h1v1h-1zM621.7 1164.5h1v1h-1zM619.6 1097.6h1v1h-1zM634.1 1091.4h1v1h-1zM650.9 1137.7h1v1h-1zM650 1155.5h1v1h-1zM622.8 1168.9h1v1h-1zM640.8 1093.8h1v1h-1zM636.4 1091.4h1v1h-1zM630.6 1092.1h1v1h-1zM636.7 1173.1h1v1h-1zM619.2 1100.3h1v1h-1zM646.6 1114.3h1v1h-1zM640.4 1092.2h1v1h-1zM629.6 1090.3h1v1h-1zM628.5 1090.1h1v1h-1zM650.3 1143.2h1v1h-1zM649.7 1131h1v1h-1zM617 1145h1v1h-1zM645.3 1107.8h1v1h-1zM632.1 1090.8h1v1h-1zM651.8 1136.4h1v1h-1zM639.3 1172.2h1v1h-1zM642 1097.5h1v1h-1zM640.8 1091.2h1v1h-1zM640.4 1094.5h1v1h-1zM648.7 1128.3h1v1h-1zM623 1093.4h1v1h-1zM619.9 1107.5h1v1h-1zM630.7 1172.9h1v1h-1zM644.1 1105.7h1v1h-1zM648.7 1119.8h1v1h-1zM619.5 1098.2h1v1h-1zM618 1155.6h1v1h-1zM649.8 1128h1v1h-1zM627.3 1092.4h1v1h-1zM651.2 1157h1v1h-1zM616.8 1111.7h1v1h-1zM621.5 1097.4h1v1h-1zM616.7 1114.3h1v1h-1zM622.1 1173.3h1v1h-1zM618.6 1154.3h1v1h-1zM648.9 1129h1v1h-1zM643.3 1106.6h1v1h-1zM616.7 1119.8h1v1h-1zM648.9 1157.9h1v1h-1zM650.7 1148.1h1v1h-1zM622.7 1096.7h1v1h-1zM624.4 1094h1v1h-1zM643.2 1107h1v1h-1zM649.9 1125.4h1v1h-1zM635.3 1172.5h1v1h-1zM649.3 1168.6h1v1h-1zM617.2 1152.8h1v1h-1zM621.5 1096.4h1v1h-1zM652.6 1139.7h1v1h-1zM632 1172.1h1v1h-1zM621.8 1173.6h1v1h-1zM649.8 1159.4h1v1h-1zM640.1 1173.4h1v1h-1zM651 1156h1v1h-1zM617.6 1108.6h1v1h-1zM649.6 1169.1h1v1h-1zM616.6 1120.5h1v1h-1zM650.1 1164.1h1v1h-1zM648.8 1157.9h1v1h-1zM627.2 1091.9h1v1h-1zM647.8 1120.6h1v1h-1zM641.9 1096.1h1v1h-1zM647.4 1172.4h1v1h-1zM622.4 1169.8h1v1h-1zM616.1 1116.6h1v1h-1zM622.8 1094.4h1v1h-1zM647.7 1112.2h1v1h-1zM650.4 1141.5h1v1h-1zM616.5 1141.6h1v1h-1zM618.1 1119.8h1v1h-1zM619.1 1158.1h1v1h-1zM622.4 1097.5h1v1h-1zM642.4 1172.6h1v1h-1zM631.3 1091.6h1v1h-1zM632.8 1090.3h1v1h-1zM634.1 1091.1h1v1h-1zM649.2 1169.5h1v1h-1zM620.7 1101.5h1v1h-1zM622.1 1096.6h1v1h-1zM619.4 1111.7h1v1h-1zM647.9 1116.8h1v1h-1zM617.9 1112.6h1v1h-1zM650 1149.5h1v1h-1zM646.4 1112.1h1v1h-1zM617 1129.5h1v1h-1zM650.9 1153.1h1v1h-1zM621.9 1164.8h1v1h-1zM649.8 1143.3h1v1h-1zM645.1 1111.5h1v1h-1zM617.7 1116.8h1v1h-1zM651.2 1151.3h1v1h-1zM633.6 1090.8h1v1h-1zM648.1 1173.2h1v1h-1zM625.7 1173.3h1v1h-1zM652.1 1139.7h1v1h-1zM615.1 1120.8h1v1h-1zM642.5 1095h1v1h-1zM651.2 1163h1v1h-1zM617.1 1131.1h1v1h-1zM617.6 1110.4h1v1h-1zM620.2 1101.3h1v1h-1zM615.2 1123.9h1v1h-1zM633.2 1090.8h1v1h-1zM618.5 1103.6h1v1h-1zM635.5 1090.7h1v1h-1zM650.5 1151.7h1v1h-1zM615.2 1129.8h1v1h-1zM651.5 1147.4h1v1h-1zM616.6 1116.4h1v1h-1zM642.8 1105.4h1v1h-1zM628.8 1091.8h1v1h-1zM648.2 1117.5h1v1h-1zM640.6 1092.9h1v1h-1zM640.9 1094.4h1v1h-1zM645.8 1112.3h1v1h-1zM650 1144.3h1v1h-1zM620.6 1099.9h1v1h-1zM616.9 1131.3h1v1h-1zM625.1 1093.9h1v1h-1zM644 1096h1v1h-1zM650.2 1160.8h1v1h-1zM633.2 1091.9h1v1h-1zM646.3 1116.1h1v1h-1zM650.6 1143.7h1v1h-1zM650.4 1127.6h1v1h-1zM621.2 1168.9h1v1h-1zM645.1 1101.1h1v1h-1zM625.6 1173.7h1v1h-1zM647.5 1122.7h1v1h-1zM638.8 1092.1h1v1h-1zM630.1 1172h1v1h-1zM652.4 1143.7h1v1h-1zM617.1 1116.4h1v1h-1zM650 1150.7h1v1h-1zM624.3 1094.7h1v1h-1zM633.4 1091.5h1v1h-1zM643.1 1097.2h1v1h-1zM649.3 1122.3h1v1h-1zM643.5 1103.8h1v1h-1zM647.8 1173h1v1h-1zM617.1 1120.4h1v1h-1zM641.4 1093.3h1v1h-1zM640.6 1092.7h1v1h-1zM637.2 1092h1v1h-1zM619.4 1166.2h1v1h-1zM615.3 1140.8h1v1h-1zM617 1124.8h1v1h-1zM645.9 1104.2h1v1h-1zM627.3 1091h1v1h-1zM650.3 1146.3h1v1h-1zM641.8 1096.2h1v1h-1zM622.2 1165.8h1v1h-1zM633.9 1091.1h1v1h-1zM649 1162.3h1v1h-1zM640.4 1093.7h1v1h-1zM641.8 1094.6h1v1h-1zM646.8 1116.5h1v1h-1zM645.1 1103.3h1v1h-1zM623.5 1098.1h1v1h-1zM651.3 1150.3h1v1h-1zM639.6 1093.2h1v1h-1zM650 1164.9h1v1h-1zM618.6 1114.4h1v1h-1zM619.6 1162.9h1v1h-1zM621.9 1164.6h1v1h-1zM627.5 1090.9h1v1h-1zM624.8 1094.7h1v1h-1zM645.7 1111.2h1v1h-1zM645.3 1111h1v1h-1zM620 1105.1h1v1h-1zM620.6 1099.1h1v1h-1zM616.2 1125.1h1v1h-1zM617 1124.7h1v1h-1zM644.4 1104.1h1v1h-1zM616.8 1110.5h1v1h-1zM650.2 1154.4h1v1h-1zM628.4 1091.6h1v1h-1zM643.9 1099.9h1v1h-1zM623.9 1096.8h1v1h-1zM638.7 1092.6h1v1h-1zM647.5 1122.2h1v1h-1zM645.9 1119.5h1v1h-1zM619.2 1158.7h1v1h-1zM642 1093.3h1v1h-1zM631.1 1092.1h1v1h-1zM649.1 1134.7h1v1h-1zM620.4 1170.4h1v1h-1zM618.2 1122.9h1v1h-1zM616.5 1108.1h1v1h-1zM639.7 1173.8h1v1h-1zM651.6 1146.2h1v1h-1zM641.2 1094.6h1v1h-1zM621.5 1173.8h1v1h-1zM617.3 1118h1v1h-1zM625.5 1092.5h1v1h-1zM639.1 1090h1v1h-1zM651 1141.2h1v1h-1zM650 1160.1h1v1h-1zM616.9 1135h1v1h-1zM619.7 1102.3h1v1h-1zM616.4 1145.3h1v1h-1zM636.2 1089.9h1v1h-1zM635.8 1092.1h1v1h-1zM643.4 1097.4h1v1h-1zM651.4 1157.6h1v1h-1zM616.1 1124.5h1v1h-1zM649.2 1171.5h1v1h-1zM624.9 1092h1v1h-1zM625.4 1093.2h1v1h-1zM621.1 1100.9h1v1h-1zM646.4 1120h1v1h-1zM650.6 1148.5h1v1h-1zM651.7 1151.3h1v1h-1zM636.9 1172.2h1v1h-1zM649 1131.3h1v1h-1zM641 1094.8h1v1h-1zM637.6 1092.3h1v1h-1zM637 1091.5h1v1h-1zM648 1120.8h1v1h-1zM650.8 1135.6h1v1h-1zM622.5 1172.8h1v1h-1zM643.7 1095.9h1v1h-1zM636.1 1091.9h1v1h-1zM618.3 1103.7h1v1h-1zM642 1096.9h1v1h-1zM644.9 1101.6h1v1h-1zM625.3 1094.1h1v1h-1zM634.7 1172.3h1v1h-1zM623.8 1095.4h1v1h-1zM621.9 1097.3h1v1h-1zM615.5 1137.6h1v1h-1zM626 1095.3h1v1h-1zM622.4 1164.7h1v1h-1zM648.2 1166.6h1v1h-1zM646.8 1108.2h1v1h-1zM649.5 1159h1v1h-1zM615.6 1138.5h1v1h-1zM649.5 1129.6h1v1h-1zM648.2 1123.1h1v1h-1zM635.2 1091.8h1v1h-1zM640.1 1092.6h1v1h-1zM639 1092.2h1v1h-1zM641.3 1095.3h1v1h-1zM637.1 1091.4h1v1h-1zM624.2 1094.4h1v1h-1zM650.4 1158.6h1v1h-1zM625 1092.9h1v1h-1zM617.8 1107.8h1v1h-1zM650.3 1133.5h1v1h-1zM624.9 1094.3h1v1h-1zM623.6 1095.6h1v1h-1zM645.5 1106.1h1v1h-1zM616.6 1125.7h1v1h-1zM648.1 1123.4h1v1h-1zM641.3 1096.2h1v1h-1zM649.1 1132.2h1v1h-1zM622.5 1096h1v1h-1zM618.3 1107.9h1v1h-1zM623.7 1172.3h1v1h-1zM626.5 1091.6h1v1h-1zM617 1148.8h1v1h-1zM621.5 1168.1h1v1h-1zM651.1 1145.8h1v1h-1zM617.3 1142.4h1v1h-1zM619.5 1107.1h1v1h-1zM617.6 1121h1v1h-1zM616.4 1124h1v1h-1zM649.8 1173.2h1v1h-1zM615.8 1132.9h1v1h-1zM625.3 1093.9h1v1h-1zM650.8 1140.9h1v1h-1zM649.6 1137.3h1v1h-1zM616.2 1124.2h1v1h-1zM648 1127.5h1v1h-1zM617.4 1116.2h1v1h-1zM619.6 1102.6h1v1h-1zM617.3 1121.5h1v1h-1zM626.4 1091.3h1v1h-1zM623.8 1172.6h1v1h-1zM617 1121.8h1v1h-1zM618.4 1149.6h1v1h-1zM645.3 1103.2h1v1h-1zM645.4 1110.1h1v1h-1zM649.8 1134.2h1v1h-1zM640.8 1171.9h1v1h-1zM617.1 1113.8h1v1h-1zM625.4 1094.2h1v1h-1zM625.6 1092.7h1v1h-1zM627.8 1092.4h1v1h-1zM642.7 1172.3h1v1h-1zM635.2 1090.9h1v1h-1zM634.9 1091.7h1v1h-1zM617.4 1123.9h1v1h-1zM618.7 1157h1v1h-1zM644.9 1106.1h1v1h-1zM632 1091.6h1v1h-1zM649.2 1127.3h1v1h-1zM620.8 1099h1v1h-1zM650.1 1153.7h1v1h-1zM618.3 1106.9h1v1h-1zM643.8 1095.5h1v1h-1zM649.1 1133.8h1v1h-1zM617.5 1153.1h1v1h-1zM614.8 1131h1v1h-1zM631.9 1090.5h1v1h-1zM642.9 1173.9h1v1h-1zM650 1171.4h1v1h-1zM616.4 1133h1v1h-1zM650.2 1149.7h1v1h-1zM623.8 1094.1h1v1h-1zM644.6 1107h1v1h-1zM619.4 1106.1h1v1h-1zM642.1 1097.7h1v1h-1zM616.6 1144.8h1v1h-1zM635.1 1092h1v1h-1zM645.7 1108.2h1v1h-1zM652.7 1139.5h1v1h-1zM647.1 1122h1v1h-1zM615.9 1119.6h1v1h-1zM647.9 1118.8h1v1h-1zM644.2 1098.2h1v1h-1zM627.3 1092.8h1v1h-1zM625.7 1172.1h1v1h-1zM626.1 1172.5h1v1h-1zM624.4 1095.1h1v1h-1zM642.8 1094.1h1v1h-1zM651.4 1149.9h1v1h-1zM616.5 1149h1v1h-1zM649.6 1146.2h1v1h-1zM640 1092.9h1v1h-1zM617 1124.5h1v1h-1zM650.4 1151h1v1h-1zM626.8 1092.3h1v1h-1zM629 1093.1h1v1h-1zM629.9 1172.4h1v1h-1zM636.5 1089.5h1v1h-1zM626.8 1174.5h1v1h-1zM651 1156h1v1h-1zM650.2 1153.5h1v1h-1zM639.8 1093.6h1v1h-1zM623.4 1097.4h1v1h-1zM617.6 1145.2h1v1h-1zM615.2 1139.3h1v1h-1zM642.1 1098.4h1v1h-1z"/><path fill="#9d9d9d" d="M614.8 1147.9h1v1h-1zM643.2 1097.8h1v1h-1z"/><path fill="#aaaaaa" d="M644.5 1093.7h1v1h-1zM654.6 1146.2h1v1h-1zM643.5 1094.3h1v1h-1zM631.8 1086.2h1v1h-1zM645.1 1097.7h1v1h-1zM637.8 1086.7h1v1h-1zM616.6 1105.7h1v1h-1zM633.8 1086.3h1v1h-1zM612.2 1129.7h1v1h-1zM643.9 1177.4h1v1h-1zM653.9 1133.8h1v1h-1zM648.6 1110.9h1v1h-1zM650.7 1114.7h1v1h-1zM636 1086.3h1v1h-1zM653.2 1163h1v1h-1zM653.5 1126h1v1h-1zM620.1 1093.1h1v1h-1zM615.3 1105.2h1v1h-1zM649.2 1113.6h1v1h-1zM639.2 1087.6h1v1h-1zM625.6 1088.6h1v1h-1zM635.2 1086.6h1v1h-1zM612.9 1144.8h1v1h-1zM655 1132.8h1v1h-1zM650.7 1166.4h1v1h-1zM638.9 1086.9h1v1h-1zM633.8 1086.8h1v1h-1zM613.8 1148.6h1v1h-1zM650.7 1115.1h1v1h-1zM615.7 1111.3h1v1h-1zM646.4 1099.9h1v1h-1zM646.7 1105.9h1v1h-1zM618.3 1097.6h1v1h-1zM635.2 1087.4h1v1h-1zM616.1 1156.5h1v1h-1zM621.5 1093h1v1h-1zM623.2 1089.2h1v1h-1zM653.7 1155.3h1v1h-1zM650.3 1115.3h1v1h-1zM616.4 1104.1h1v1h-1zM615.2 1108.1h1v1h-1zM618.5 1101.7h1v1h-1zM652.5 1125h1v1h-1zM647.7 1107.7h1v1h-1zM652.9 1158.7h1v1h-1zM621.6 1092.7h1v1h-1zM620.7 1092.5h1v1h-1zM636.4 1086.8h1v1h-1zM654 1135.1h1v1h-1zM652.3 1125.7h1v1h-1zM639.1 1086.7h1v1h-1zM643.2 1093h1v1h-1zM618.5 1098.1h1v1h-1zM631.5 1086.6h1v1h-1zM613 1129.4h1v1h-1zM622 1092.4h1v1h-1zM642 1092.3h1v1h-1zM618.4 1096.5h1v1h-1zM613.3 1123.5h1v1h-1zM655.2 1144.3h1v1h-1zM627.6 1087.7h1v1h-1zM653.5 1145.6h1v1h-1zM643.3 1089.8h1v1h-1zM612.2 1138h1v1h-1zM653.4 1148.3h1v1h-1zM634.4 1177.4h1v1h-1zM655 1134h1v1h-1zM639.9 1087.8h1v1h-1zM615 1152.7h1v1h-1zM615.8 1111.8h1v1h-1zM613.7 1116.8h1v1h-1zM651.3 1121.8h1v1h-1zM621.9 1094h1v1h-1zM651.6 1161.6h1v1h-1zM615 1109.3h1v1h-1zM652.3 1162.2h1v1h-1zM643.1 1091.6h1v1h-1zM637.1 1177.2h1v1h-1zM612.6 1139h1v1h-1zM615.7 1110.3h1v1h-1zM613.1 1144h1v1h-1zM613 1120.8h1v1h-1zM652.8 1166.4h1v1h-1zM612.8 1151.1h1v1h-1zM622.6 1091.9h1v1h-1zM631.7 1086.4h1v1h-1zM647.4 1111.7h1v1h-1zM638.8 1087.9h1v1h-1zM651 1118.3h1v1h-1zM621.6 1173.8h1v1h-1zM652.7 1166h1v1h-1zM648.2 1112h1v1h-1zM651.1 1166.2h1v1h-1zM636.8 1087h1v1h-1zM653.1 1126.4h1v1h-1zM654 1141.7h1v1h-1zM629.6 1177.6h1v1h-1zM612.1 1142.7h1v1h-1zM641.2 1087.8h1v1h-1zM614.6 1155.8h1v1h-1zM623.5 1091.5h1v1h-1zM644 1092.7h1v1h-1zM617.6 1103.5h1v1h-1zM612.4 1151.6h1v1h-1zM652.5 1152.4h1v1h-1zM618.1 1168.8h1v1h-1zM642.1 1091.2h1v1h-1zM619.3 1095h1v1h-1zM650.8 1117.6h1v1h-1zM615.9 1107.7h1v1h-1z"/><path fill="#a4a4a4" d="M629.5 1088.2h1v1h-1zM636.3 1176.1h1v1h-1zM620.3 1094.9h1v1h-1zM620.4 1097h1v1h-1zM617.4 1105.7h1v1h-1zM617.7 1102.7h1v1h-1zM645.3 1105.5h1v1h-1zM651.2 1172.8h1v1h-1z"/><path fill="#828282" d="M647.7 1112h1v1h-1zM647.8 1115.8h1v1h-1zM616.7 1110.3h1v1h-1zM641.6 1091h1v1h-1zM652 1161.4h1v1h-1z"/><path fill="#a6a6a6" d="M632.3 1087.7h1v1h-1zM644.3 1176.2h1v1h-1z"/><path fill="#808080" d="M643.8 1102.7h1v1h-1zM643.9 1100.9h1v1h-1zM628.3 1090.4h1v1h-1zM621.4 1167.3h1v1h-1z"/><path fill="#929292" d="M647.3 1109.1h1v1h-1zM617.5 1156.1h1v1h-1zM641.7 1092h1v1h-1zM620.5 1099.2h1v1h-1zM622.4 1171.9h1v1h-1z"/><path fill="#979797" d="M633.5 1088.1h1v1h-1zM644.4 1093.8h1v1h-1zM635.1 1175.7h1v1h-1zM636.5 1088.5h1v1h-1z"/><path fill="#949494" d="M636.9 1175.5h1v1h-1zM632.3 1088.6h1v1h-1z"/><path fill="#878787" d="M643.6 1098.7h1v1h-1zM645.2 1103h1v1h-1zM626.5 1175h1v1h-1z"/><path fill="#959595" d="M645.7 1102.6h1v1h-1z"/><path fill="#a8a8a8" d="M615.4 1152.5h1v1h-1zM643.2 1091.4h1v1h-1zM636.5 1087.7h1v1h-1zM621.4 1176h1v1h-1z"/><path fill="#a1a1a1" d="M636.6 1088h1v1h-1zM647.4 1108.6h1v1h-1zM646 1107.9h1v1h-1z"/><path fill="#868686" d="M637.8 1089.5h1v1h-1zM653.1 1143.2h1v1h-1zM651.7 1148.4h1v1h-1zM636.3 1089.2h1v1h-1zM651.5 1154.1h1v1h-1zM614.6 1139.5h1v1h-1z"/><path fill="#8e8e8e" d="M652 1151.1h1v1h-1zM631.7 1088.6h1v1h-1zM614 1133.7h1v1h-1zM651.6 1129.2h1v1h-1z"/><path fill="#898989" d="M645.4 1174.8h1v1h-1zM650.3 1121.3h1v1h-1z"/><path fill="#9f9f9f" d="M653.4 1141.9h1v1h-1zM618.3 1104h1v1h-1zM613.7 1122.6h1v1h-1zM613.2 1137.3h1v1h-1z"/><path fill="#a2a2a2" d="M639.6 1089.5h1v1h-1zM642.8 1093.7h1v1h-1zM613.4 1138.4h1v1h-1zM620.7 1171.9h1v1h-1z"/><path fill="#8d8d8d" d="M615.6 1116h1v1h-1zM650.6 1162.8h1v1h-1zM637.5 1089.2h1v1h-1z"/><path fill="#8b8b8b" d="M640.7 1091.3h1v1h-1zM624.5 1091.6h1v1h-1zM614.2 1129.6h1v1h-1z"/><path fill="#888888" d="M635.4 1175.1h1v1h-1zM646.9 1111.3h1v1h-1zM650.8 1162.4h1v1h-1z"/><path fill="#a5a5a5" d="M643.9 1099.5h1v1h-1zM613.4 1139.3h1v1h-1zM646.2 1107.8h1v1h-1zM622.6 1091.8h1v1h-1z"/><path fill="#9c9c9c" d="M622.4 1093.1h1v1h-1zM641.9 1091.6h1v1h-1zM634.6 1088.1h1v1h-1zM616.9 1111.6h1v1h-1z"/><path fill="#858585" d="M640.5 1090h1v1h-1zM645 1103h1v1h-1zM641.6 1090.9h1v1h-1zM640.7 1092.2h1v1h-1zM623.5 1175.2h1v1h-1z"/><path fill="#838383" d="M618.9 1100.5h1v1h-1zM648.4 1170.3h1v1h-1zM650.2 1171.8h1v1h-1z"/><path fill="#8f8f8f" d="M614.4 1150h1v1h-1z"/><path fill="#9b9b9b" d="M653 1150.8h1v1h-1zM627.1 1089.7h1v1h-1z"/><path fill="#848484" d="M648.8 1172.5h1v1h-1zM616.5 1154.7h1v1h-1zM644.7 1104.8h1v1h-1zM626.4 1090.7h1v1h-1z"/><path fill="#909090" d="M620.5 1097.8h1v1h-1zM648.8 1114h1v1h-1zM652 1164.4h1v1h-1z"/><path fill="#999999" d="M614.3 1124.4h1v1h-1z"/><path fill="#818181" d="M649 1170h1v1h-1zM620.7 1096.8h1v1h-1zM622.1 1094.9h1v1h-1z"/><path fill="#a7a7a7" d="M651.8 1123.9h1v1h-1z"/><path fill="#a3a3a3" d="M653.6 1150.5h1v1h-1zM627.2 1089h1v1h-1zM640.1 1176.1h1v1h-1z"/><path fill="#9e9e9e" d="M618 1102.8h1v1h-1zM645.7 1104.1h1v1h-1z"/><path fill="#989898" d="M651.7 1127h1v1h-1zM622.8 1092.3h1v1h-1z"/><path fill="#a9a9a9" d="M618.1 1160.7h1v1h-1zM652.9 1130.2h1v1h-1zM649.2 1115h1v1h-1z"/><path fill="#8a8a8a" d="M639.4 1090.4h1v1h-1z"/><path fill="#8c8c8c" d="M651.2 1162.4h1v1h-1z"/><path fill="#939393" d="M614.9 1150.8h1v1h-1z"/><path d="M623.7,1172C618.8,1168.1 619.5,1156.2 618.6,1148.8C617.7,1141.4 618.1,1134 618.2,1127.7C618.4,1121.4 618.9,1115.2 619.5,1110.7C620.1,1106.2 620.7,1103.3 622,1100.6C623.3,1097.9 625.1,1096 627.1,1094.7C629.1,1093.4 631.7,1092.8 633.8,1092.6C635.9,1092.4 638.2,1092.8 639.7,1093.8C641.2,1094.8 642.2,1096.1 643.1,1098.9C644,1101.7 644.1,1106.6 644.8,1110.7C645.5,1114.8 646.5,1118.5 647.4,1123.4C648.2,1128.3 649.5,1134.7 649.9,1140.3C650.3,1145.9 650.2,1152 649.9,1157.3C649.6,1162.6 652.6,1169.5 648.2,1172C643.8,1174.5 628.6,1175.9 623.7,1172Z" fill="#000" stroke="#000" stroke-width="2.4" stroke-linejoin="round" filter="url(#rough)"/><use href="#p53" transform="matrix(0.970 0 0 0.970 19 34.1)" fill="#b9b9b9"/><use href="#p53" transform="matrix(0.935 0 0 0.935 41.4 74.1)" fill="#9d9d9d"/><use href="#p53" transform="matrix(0.899 0 0 0.899 63.7 114.1)" fill="#8e8e8e"/><use href="#p53" transform="matrix(0.864 0 0 0.864 86.1 154.1)" fill="#828282"/><use href="#p53" transform="matrix(0.829 0 0 0.829 108.4 194.1)" fill="#787878"/><use href="#p53" transform="matrix(0.794 0 0 0.794 130.8 234.2)" fill="#6f6f6f"/><use href="#p53" transform="matrix(0.758 0 0 0.758 153.2 274.2)" fill="#666666"/><use href="#p53" transform="matrix(0.723 0 0 0.723 175.5 314.2)" fill="#5e5e5e"/><use href="#p53" transform="matrix(0.688 0 0 0.688 197.9 354.2)" fill="#575757"/><use href="#p53" transform="matrix(0.653 0 0 0.653 220.2 394.3)" fill="#505050"/><use href="#p53" transform="matrix(0.617 0 0 0.617 242.6 434.3)" fill="#494949"/><use href="#p53" transform="matrix(0.582 0 0 0.582 264.9 474.3)" fill="#424242"/><use href="#p53" transform="matrix(0.547 0 0 0.547 287.3 514.3)" fill="#3c3c3c"/><use href="#p53" transform="matrix(0.512 0 0 0.512 309.7 554.4)" fill="#363636"/><use href="#p53" transform="matrix(0.476 0 0 0.476 332 594.4)" fill="#303030"/><use href="#p53" transform="matrix(0.441 0 0 0.441 354.4 634.4)" fill="#2a2a2a"/><use href="#p53" transform="matrix(0.406 0 0 0.406 376.7 674.4)" fill="#242424"/><use href="#p53" transform="matrix(0.371 0 0 0.371 399.1 714.5)" fill="#1f1f1f"/><use href="#p53" transform="matrix(0.335 0 0 0.335 421.4 754.5)" fill="#191919"/><use href="#p53" transform="matrix(0.300 0 0 0.300 443.8 794.5)" fill="#141414"/><path d="M625.3,1166.1C621.2,1162.8 621.8,1152.8 621.1,1146.6C620.3,1140.4 620.6,1134.2 620.7,1128.9C620.9,1123.5 621.3,1118.4 621.8,1114.6C622.4,1110.8 622.9,1108.3 623.9,1106.1C625,1103.9 626.6,1102.3 628.2,1101.1C629.9,1100 632.1,1099.5 633.8,1099.4C635.6,1099.3 637.5,1099.5 638.8,1100.4C640.1,1101.3 640.9,1102.3 641.6,1104.7C642.4,1107 642.5,1111.2 643.1,1114.6C643.7,1118 644.5,1121.1 645.3,1125.3C646,1129.4 647,1134.7 647.4,1139.5C647.7,1144.2 647.6,1149.3 647.4,1153.7C647.1,1158.2 649.6,1164 645.9,1166.1C642.3,1168.1 629.5,1169.3 625.3,1166.1Z" fill="none" stroke="#bdbdbd" stroke-width="1.2"/><g filter="url(#rough2)"><ellipse cx="637.6" cy="1145" rx="8.5" ry="19" transform="rotate(0 637.6 1145)" fill="url(#rg54)" stroke="#c4c4c4" stroke-width="1.3"/><ellipse cx="637.6" cy="1145" rx="5.5" ry="13" transform="rotate(0 637.6 1145)" fill="url(#rg55)" stroke="#c4c4c4" stroke-width="1.3"/><ellipse cx="637.6" cy="1145" rx="3.2" ry="7" transform="rotate(0 637.6 1145)" fill="url(#rg56)" stroke="#c4c4c4" stroke-width="1.3"/><ellipse cx="631.3" cy="1112" rx="5.5" ry="10" transform="rotate(0 631.3 1112)" fill="url(#rg57)" stroke="#c4c4c4" stroke-width="1.3"/><ellipse cx="631.3" cy="1111" rx="3" ry="6" transform="rotate(0 631.3 1111)" fill="url(#rg58)" stroke="#c4c4c4" stroke-width="1.3"/></g><ellipse cx="631.3" cy="1110.7" rx="2" ry="3" fill="#000" opacity="0.85"/></g><rect x="614.2" y="1070.8" width="39.1" height="45.4" fill="none" stroke="#6a6ae6" stroke-width="1.05" style="mix-blend-mode:multiply"/><text x="651.2" y="1062.9" font-size="18" text-anchor="start" fill="#d622d2" font-weight="normal" font-style="normal" >17.5</text><g clip-path="url(#ce3)"><path fill="#000000" d="M881.5 1170.8h1v1h-1zM852.1 1117.9h1v1h-1zM850.7 1150.3h1v1h-1zM859.2 1093.4h1v1h-1zM875.5 1110.6h1v1h-1zM881.3 1125.2h1v1h-1zM876.9 1173.9h1v1h-1zM868.2 1092h1v1h-1zM882.2 1133.7h1v1h-1zM874.1 1101.4h1v1h-1zM875.2 1114.8h1v1h-1zM858.5 1095.9h1v1h-1zM878.2 1117.2h1v1h-1zM880.5 1174.3h1v1h-1zM872.7 1092.9h1v1h-1zM857.8 1166.4h1v1h-1zM851.4 1124.1h1v1h-1zM863.4 1090.4h1v1h-1zM874.8 1104.7h1v1h-1zM878.1 1174h1v1h-1zM851 1126.8h1v1h-1zM851.4 1144.2h1v1h-1zM851.7 1114.6h1v1h-1zM881.6 1168.9h1v1h-1zM864.4 1092.6h1v1h-1zM870.4 1093.9h1v1h-1zM867.4 1174h1v1h-1zM878.3 1172.1h1v1h-1zM872 1096.5h1v1h-1zM856.7 1170h1v1h-1zM852.4 1155.9h1v1h-1zM851.4 1141.9h1v1h-1zM850 1145.9h1v1h-1zM867.3 1173.9h1v1h-1zM870 1172h1v1h-1zM882.1 1147.6h1v1h-1zM867.7 1091h1v1h-1zM855 1101.7h1v1h-1zM876.2 1109.7h1v1h-1zM852.6 1123h1v1h-1zM856.5 1099.9h1v1h-1zM853.8 1164.2h1v1h-1zM877.6 1119.4h1v1h-1zM854.2 1106.1h1v1h-1zM871 1092.9h1v1h-1zM881.8 1124.3h1v1h-1zM881.5 1148h1v1h-1zM855.6 1102h1v1h-1zM854.3 1107.1h1v1h-1zM857.1 1095.6h1v1h-1zM877.6 1117h1v1h-1zM876.2 1113.1h1v1h-1zM870 1092.9h1v1h-1zM852.1 1112.2h1v1h-1zM856.6 1101.2h1v1h-1zM849.9 1140.4h1v1h-1zM875.9 1173.2h1v1h-1zM876.3 1104.7h1v1h-1zM851.5 1129.7h1v1h-1zM881.1 1168.4h1v1h-1zM875.8 1107.9h1v1h-1zM881.3 1153.7h1v1h-1zM879.1 1123.7h1v1h-1zM852.5 1116.3h1v1h-1zM880.4 1119.8h1v1h-1zM880.1 1124.5h1v1h-1zM871.5 1094.5h1v1h-1zM876.9 1172.2h1v1h-1zM853.7 1113.7h1v1h-1zM880.4 1164.1h1v1h-1zM851.6 1143.7h1v1h-1zM852.3 1114.1h1v1h-1zM862.9 1172.3h1v1h-1zM850.4 1143.3h1v1h-1zM879 1123.8h1v1h-1zM850.9 1127.5h1v1h-1zM882.7 1152.1h1v1h-1zM873.3 1092.7h1v1h-1zM850.6 1139.5h1v1h-1zM882.6 1141h1v1h-1zM855.9 1165.6h1v1h-1zM877 1113.7h1v1h-1zM853.8 1112.9h1v1h-1zM862.2 1093.7h1v1h-1zM878.7 1117.2h1v1h-1zM851.7 1144.5h1v1h-1zM851.6 1123h1v1h-1zM860.6 1095h1v1h-1zM870 1172.4h1v1h-1zM868.2 1090.4h1v1h-1zM879.7 1120.5h1v1h-1zM859.4 1093.4h1v1h-1zM878.7 1122.4h1v1h-1zM874.5 1104.4h1v1h-1zM851.4 1144.9h1v1h-1zM853.5 1115.6h1v1h-1zM874.7 1103.6h1v1h-1zM880.7 1127.3h1v1h-1zM851.7 1139.2h1v1h-1zM851.5 1131.8h1v1h-1zM853.1 1109.9h1v1h-1zM875.5 1114h1v1h-1zM849.7 1130.4h1v1h-1zM851.5 1122.8h1v1h-1zM851.4 1155.3h1v1h-1zM881.2 1151.5h1v1h-1zM852.1 1125.4h1v1h-1zM882.7 1146.3h1v1h-1zM850.6 1133h1v1h-1zM872.3 1096.8h1v1h-1zM862.3 1092.5h1v1h-1zM849.1 1130.5h1v1h-1zM857.6 1097h1v1h-1zM865.9 1091.1h1v1h-1zM854.4 1099.8h1v1h-1zM851.1 1138h1v1h-1zM881.1 1147.9h1v1h-1zM872.2 1098.8h1v1h-1zM872.5 1094.1h1v1h-1zM863.7 1172.2h1v1h-1zM854.9 1109.2h1v1h-1zM878.8 1121h1v1h-1zM882.6 1130.1h1v1h-1zM874.7 1096.1h1v1h-1zM852.5 1115.8h1v1h-1zM857.7 1173.9h1v1h-1zM869 1173.6h1v1h-1zM873.5 1099.5h1v1h-1zM862.8 1174h1v1h-1zM880.8 1160.5h1v1h-1zM883.1 1147.8h1v1h-1zM852.6 1150.7h1v1h-1zM874.9 1099.2h1v1h-1zM881.3 1168.5h1v1h-1zM851.2 1142h1v1h-1zM850.9 1115.9h1v1h-1zM852.3 1114.2h1v1h-1zM855.3 1101.2h1v1h-1zM850.4 1137.4h1v1h-1zM857.6 1174h1v1h-1zM855.3 1102.8h1v1h-1zM853.1 1161.3h1v1h-1zM870.4 1172h1v1h-1zM856.9 1168.9h1v1h-1zM882.7 1135.8h1v1h-1zM879.8 1170.7h1v1h-1zM881.1 1122.4h1v1h-1zM854.7 1159.7h1v1h-1zM855.1 1101.8h1v1h-1zM878.4 1121h1v1h-1zM851.3 1130.7h1v1h-1zM884 1136.1h1v1h-1zM850.9 1116.2h1v1h-1zM876.2 1174.9h1v1h-1zM851 1140.1h1v1h-1zM880.7 1160.7h1v1h-1zM863.6 1091.7h1v1h-1zM880.9 1127.9h1v1h-1zM853 1117.3h1v1h-1zM881.4 1133.1h1v1h-1zM853.4 1150.8h1v1h-1zM853.6 1107.7h1v1h-1zM879.6 1123.5h1v1h-1zM879.4 1122.8h1v1h-1zM873.7 1099.2h1v1h-1zM882.9 1149.4h1v1h-1zM882.6 1129.4h1v1h-1zM873.4 1097.8h1v1h-1zM855.6 1165.2h1v1h-1zM874.9 1104h1v1h-1zM851.9 1152.7h1v1h-1zM872.9 1101.3h1v1h-1zM878.6 1117.3h1v1h-1zM854.2 1103.8h1v1h-1zM882 1134.7h1v1h-1zM851.5 1139h1v1h-1zM882.1 1152h1v1h-1zM854.3 1159.5h1v1h-1zM851.9 1141.7h1v1h-1zM882.7 1134.9h1v1h-1zM882.4 1134.7h1v1h-1zM877.4 1114.9h1v1h-1zM874 1106.2h1v1h-1zM866.9 1092.5h1v1h-1zM881.1 1125.1h1v1h-1zM851.1 1116.6h1v1h-1zM883.2 1156.2h1v1h-1zM856.2 1101.1h1v1h-1zM851.5 1149.3h1v1h-1zM871.6 1094.5h1v1h-1zM856.1 1096.2h1v1h-1zM881.4 1142.2h1v1h-1zM867.9 1092.8h1v1h-1zM879.6 1120.6h1v1h-1zM872.7 1100.9h1v1h-1zM876.9 1116.9h1v1h-1zM877.6 1118.5h1v1h-1zM869.7 1091.9h1v1h-1zM853.6 1157.8h1v1h-1zM858.6 1096.9h1v1h-1zM868 1092.7h1v1h-1zM875.7 1113.7h1v1h-1zM875.5 1106.3h1v1h-1zM884.3 1138h1v1h-1zM853 1120.2h1v1h-1zM874.3 1113.6h1v1h-1zM874.2 1107.8h1v1h-1zM854.2 1104.8h1v1h-1zM851.8 1153.4h1v1h-1zM858.9 1172h1v1h-1zM849.5 1120h1v1h-1zM853.9 1103.1h1v1h-1zM868.4 1092.1h1v1h-1zM870.3 1093.2h1v1h-1zM883 1149.6h1v1h-1zM869.3 1093.4h1v1h-1zM862.9 1091.5h1v1h-1zM881.3 1133.3h1v1h-1zM882.2 1130.8h1v1h-1zM874.2 1104.2h1v1h-1zM878.4 1172.1h1v1h-1zM870.7 1172.7h1v1h-1zM850 1120.7h1v1h-1zM851 1114.8h1v1h-1zM864.9 1172.1h1v1h-1zM873.7 1108.2h1v1h-1zM857.3 1166.5h1v1h-1zM853.3 1111.4h1v1h-1zM858.6 1173.9h1v1h-1zM881.9 1170.8h1v1h-1zM851 1130.8h1v1h-1zM880 1124.7h1v1h-1zM867.7 1090.6h1v1h-1zM869.8 1090.8h1v1h-1zM867.2 1091.7h1v1h-1zM857.5 1170h1v1h-1zM877.2 1114.7h1v1h-1zM863.5 1091.8h1v1h-1zM876.7 1114.3h1v1h-1zM876.9 1119h1v1h-1zM855.2 1163h1v1h-1zM851 1139.6h1v1h-1zM874.1 1109h1v1h-1zM865.6 1173h1v1h-1zM852.6 1109.8h1v1h-1zM882.5 1135.2h1v1h-1zM850.2 1141.5h1v1h-1zM852.6 1110.6h1v1h-1zM852.6 1153.8h1v1h-1zM882.4 1156.4h1v1h-1zM881.5 1138.8h1v1h-1zM856.6 1098.7h1v1h-1zM863.1 1090.7h1v1h-1zM873.7 1103.7h1v1h-1zM874.5 1104.3h1v1h-1zM861.4 1171.9h1v1h-1zM882.9 1156.1h1v1h-1zM859.9 1173.1h1v1h-1zM862.6 1174.8h1v1h-1zM869.3 1092.3h1v1h-1zM872.6 1096.6h1v1h-1zM874.9 1100.5h1v1h-1zM849.9 1136h1v1h-1zM868.7 1091.1h1v1h-1zM860.2 1172.6h1v1h-1zM872.5 1173.2h1v1h-1zM874.7 1101.1h1v1h-1zM877.1 1114.9h1v1h-1zM850.1 1133h1v1h-1zM881 1128.8h1v1h-1zM882.1 1138.3h1v1h-1zM873.8 1098.8h1v1h-1zM855.5 1098.8h1v1h-1zM852.4 1109.9h1v1h-1zM883.3 1155h1v1h-1zM868 1092h1v1h-1zM861.8 1093.3h1v1h-1zM855.8 1167.6h1v1h-1zM879.5 1173.7h1v1h-1zM874.5 1095.3h1v1h-1zM858.5 1095.3h1v1h-1zM880.6 1168.3h1v1h-1zM862.5 1093.4h1v1h-1zM882.6 1166.2h1v1h-1zM850 1145.4h1v1h-1zM875.7 1103.4h1v1h-1zM883.6 1154.5h1v1h-1zM860.7 1095.5h1v1h-1zM865 1092.3h1v1h-1zM870.3 1172.3h1v1h-1zM871.4 1094.8h1v1h-1zM878 1173.9h1v1h-1zM875.6 1100.7h1v1h-1zM869.6 1092.8h1v1h-1zM866.4 1172.2h1v1h-1zM882.3 1163.7h1v1h-1zM874.1 1096.9h1v1h-1zM869.7 1092.6h1v1h-1zM849.5 1128.3h1v1h-1zM856.6 1098.1h1v1h-1zM862.1 1092.5h1v1h-1zM876.3 1116.6h1v1h-1zM880 1122.5h1v1h-1zM860.4 1094.9h1v1h-1zM858.2 1094.6h1v1h-1zM852.6 1145.4h1v1h-1zM876.8 1109.5h1v1h-1zM882.3 1153.7h1v1h-1zM881.1 1145.3h1v1h-1zM878.1 1120h1v1h-1zM857.6 1166.5h1v1h-1zM852.1 1114.6h1v1h-1zM851.7 1145.7h1v1h-1zM880.9 1163.9h1v1h-1zM851.1 1136.6h1v1h-1zM880.9 1128.3h1v1h-1zM877.7 1119.7h1v1h-1zM860.6 1094.5h1v1h-1zM859.1 1172.3h1v1h-1zM851.1 1140.6h1v1h-1zM872.4 1174h1v1h-1zM850.7 1116.2h1v1h-1zM874.5 1104.8h1v1h-1zM850.5 1123.9h1v1h-1zM854.5 1159.9h1v1h-1zM852.7 1111.3h1v1h-1zM852.5 1116.3h1v1h-1zM861.6 1091.9h1v1h-1zM865 1093h1v1h-1zM882 1146.9h1v1h-1zM873.8 1102.7h1v1h-1zM871.9 1092.9h1v1h-1zM867 1173.4h1v1h-1zM850 1136.3h1v1h-1zM850.5 1133h1v1h-1zM875.5 1103.3h1v1h-1zM883.7 1151.4h1v1h-1zM883.4 1149.8h1v1h-1zM878.4 1172.5h1v1h-1zM850.3 1134.6h1v1h-1zM850.3 1137.5h1v1h-1zM862.5 1092.4h1v1h-1zM878.2 1113.9h1v1h-1zM874.8 1102.9h1v1h-1zM868.3 1093.2h1v1h-1zM874.3 1106.3h1v1h-1zM849.3 1141.8h1v1h-1zM864.1 1091.3h1v1h-1zM871 1093.4h1v1h-1zM851.8 1144.6h1v1h-1zM851 1116.5h1v1h-1zM851.2 1132.6h1v1h-1zM855.4 1103.6h1v1h-1zM882.1 1131.7h1v1h-1zM881.7 1158.2h1v1h-1zM877.9 1114.1h1v1h-1zM876 1117.6h1v1h-1zM865.9 1092.7h1v1h-1zM870.7 1091.6h1v1h-1zM877.5 1119h1v1h-1zM850.6 1154.6h1v1h-1zM862.4 1092.4h1v1h-1zM883.3 1146.6h1v1h-1zM850.6 1144.4h1v1h-1zM851.9 1117.3h1v1h-1zM855.2 1163.5h1v1h-1zM850.3 1125h1v1h-1zM864.9 1172.3h1v1h-1zM877.2 1173.1h1v1h-1zM881.5 1145.7h1v1h-1zM852.3 1109.7h1v1h-1zM870.8 1093.9h1v1h-1zM872.8 1094.3h1v1h-1zM873.7 1098.1h1v1h-1zM872.3 1094.6h1v1h-1zM880.7 1122.9h1v1h-1zM881.3 1144.8h1v1h-1zM882.1 1154.4h1v1h-1zM875.6 1106.8h1v1h-1zM882 1137.2h1v1h-1zM865.9 1092.6h1v1h-1zM874.5 1099.3h1v1h-1zM857.4 1096.9h1v1h-1z"/><path fill="#a4a4a4" d="M848.1 1143.4h1v1h-1zM873.4 1091h1v1h-1zM856.5 1094.5h1v1h-1zM864.3 1088.9h1v1h-1zM875.9 1108.1h1v1h-1zM882.4 1169.5h1v1h-1z"/><path fill="#aaaaaa" d="M850.8 1161h1v1h-1zM849.5 1154.8h1v1h-1zM874.9 1176.2h1v1h-1zM863.9 1087.9h1v1h-1zM852.9 1102.8h1v1h-1zM855.5 1093.7h1v1h-1zM858 1092.1h1v1h-1zM849 1150.6h1v1h-1zM874.2 1089.3h1v1h-1zM870.8 1176.8h1v1h-1zM873.8 1089.5h1v1h-1zM850 1108.7h1v1h-1zM886.3 1142.9h1v1h-1zM846.5 1143.8h1v1h-1zM886.6 1142.2h1v1h-1zM872.2 1089.9h1v1h-1zM849.9 1109.1h1v1h-1zM883.8 1173.6h1v1h-1zM875.1 1097.5h1v1h-1zM881 1116.7h1v1h-1zM847.7 1153.4h1v1h-1zM879.5 1113.4h1v1h-1zM876.1 1105.1h1v1h-1zM873.3 1177.4h1v1h-1zM855.4 1095.3h1v1h-1zM860.4 1089.4h1v1h-1zM863.6 1087.4h1v1h-1zM880.5 1117h1v1h-1zM848.4 1150.4h1v1h-1zM861.6 1177.4h1v1h-1zM847.7 1148.5h1v1h-1zM883 1163.5h1v1h-1zM881.9 1117.5h1v1h-1zM873.2 1094.1h1v1h-1zM878 1177.6h1v1h-1zM874.1 1095.6h1v1h-1zM886.7 1133.6h1v1h-1zM883.8 1122.2h1v1h-1zM866.8 1176.7h1v1h-1zM881.8 1173.7h1v1h-1zM878.2 1111.2h1v1h-1zM885.5 1125.3h1v1h-1zM859.2 1091.3h1v1h-1zM850.1 1112.7h1v1h-1zM878.1 1110.2h1v1h-1zM881.9 1116.8h1v1h-1zM879.2 1111.9h1v1h-1zM883 1119.8h1v1h-1zM875 1093h1v1h-1zM850.6 1105.8h1v1h-1zM855.1 1167h1v1h-1zM863.1 1088.1h1v1h-1zM850.9 1159.7h1v1h-1zM856.5 1095.2h1v1h-1zM854.8 1096.6h1v1h-1zM851.4 1107.1h1v1h-1zM851.9 1100.8h1v1h-1zM847.7 1146.9h1v1h-1zM870.3 1088.7h1v1h-1zM869.9 1088.7h1v1h-1zM886.4 1156.5h1v1h-1zM872.8 1177.2h1v1h-1zM854.1 1098.6h1v1h-1zM866.1 1087.5h1v1h-1zM881.2 1114.1h1v1h-1zM885.9 1150.4h1v1h-1zM870.9 1088.5h1v1h-1zM886.7 1149.5h1v1h-1zM881.6 1118.7h1v1h-1zM853.8 1166.5h1v1h-1zM869.7 1088.4h1v1h-1zM849.7 1154.1h1v1h-1zM877.6 1105h1v1h-1zM886.1 1152.7h1v1h-1zM856.8 1094h1v1h-1zM861.8 1089.2h1v1h-1zM879.3 1112.7h1v1h-1zM849 1109.8h1v1h-1zM870.4 1177.7h1v1h-1zM883.1 1170.5h1v1h-1zM850.7 1111.6h1v1h-1zM847.7 1118.4h1v1h-1zM849.2 1111.6h1v1h-1zM849.9 1113.5h1v1h-1zM884.2 1123.3h1v1h-1zM875.4 1104.8h1v1h-1zM850.7 1112.1h1v1h-1zM856.6 1176.7h1v1h-1zM876 1100.1h1v1h-1zM885 1127.9h1v1h-1zM876.1 1097.5h1v1h-1zM873.6 1090.6h1v1h-1zM870.8 1089.2h1v1h-1zM853.1 1098.8h1v1h-1zM848.4 1118.1h1v1h-1zM847.9 1124.4h1v1h-1zM870.9 1089h1v1h-1zM857.3 1092.1h1v1h-1zM857.8 1173.3h1v1h-1zM877.4 1111.1h1v1h-1zM848.5 1118.4h1v1h-1zM848.1 1153.3h1v1h-1zM852 1163.6h1v1h-1zM875.1 1092.9h1v1h-1zM873.3 1094h1v1h-1zM869.6 1087.3h1v1h-1zM846.8 1146.5h1v1h-1zM869.4 1177.6h1v1h-1zM851.3 1106.3h1v1h-1zM847.1 1127.3h1v1h-1zM864.1 1087.6h1v1h-1zM855.3 1095.4h1v1h-1zM884.5 1163.5h1v1h-1zM884 1121.8h1v1h-1zM876.2 1105h1v1h-1zM852.4 1161.4h1v1h-1zM875.1 1094.9h1v1h-1zM869.8 1177.3h1v1h-1zM872.4 1091.6h1v1h-1zM857.5 1177.2h1v1h-1zM846.5 1136.2h1v1h-1zM875.9 1097.3h1v1h-1zM886.1 1153.5h1v1h-1zM845.7 1138.9h1v1h-1zM847.4 1121.8h1v1h-1zM883.3 1120.4h1v1h-1zM886 1135.9h1v1h-1zM870.1 1176.8h1v1h-1zM846.1 1142.6h1v1h-1zM859.5 1090.8h1v1h-1z"/><path fill="#a5a5a5" d="M875.4 1095.3h1v1h-1z"/><path fill="#a1a1a1" d="M849.5 1120.6h1v1h-1zM847.3 1136.3h1v1h-1zM883 1175.3h1v1h-1zM860.5 1090.6h1v1h-1z"/><path fill="#949494" d="M852 1102.8h1v1h-1zM884.1 1130.5h1v1h-1zM867.9 1089.3h1v1h-1z"/><path fill="#8c8c8c" d="M861.9 1175.2h1v1h-1zM884.5 1146h1v1h-1zM866.1 1089.6h1v1h-1zM851.2 1115.1h1v1h-1zM875.1 1106.9h1v1h-1z"/><path fill="#838383" d="M848.5 1130.1h1v1h-1zM879.5 1118.3h1v1h-1zM877 1111.6h1v1h-1zM866.1 1090.1h1v1h-1zM873.6 1096.3h1v1h-1z"/><path fill="#858585" d="M884.8 1138h1v1h-1zM856.8 1094.3h1v1h-1zM868.2 1089.9h1v1h-1zM862.6 1090.8h1v1h-1zM876.7 1113.5h1v1h-1zM852.7 1103.1h1v1h-1z"/><path fill="#9e9e9e" d="M884.9 1131.8h1v1h-1zM878.5 1114.5h1v1h-1zM869.4 1176h1v1h-1z"/><path fill="#828282" d="M854.2 1099h1v1h-1zM870 1091.2h1v1h-1zM849.1 1128.2h1v1h-1zM866.3 1174.9h1v1h-1z"/><path fill="#909090" d="M872.5 1094.3h1v1h-1zM853 1159.5h1v1h-1zM863.1 1175.5h1v1h-1z"/><path fill="#9f9f9f" d="M853 1103.9h1v1h-1zM855.6 1169.4h1v1h-1z"/><path fill="#878787" d="M884.2 1133.3h1v1h-1zM866.8 1089.9h1v1h-1zM882.5 1171.3h1v1h-1zM849.5 1151.5h1v1h-1zM876.2 1175.3h1v1h-1z"/><path fill="#868686" d="M875.4 1101.9h1v1h-1zM882 1162.4h1v1h-1zM878.3 1115.5h1v1h-1zM879.5 1117.3h1v1h-1zM874.4 1105.2h1v1h-1z"/><path fill="#a0a0a0" d="M847.7 1128.8h1v1h-1zM866.5 1088.8h1v1h-1z"/><path fill="#9c9c9c" d="M883.1 1162.7h1v1h-1zM876.3 1108.5h1v1h-1zM869.8 1089h1v1h-1zM849.8 1152.8h1v1h-1zM883.8 1126.1h1v1h-1zM873 1094h1v1h-1z"/><path fill="#a6a6a6" d="M854.1 1163.6h1v1h-1zM867.4 1088.6h1v1h-1zM881.8 1119.5h1v1h-1zM884.9 1158.9h1v1h-1zM856.8 1092.6h1v1h-1zM881.3 1173.1h1v1h-1z"/><path fill="#979797" d="M875.7 1103.1h1v1h-1zM873.5 1094.3h1v1h-1zM873.8 1097.9h1v1h-1zM848.5 1127.6h1v1h-1z"/><path fill="#929292" d="M860.6 1091.1h1v1h-1zM874.3 1092.1h1v1h-1zM875.8 1107h1v1h-1z"/><path fill="#8f8f8f" d="M884.5 1146.1h1v1h-1zM869.8 1089.9h1v1h-1z"/><path fill="#999999" d="M870.2 1090.6h1v1h-1zM857.5 1094.6h1v1h-1zM878.5 1114.8h1v1h-1z"/><path fill="#9b9b9b" d="M853.7 1101.8h1v1h-1zM862.4 1175.8h1v1h-1zM872.3 1090.8h1v1h-1zM876.7 1111.6h1v1h-1zM857.5 1175.6h1v1h-1zM875.5 1098.2h1v1h-1z"/><path fill="#a2a2a2" d="M851.6 1159.5h1v1h-1zM872.6 1090.6h1v1h-1zM880 1115.3h1v1h-1zM885.2 1140.6h1v1h-1z"/><path fill="#9a9a9a" d="M866.9 1089.1h1v1h-1zM867.9 1089.4h1v1h-1zM850.2 1115.2h1v1h-1zM854 1100.5h1v1h-1z"/><path fill="#8a8a8a" d="M869.5 1090.8h1v1h-1zM863.1 1090h1v1h-1zM863.2 1175.3h1v1h-1zM867.7 1089.7h1v1h-1z"/><path fill="#a3a3a3" d="M881.9 1169.7h1v1h-1zM870.2 1090.3h1v1h-1zM848 1143h1v1h-1zM885.6 1136.2h1v1h-1z"/><path fill="#919191" d="M885.3 1141.7h1v1h-1zM851.1 1114.9h1v1h-1zM884.9 1136.9h1v1h-1z"/><path fill="#969696" d="M857.9 1092.9h1v1h-1zM876.4 1105.2h1v1h-1z"/><path fill="#8e8e8e" d="M866.6 1089.6h1v1h-1zM868.3 1089.9h1v1h-1zM876.7 1109.2h1v1h-1zM873.9 1099.5h1v1h-1zM867.5 1089.4h1v1h-1z"/><path fill="#888888" d="M852.4 1107h1v1h-1zM850.4 1112.1h1v1h-1zM865.6 1089.9h1v1h-1z"/><path fill="#9d9d9d" d="M851.5 1110.4h1v1h-1zM854.4 1100.3h1v1h-1z"/><path fill="#8d8d8d" d="M881.3 1121.9h1v1h-1zM856.5 1095.3h1v1h-1z"/><path fill="#a9a9a9" d="M853.7 1103.1h1v1h-1zM847 1133h1v1h-1z"/><path fill="#808080" d="M875.4 1109.3h1v1h-1zM849.1 1128.6h1v1h-1zM868.8 1090.1h1v1h-1z"/><path fill="#848484" d="M869.4 1091h1v1h-1zM883.7 1144h1v1h-1zM858 1094.1h1v1h-1z"/><path fill="#8b8b8b" d="M850.2 1147.3h1v1h-1zM879.1 1114.6h1v1h-1zM874.1 1092.4h1v1h-1zM882.6 1159.3h1v1h-1zM863.2 1175.3h1v1h-1z"/><path fill="#939393" d="M874.9 1095.9h1v1h-1zM883.3 1159.1h1v1h-1zM848.1 1129.2h1v1h-1z"/><path fill="#959595" d="M854.3 1100.6h1v1h-1zM867.6 1089.2h1v1h-1z"/><path fill="#989898" d="M884 1150.1h1v1h-1zM847.7 1132.9h1v1h-1z"/><path d="M859.5,1172C855,1168.8 854.8,1159 853.6,1153C852.4,1147 852.4,1141.7 852.3,1136.1C852.2,1130.5 852.7,1124.1 853.2,1119.2C853.7,1114.3 854.4,1110 855.3,1106.5C856.2,1103 857.3,1100.1 858.7,1098.1C860.1,1096 862.1,1094.9 863.8,1094.2C865.5,1093.5 867.2,1093.4 868.8,1093.8C870.3,1094.2 872.1,1094.7 873.1,1096.4C874.1,1098.1 874.3,1100.9 874.7,1104C875.1,1107.1 874.9,1111.8 875.6,1115C876.3,1118.2 878,1119.9 879,1123.4C880,1126.9 881,1131.2 881.5,1136.1C882,1141 882,1147 881.9,1153C881.8,1159 884.4,1168.8 880.7,1172C877,1175.2 864,1175.2 859.5,1172Z" fill="#000" stroke="#000" stroke-width="2.4" stroke-linejoin="round" filter="url(#rough)"/><use href="#p59" transform="matrix(0.970 0 0 0.970 26 34.1)" fill="#b9b9b9"/><use href="#p59" transform="matrix(0.935 0 0 0.935 56.6 74.1)" fill="#9d9d9d"/><use href="#p59" transform="matrix(0.899 0 0 0.899 87.2 114.1)" fill="#8e8e8e"/><use href="#p59" transform="matrix(0.864 0 0 0.864 117.7 154.1)" fill="#828282"/><use href="#p59" transform="matrix(0.829 0 0 0.829 148.3 194.1)" fill="#787878"/><use href="#p59" transform="matrix(0.794 0 0 0.794 178.9 234.2)" fill="#6f6f6f"/><use href="#p59" transform="matrix(0.758 0 0 0.758 209.4 274.2)" fill="#666666"/><use href="#p59" transform="matrix(0.723 0 0 0.723 240 314.2)" fill="#5e5e5e"/><use href="#p59" transform="matrix(0.688 0 0 0.688 270.6 354.2)" fill="#575757"/><use href="#p59" transform="matrix(0.653 0 0 0.653 301.2 394.3)" fill="#505050"/><use href="#p59" transform="matrix(0.617 0 0 0.617 331.7 434.3)" fill="#494949"/><use href="#p59" transform="matrix(0.582 0 0 0.582 362.3 474.3)" fill="#424242"/><use href="#p59" transform="matrix(0.547 0 0 0.547 392.9 514.3)" fill="#3c3c3c"/><use href="#p59" transform="matrix(0.512 0 0 0.512 423.5 554.4)" fill="#363636"/><use href="#p59" transform="matrix(0.476 0 0 0.476 454 594.4)" fill="#303030"/><use href="#p59" transform="matrix(0.441 0 0 0.441 484.6 634.4)" fill="#2a2a2a"/><use href="#p59" transform="matrix(0.406 0 0 0.406 515.2 674.4)" fill="#242424"/><use href="#p59" transform="matrix(0.371 0 0 0.371 545.8 714.5)" fill="#1f1f1f"/><use href="#p59" transform="matrix(0.335 0 0 0.335 576.3 754.5)" fill="#191919"/><use href="#p59" transform="matrix(0.300 0 0 0.300 606.9 794.5)" fill="#141414"/><path d="M860.7,1166.1C856.9,1163.4 856.8,1155.1 855.7,1150.1C854.7,1145.1 854.7,1140.7 854.7,1135.9C854.6,1131.2 855,1125.9 855.4,1121.7C855.8,1117.6 856.4,1114 857.2,1111.1C857.9,1108.1 858.8,1105.7 860,1104C861.2,1102.3 862.9,1101.3 864.3,1100.7C865.7,1100.1 867.2,1100.1 868.5,1100.4C869.8,1100.7 871.3,1101.1 872.1,1102.6C873,1104 873.1,1106.4 873.5,1109C873.8,1111.6 873.6,1115.5 874.2,1118.2C874.8,1120.9 876.3,1122.3 877.1,1125.3C877.9,1128.2 878.8,1131.8 879.2,1135.9C879.6,1140.1 879.6,1145.1 879.5,1150.1C879.4,1155.1 881.6,1163.4 878.5,1166.1C875.4,1168.7 864.5,1168.7 860.7,1166.1Z" fill="none" stroke="#bdbdbd" stroke-width="1.2"/><ellipse cx="864.6" cy="1107" rx="8" ry="10" fill="url(#sg60)"/><g filter="url(#rough2)"><ellipse cx="870.5" cy="1144" rx="9.5" ry="21" transform="rotate(0 870.5 1144)" fill="url(#rg61)" stroke="#c4c4c4" stroke-width="1.3"/><ellipse cx="870.5" cy="1144.6" rx="6.5" ry="15" transform="rotate(0 870.5 1144.6)" fill="url(#rg62)" stroke="#c4c4c4" stroke-width="1.3"/><ellipse cx="870.5" cy="1145" rx="4.2" ry="9.5" transform="rotate(0 870.5 1145)" fill="url(#rg63)" stroke="#c4c4c4" stroke-width="1.3"/><ellipse cx="870.5" cy="1145" rx="2.5" ry="5" transform="rotate(0 870.5 1145)" fill="url(#rg64)" stroke="#c4c4c4" stroke-width="1.3"/></g></g><rect x="847.9" y="1070.8" width="38.9" height="45.4" fill="none" stroke="#6a6ae6" stroke-width="1.05" style="mix-blend-mode:multiply"/><text x="888.6" y="1068.9" font-size="18" text-anchor="start" fill="#000" font-weight="normal" font-style="normal" >8.18</text><line x1="147.7" y1="689.5" x2="147.7" y2="862" stroke="#000" stroke-width="2" stroke-linecap="butt"/><line x1="146.7" y1="861" x2="402" y2="861" stroke="#000" stroke-width="2" stroke-linecap="butt"/><line x1="140.2" y1="861" x2="147.7" y2="861" stroke="#000" stroke-width="2" stroke-linecap="butt"/><text x="134.9" y="867.5" font-size="17.9" text-anchor="end" fill="#000" font-weight="normal" font-style="normal" >0</text><line x1="140.2" y1="827" x2="147.7" y2="827" stroke="#000" stroke-width="2" stroke-linecap="butt"/><text x="134.9" y="833.5" font-size="17.9" text-anchor="end" fill="#000" font-weight="normal" font-style="normal" >2,000</text><line x1="140.2" y1="793" x2="147.7" y2="793" stroke="#000" stroke-width="2" stroke-linecap="butt"/><text x="134.9" y="799.5" font-size="17.9" text-anchor="end" fill="#000" font-weight="normal" font-style="normal" >4,000</text><line x1="140.2" y1="759" x2="147.7" y2="759" stroke="#000" stroke-width="2" stroke-linecap="butt"/><text x="134.9" y="765.5" font-size="17.9" text-anchor="end" fill="#000" font-weight="normal" font-style="normal" >6,000</text><line x1="140.2" y1="725" x2="147.7" y2="725" stroke="#000" stroke-width="2" stroke-linecap="butt"/><text x="134.9" y="731.5" font-size="17.9" text-anchor="end" fill="#000" font-weight="normal" font-style="normal" >8,000</text><line x1="140.2" y1="691" x2="147.7" y2="691" stroke="#000" stroke-width="2" stroke-linecap="butt"/><text x="134.9" y="697.5" font-size="17.9" text-anchor="end" fill="#000" font-weight="normal" font-style="normal" >10,000</text><rect x="157.9" y="840.1" width="43.7" height="20.9" fill="#000000" stroke="none" stroke-width="0"/><path d="M168.8,835.1H190.8M179.8,835.1V841.1M168.8,841.1H190.8" stroke="#000" stroke-width="1.6" fill="none"/><rect x="221.4" y="836.2" width="43.9" height="24.8" fill="#808080" stroke="none" stroke-width="0"/><path d="M232.4,831.3H254.4M243.4,831.3V842.8M232.4,842.8H254.4" stroke="#000" stroke-width="1.6" fill="none"/><rect x="285.1" y="728.5" width="44" height="132.5" fill="#0404f4" stroke="none" stroke-width="0"/><path d="M296.1,710.6H318.1M307.1,710.6V747.2M296.1,747.2H318.1" stroke="#000" stroke-width="1.6" fill="none"/><rect x="348.9" y="835.7" width="44" height="25.3" fill="#ff800a" stroke="none" stroke-width="0"/><path d="M359.9,832.1H381.9M370.9,832.1V840.4M359.9,840.4H381.9" stroke="#000" stroke-width="1.6" fill="none"/><text x="276" y="883.8" font-size="18" text-anchor="middle" fill="#000" font-weight="normal" font-style="normal" >Tfh</text><text transform="translate(69.6,776.2) rotate(-90)" font-size="18.4" text-anchor="middle">Number/10<tspan dy="-6" font-size="12.5">6</tspan><tspan dy="6"> cells</tspan></text><text x="273" y="647.5" font-size="18" text-anchor="middle" fill="#000" font-weight="normal" font-style="normal" >NS</text><line x1="179.9" y1="655.2" x2="364" y2="655.2" stroke="#000" stroke-width="3"/><path d="M231.4,665.5L231.4,662.8M231.4,665.5L234,664.7M231.4,665.5L233,667.7M231.4,665.5L229.8,667.7M231.4,665.5L228.8,664.7M238.3,665.5L238.3,662.8M238.3,665.5L240.9,664.7M238.3,665.5L239.9,667.7M238.3,665.5L236.7,667.7M238.3,665.5L235.7,664.7M245.2,665.5L245.2,662.8M245.2,665.5L247.8,664.7M245.2,665.5L246.8,667.7M245.2,665.5L243.6,667.7M245.2,665.5L242.6,664.7" stroke="#000" stroke-width="1.35" fill="none" stroke-linecap="round"/><line x1="179.9" y1="676.3" x2="296.7" y2="676.3" stroke="#000" stroke-width="3"/><path d="M266.1,687.8L266.1,685M266.1,687.8L268.7,687M266.1,687.8L267.7,690M266.1,687.8L264.5,690M266.1,687.8L263.5,687M273,687.8L273,685M273,687.8L275.6,687M273,687.8L274.6,690M273,687.8L271.4,690M273,687.8L270.4,687M279.9,687.8L279.9,685M279.9,687.8L282.5,687M279.9,687.8L281.5,690M279.9,687.8L278.3,690M279.9,687.8L277.3,687" stroke="#000" stroke-width="1.35" fill="none" stroke-linecap="round"/><line x1="244.5" y1="699.2" x2="301.4" y2="699.2" stroke="#000" stroke-width="3"/><path d="M333.4,687.8L333.4,685M333.4,687.8L336,687M333.4,687.8L335,690M333.4,687.8L331.8,690M333.4,687.8L330.8,687M340.3,687.8L340.3,685M340.3,687.8L342.9,687M340.3,687.8L341.9,690M340.3,687.8L338.7,690M340.3,687.8L337.7,687M347.2,687.8L347.2,685M347.2,687.8L349.8,687M347.2,687.8L348.8,690M347.2,687.8L345.6,690M347.2,687.8L344.6,687" stroke="#000" stroke-width="1.35" fill="none" stroke-linecap="round"/><line x1="311.8" y1="699.2" x2="368.2" y2="699.2" stroke="#000" stroke-width="3"/><rect x="394.3" y="735.2" width="23" height="14" fill="#000000" stroke="none" stroke-width="0"/><text x="424.5" y="747.7" font-size="18">WT</text><rect x="394.3" y="756.6" width="23" height="14" fill="#808080" stroke="none" stroke-width="0"/><text x="424.5" y="769.1" font-size="18"><tspan font-style="italic">lpr</tspan>/+</text><rect x="394.3" y="778" width="23" height="14" fill="#0404f4" stroke="none" stroke-width="0"/><text x="424.5" y="790.5" font-size="18"><tspan font-style="italic">lpr</tspan>/<tspan font-style="italic">lpr</tspan></text><rect x="394.3" y="799.4" width="23" height="14" fill="#ff800a" stroke="none" stroke-width="0"/><text x="424.5" y="811.9" font-size="18">FasC194V<tspan dx="2" dy="-5.6" font-size="12.8"><tspan font-style="italic">lpr</tspan>/<tspan font-style="italic">lpr</tspan></tspan></text><line x1="662.4" y1="689.8" x2="662.4" y2="862.1" stroke="#000" stroke-width="2" stroke-linecap="butt"/><line x1="661.4" y1="861.1" x2="918.2" y2="861.1" stroke="#000" stroke-width="2" stroke-linecap="butt"/><line x1="654.9" y1="861.1" x2="662.4" y2="861.1" stroke="#000" stroke-width="2" stroke-linecap="butt"/><text x="649.6" y="867.6" font-size="17.9" text-anchor="end" fill="#000" font-weight="normal" font-style="normal" >0</text><line x1="654.9" y1="804.4" x2="662.4" y2="804.4" stroke="#000" stroke-width="2" stroke-linecap="butt"/><text x="649.6" y="810.9" font-size="17.9" text-anchor="end" fill="#000" font-weight="normal" font-style="normal" >5,000</text><line x1="654.9" y1="747.7" x2="662.4" y2="747.7" stroke="#000" stroke-width="2" stroke-linecap="butt"/><text x="649.6" y="754.2" font-size="17.9" text-anchor="end" fill="#000" font-weight="normal" font-style="normal" >10,000</text><line x1="654.9" y1="691" x2="662.4" y2="691" stroke="#000" stroke-width="2" stroke-linecap="butt"/><text x="649.6" y="697.5" font-size="17.9" text-anchor="end" fill="#000" font-weight="normal" font-style="normal" >15,000</text><rect x="673" y="847.5" width="44.1" height="13.6" fill="#000000" stroke="none" stroke-width="0"/><path d="M685,844.6H705M695,844.6V848.5M685,848.5H705" stroke="#000" stroke-width="1.6" fill="none"/><rect x="736.7" y="844.6" width="43.6" height="16.5" fill="#808080" stroke="none" stroke-width="0"/><path d="M748.5,841.3H768.5M758.5,841.3V848.7M748.5,848.7H768.5" stroke="#000" stroke-width="1.6" fill="none"/><rect x="799.9" y="757.7" width="43.7" height="103.4" fill="#0404f4" stroke="none" stroke-width="0"/><path d="M811.8,745.5H831.8M821.8,745.5V771.2M811.8,771.2H831.8" stroke="#000" stroke-width="1.6" fill="none"/><rect x="864" y="841.3" width="43.6" height="19.8" fill="#ff800a" stroke="none" stroke-width="0"/><path d="M875.8,838.5H895.8M885.8,838.5V845.8M875.8,845.8H895.8" stroke="#000" stroke-width="1.6" fill="none"/><text x="792" y="883.4" font-size="18" text-anchor="middle" fill="#000" font-weight="normal" font-style="normal" >Tefh</text><text transform="translate(586,776.2) rotate(-90)" font-size="18.4" text-anchor="middle">Number/10<tspan dy="-6" font-size="12.5">6</tspan><tspan dy="6"> cells</tspan></text><text x="785.2" y="647.5" font-size="18" text-anchor="middle" fill="#000" font-weight="normal" font-style="normal" >NS</text><line x1="692.6" y1="654.9" x2="877.4" y2="654.9" stroke="#000" stroke-width="3"/><path d="M744.6,664.5L744.6,661.8M744.6,664.5L747.2,663.7M744.6,664.5L746.2,666.7M744.6,664.5L743,666.7M744.6,664.5L742,663.7M751.5,664.5L751.5,661.8M751.5,664.5L754.1,663.7M751.5,664.5L753.1,666.7M751.5,664.5L749.9,666.7M751.5,664.5L748.9,663.7M758.4,664.5L758.4,661.8M758.4,664.5L761,663.7M758.4,664.5L760,666.7M758.4,664.5L756.8,666.7M758.4,664.5L755.8,663.7" stroke="#000" stroke-width="1.35" fill="none" stroke-linecap="round"/><line x1="692.6" y1="675.3" x2="809.7" y2="675.3" stroke="#000" stroke-width="3"/><path d="M778.8,687.3L778.8,684.5M778.8,687.3L781.4,686.5M778.8,687.3L780.4,689.5M778.8,687.3L777.2,689.5M778.8,687.3L776.2,686.5M785.7,687.3L785.7,684.5M785.7,687.3L788.3,686.5M785.7,687.3L787.3,689.5M785.7,687.3L784.1,689.5M785.7,687.3L783.1,686.5M792.6,687.3L792.6,684.5M792.6,687.3L795.2,686.5M792.6,687.3L794.2,689.5M792.6,687.3L791,689.5M792.6,687.3L790,686.5" stroke="#000" stroke-width="1.35" fill="none" stroke-linecap="round"/><line x1="757" y1="698.5" x2="813.8" y2="698.5" stroke="#000" stroke-width="3"/><path d="M846.3,687.3L846.3,684.5M846.3,687.3L848.9,686.5M846.3,687.3L847.9,689.5M846.3,687.3L844.7,689.5M846.3,687.3L843.7,686.5M853.2,687.3L853.2,684.5M853.2,687.3L855.8,686.5M853.2,687.3L854.8,689.5M853.2,687.3L851.6,689.5M853.2,687.3L850.6,686.5M860.1,687.3L860.1,684.5M860.1,687.3L862.7,686.5M860.1,687.3L861.7,689.5M860.1,687.3L858.5,689.5M860.1,687.3L857.5,686.5" stroke="#000" stroke-width="1.35" fill="none" stroke-linecap="round"/><line x1="825.2" y1="698.5" x2="881.5" y2="698.5" stroke="#000" stroke-width="3"/><line x1="148.3" y1="1269.6" x2="148.3" y2="1441.8" stroke="#000" stroke-width="2" stroke-linecap="butt"/><line x1="147.3" y1="1440.8" x2="402.6" y2="1440.8" stroke="#000" stroke-width="2" stroke-linecap="butt"/><line x1="140.8" y1="1440.8" x2="148.3" y2="1440.8" stroke="#000" stroke-width="2" stroke-linecap="butt"/><text x="137.1" y="1447.3" font-size="17.9" text-anchor="end" fill="#000" font-weight="normal" font-style="normal" >0</text><line x1="140.8" y1="1384" x2="148.3" y2="1384" stroke="#000" stroke-width="2" stroke-linecap="butt"/><text x="137.1" y="1390.5" font-size="17.9" text-anchor="end" fill="#000" font-weight="normal" font-style="normal" >10,000</text><line x1="140.8" y1="1327.2" x2="148.3" y2="1327.2" stroke="#000" stroke-width="2" stroke-linecap="butt"/><text x="137.1" y="1333.7" font-size="17.9" text-anchor="end" fill="#000" font-weight="normal" font-style="normal" >20,000</text><line x1="140.8" y1="1270.4" x2="148.3" y2="1270.4" stroke="#000" stroke-width="2" stroke-linecap="butt"/><text x="137.1" y="1276.9" font-size="17.9" text-anchor="end" fill="#000" font-weight="normal" font-style="normal" >30,000</text><rect x="158.3" y="1384.2" width="43.8" height="56.6" fill="#000000" stroke="none" stroke-width="0"/><path d="M169.2,1377.1H191.2M180.2,1377.1V1385.2M169.2,1385.2H191.2" stroke="#000" stroke-width="1.6" fill="none"/><rect x="222.3" y="1383" width="43.5" height="57.8" fill="#808080" stroke="none" stroke-width="0"/><path d="M233.1,1378.5H255.1M244.1,1378.5V1388.6M233.1,1388.6H255.1" stroke="#000" stroke-width="1.6" fill="none"/><rect x="285.6" y="1314.9" width="43.8" height="125.9" fill="#0404f4" stroke="none" stroke-width="0"/><path d="M296.5,1289.5H318.5M307.5,1289.5V1342.1M296.5,1342.1H318.5" stroke="#000" stroke-width="1.6" fill="none"/><rect x="349.5" y="1388.6" width="43.8" height="52.2" fill="#ff800a" stroke="none" stroke-width="0"/><path d="M360.4,1385.7H382.4M371.4,1385.7V1392.5M360.4,1392.5H382.4" stroke="#000" stroke-width="1.6" fill="none"/><text x="276" y="1464.9" font-size="18" text-anchor="middle" fill="#000" font-weight="normal" font-style="normal" >Treg</text><text transform="translate(69.6,1358) rotate(-90)" font-size="18.4" text-anchor="middle">Number/10<tspan dy="-6" font-size="12.5">6</tspan><tspan dy="6"> cells</tspan></text><rect x="384.8" y="1267.1" width="23" height="14" fill="#000000" stroke="none" stroke-width="0"/><text x="415" y="1279.6" font-size="18">WT</text><rect x="384.8" y="1288.5" width="23" height="14" fill="#808080" stroke="none" stroke-width="0"/><text x="415" y="1301" font-size="18"><tspan font-style="italic">lpr</tspan>/+</text><rect x="384.8" y="1309.9" width="23" height="14" fill="#0404f4" stroke="none" stroke-width="0"/><text x="415" y="1322.4" font-size="18"><tspan font-style="italic">lpr</tspan>/<tspan font-style="italic">lpr</tspan></text><rect x="384.8" y="1331.3" width="23" height="14" fill="#ff800a" stroke="none" stroke-width="0"/><text x="415" y="1343.8" font-size="18">FasC194V<tspan dx="2" dy="-5.6" font-size="12.8"><tspan font-style="italic">lpr</tspan>/<tspan font-style="italic">lpr</tspan></tspan></text></svg></body></html>
